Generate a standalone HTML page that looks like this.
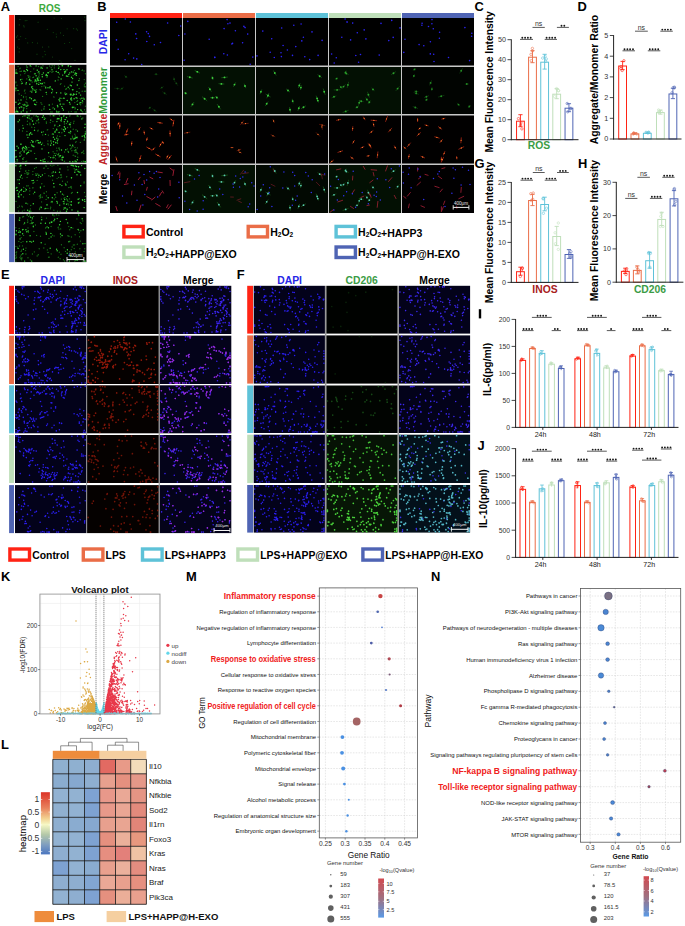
<!DOCTYPE html><html><head><meta charset="utf-8"><style>html,body{margin:0;padding:0;background:#fff;}svg{display:block;font-family:"Liberation Sans",sans-serif;}</style></head><body><svg width="685" height="926" viewBox="0 0 685 926" font-family="Liberation Sans">
<rect x="0.00" y="0.00" width="685.00" height="926.00" fill="#fff"/>
<defs><filter id="s" x="-2%" y="-2%" width="104%" height="104%"><feGaussianBlur stdDeviation="0.3"/></filter></defs>
<text x="0.7" y="10.8" font-size="12.9" fill="#000" font-weight="bold" text-anchor="start">A</text>
<text x="49.7" y="12.3" font-size="10" fill="#3daa3d" font-weight="bold" text-anchor="middle">ROS</text>
<rect x="14.90" y="15.00" width="71.50" height="247.10" fill="#e4e4e4"/>
<rect x="9.10" y="15.00" width="5.30" height="48.00" fill="#ff2314"/>
<rect x="14.90" y="15.00" width="71.50" height="48.00" fill="#010301"/>
<path d="M38.1 22.2h0M61.4 18.5h0M53.2 32.6h0M19.0 39.4h0M17.6 35.8h0M19.9 19.4h0M45.3 54.7h0M23.8 25.7h0M59.8 60.5h0M56.2 34.0h0M84.7 17.2h0M76.3 28.9h0M25.2 20.7h0M37.0 54.2h0M27.8 42.9h0M60.6 32.9h0M54.1 18.0h0M19.2 24.9h0M63.5 35.5h0M37.4 43.1h0M47.3 29.4h0M71.7 48.6h0M32.4 42.6h0M52.5 57.0h0M67.1 28.8h0M85.0 20.7h0M44.8 51.3h0M25.8 38.5h0M17.7 47.1h0M69.6 42.5h0M77.5 30.1h0M64.6 43.5h0M56.4 36.9h0M75.0 60.3h0M48.8 46.9h0M19.2 48.7h0M61.2 62.0h0M73.7 28.7h0M42.5 47.1h0M16.5 37.2h0M26.9 20.6h0M19.1 51.9h0M24.1 26.9h0M42.9 56.8h0M20.7 36.6h0" stroke="#145214" stroke-width="1.20" stroke-linecap="round" opacity="0.8" fill="none" filter="url(#s)"/>
<rect x="9.10" y="64.80" width="5.30" height="48.20" fill="#ea6d47"/>
<rect x="14.90" y="64.80" width="71.50" height="48.20" fill="#010301"/>
<path d="M15.9 70.1h0M30.0 76.9h0M74.4 70.4h0M26.1 96.9h0M62.3 104.1h0M80.6 104.7h0M80.5 99.1h0M25.6 71.6h0M40.9 83.3h0M43.9 109.3h0M16.8 111.3h0M64.6 86.2h0M46.6 94.3h0M26.0 106.6h0M41.7 110.3h0M58.4 65.8h0M69.4 88.8h0M40.0 89.8h0M54.1 97.1h0M36.7 102.2h0M30.6 110.7h0M68.7 76.2h0M23.5 96.5h0M15.9 81.9h0M27.2 103.0h0M25.9 101.9h0M71.3 111.6h0M53.0 71.5h0M24.4 91.0h0M51.2 67.8h0M23.7 71.1h0M57.9 72.4h0M60.3 103.4h0M25.6 71.8h0M33.7 89.7h0M59.4 66.9h0M82.0 111.5h0M59.5 74.0h0M74.9 112.0h0M43.0 65.8h0M34.5 81.7h0M84.4 86.6h0M19.2 94.0h0M84.3 79.6h0M36.8 81.5h0M60.4 84.3h0M31.8 87.8h0M51.9 72.2h0M84.5 109.7h0M16.3 109.9h0M50.8 112.0h0M84.4 91.2h0M38.8 77.1h0M80.1 98.6h0M79.8 102.6h0M25.2 93.1h0M52.4 104.1h0M40.8 90.1h0M71.0 93.6h0M66.4 88.6h0M34.4 73.9h0M59.8 100.2h0M24.9 90.0h0M36.3 81.9h0M63.7 98.2h0M44.0 108.3h0M41.8 86.6h0M32.2 82.1h0M53.3 107.6h0M79.1 69.2h0M84.4 84.9h0M76.0 112.0h0M85.4 112.0h0M24.8 73.6h0M28.0 75.8h0M20.2 68.1h0M61.9 65.8h0M84.4 99.2h0M85.4 91.3h0M83.5 97.9h0M82.3 103.1h0M80.6 109.8h0M53.7 96.9h0M24.4 104.3h0M76.9 101.5h0M49.7 66.0h0M65.7 70.7h0M44.7 82.9h0M77.6 100.5h0M23.5 109.5h0M79.4 78.8h0M26.8 78.9h0M61.8 98.4h0M32.6 86.4h0M32.7 77.6h0M33.6 77.2h0M41.9 104.2h0M82.2 91.3h0M18.4 100.1h0M18.1 66.4h0M23.5 97.6h0M52.2 65.8h0M73.2 75.6h0M21.5 81.6h0M21.4 71.2h0M65.7 89.2h0M16.1 107.9h0M54.3 65.8h0M56.5 111.0h0M52.2 112.0h0M35.5 100.3h0M52.7 91.0h0M66.6 88.7h0M84.1 70.9h0M85.4 83.3h0M44.1 86.0h0M79.5 103.8h0M22.7 104.6h0M75.4 107.9h0M28.8 76.0h0M82.1 70.4h0M50.0 71.4h0M22.0 79.3h0M28.6 77.4h0M15.9 90.7h0M34.8 80.0h0M32.2 90.2h0M44.3 106.5h0M36.6 89.7h0M82.9 101.8h0M31.1 66.4h0M73.4 89.8h0M26.6 99.1h0M39.2 75.0h0M20.5 74.9h0M19.9 68.7h0M58.4 77.0h0M51.5 88.6h0M58.1 80.0h0M37.4 70.3h0M21.4 83.7h0M68.3 66.3h0M85.4 106.3h0M81.2 102.4h0M39.0 82.5h0M39.6 73.2h0M85.4 86.8h0M72.4 107.7h0M59.6 111.7h0M82.8 112.0h0M33.3 100.8h0M39.1 77.9h0M59.0 77.4h0M37.5 78.1h0M17.0 85.3h0M41.0 102.7h0M21.5 95.4h0M74.8 102.6h0M70.2 94.1h0M68.7 112.0h0M26.7 108.6h0M15.9 82.7h0M20.1 71.4h0M33.8 68.9h0M30.7 71.6h0M16.3 69.8h0M26.4 65.8h0M26.0 105.1h0M54.3 67.9h0M38.1 72.7h0M15.9 89.7h0M38.7 76.6h0M85.4 73.8h0M75.0 108.9h0M26.9 102.8h0M35.1 80.5h0M47.0 77.3h0M82.5 69.9h0M40.8 68.5h0M76.3 112.0h0M80.2 104.1h0M44.1 82.7h0M42.6 96.4h0M15.9 87.4h0M38.5 66.5h0M50.9 112.0h0M30.3 91.2h0M79.2 88.4h0M61.0 83.6h0M52.8 108.0h0" stroke="#1c7a1c" stroke-width="1.40" stroke-linecap="round" opacity="0.9" fill="none" filter="url(#s)"/>
<path d="M70.1 104.1h0M18.4 104.3h0M23.8 105.1h0M38.6 80.6h0M68.8 74.4h0M73.2 72.1h0M31.8 92.0h0M77.1 98.1h0M80.6 95.1h0M47.1 67.9h0M57.5 105.4h0M68.3 65.8h0M32.7 88.7h0M18.0 90.4h0M45.7 87.1h0M64.0 98.3h0M45.7 87.9h0M63.4 110.0h0M71.5 77.3h0M68.2 87.2h0M47.3 75.7h0M36.1 75.8h0M81.1 110.2h0M67.3 76.2h0M35.0 90.3h0M78.8 68.9h0M26.0 83.9h0M82.4 100.8h0M70.9 99.5h0M60.0 98.2h0M36.8 83.8h0M15.9 73.2h0M62.5 65.8h0M26.4 82.6h0M17.1 111.2h0M58.2 112.0h0M27.1 67.1h0M66.4 76.0h0M30.2 65.8h0M42.3 76.7h0M77.3 85.0h0M60.2 104.6h0M42.2 68.2h0M61.1 79.0h0M50.1 86.6h0M27.9 105.2h0M40.4 80.2h0M35.9 81.0h0M37.5 80.0h0M34.6 104.2h0M77.4 104.4h0M15.9 88.5h0M76.5 73.4h0M51.7 92.7h0M49.2 105.0h0M63.9 104.1h0M35.8 92.4h0M69.7 72.9h0M17.1 73.2h0M38.8 71.8h0M31.6 87.0h0M71.3 85.7h0M29.7 79.2h0M56.5 92.7h0M15.9 102.3h0M77.6 109.6h0M59.0 99.7h0M66.6 93.9h0M42.0 83.9h0M67.0 69.7h0M22.2 83.3h0M71.7 100.1h0M67.2 100.5h0M71.4 98.0h0M46.1 75.5h0M36.1 65.9h0M76.3 94.3h0M65.0 93.1h0M35.1 73.7h0M60.8 92.9h0M71.5 71.9h0M19.5 107.7h0M17.9 112.0h0M29.3 80.0h0M78.9 80.6h0M70.8 66.5h0M49.8 109.4h0M52.0 69.7h0M42.1 74.6h0M21.8 107.1h0M29.9 97.8h0M65.4 94.6h0M15.9 112.0h0M61.8 106.6h0M49.8 87.7h0M84.0 98.9h0M47.9 72.7h0M19.8 103.3h0M71.1 94.8h0M30.9 80.8h0M79.1 92.9h0M31.4 98.7h0M46.3 74.5h0M72.0 82.1h0M34.7 99.9h0M65.6 71.8h0M74.1 98.8h0M24.9 104.9h0M55.3 80.9h0M40.5 83.6h0M38.0 79.3h0M29.8 84.2h0M33.9 100.5h0M74.9 74.3h0M80.4 102.6h0M58.6 68.3h0M73.0 95.3h0M58.3 72.5h0M24.2 71.0h0M73.8 107.2h0M62.5 108.4h0M64.0 69.6h0M21.0 100.0h0M62.7 75.1h0M81.9 98.3h0M70.9 98.5h0M76.1 97.8h0M35.8 104.7h0M52.3 89.4h0M35.6 79.9h0M23.9 108.0h0M21.2 112.0h0M73.7 94.0h0M27.5 70.5h0M41.1 67.3h0M56.2 71.5h0M72.4 107.2h0M26.9 112.0h0M21.1 106.9h0M76.9 91.6h0M72.5 89.7h0M64.6 73.1h0M70.2 85.1h0M74.1 94.4h0M46.2 92.4h0M38.7 84.4h0M26.7 69.4h0M76.3 75.3h0M42.3 83.4h0M75.3 73.0h0M64.6 71.8h0M35.9 91.7h0M15.9 111.9h0M43.4 72.9h0M20.6 79.8h0M26.8 106.3h0M37.3 78.2h0M48.5 72.8h0M23.2 110.8h0M54.5 109.0h0M59.8 101.1h0M37.2 70.1h0M57.8 106.7h0M16.0 72.1h0M56.7 111.9h0M70.4 94.8h0M72.6 78.5h0M48.0 87.8h0M69.5 102.5h0M60.8 69.6h0" stroke="#36d636" stroke-width="1.44" stroke-linecap="round" opacity="1" fill="none" filter="url(#s)"/>
<rect x="9.10" y="114.70" width="5.30" height="48.00" fill="#5ec2d8"/>
<rect x="14.90" y="114.70" width="71.50" height="48.00" fill="#010301"/>
<path d="M59.5 149.7h0M46.3 121.9h0M74.6 161.7h0M38.8 122.8h0M30.5 142.6h0M26.8 161.1h0M72.4 136.3h0M54.7 115.7h0M83.6 151.0h0M29.3 118.3h0M61.1 159.6h0M38.0 120.7h0M70.7 122.7h0M53.5 155.9h0M70.2 133.5h0M24.3 150.8h0M27.4 121.3h0M56.1 130.4h0M71.8 147.0h0M81.5 161.7h0M50.2 115.7h0M49.0 156.6h0M64.5 119.4h0M75.0 155.9h0M50.3 122.6h0M75.5 156.4h0M70.0 115.7h0M59.1 156.9h0M47.7 129.7h0M21.4 155.0h0M27.2 115.7h0M57.3 136.0h0M59.5 115.7h0M70.0 125.1h0M73.2 155.2h0M47.9 143.7h0M72.6 137.7h0M26.6 154.3h0M42.7 134.9h0M52.5 133.7h0M70.4 131.0h0M61.8 128.9h0M62.6 156.2h0M77.4 147.9h0M57.0 150.8h0M73.6 123.3h0M64.3 161.1h0M28.9 118.2h0M78.2 116.3h0M23.9 115.7h0M53.1 151.7h0M22.5 131.0h0M83.2 161.3h0M22.7 158.7h0M38.1 142.9h0M80.4 142.4h0M21.0 151.4h0M54.5 125.9h0M47.9 141.0h0M66.4 123.5h0M55.2 131.1h0M77.1 152.8h0M38.1 130.3h0M75.6 142.2h0M46.4 123.2h0M73.1 146.6h0M22.7 125.5h0M67.7 122.1h0M31.8 117.9h0M56.1 153.8h0M68.0 151.2h0M27.4 124.5h0M42.6 143.1h0M64.5 127.4h0M76.2 141.6h0M30.1 119.0h0M71.0 148.5h0M85.4 133.0h0M73.3 138.9h0M75.4 138.1h0M75.1 160.5h0M77.7 153.7h0M36.3 140.4h0M19.4 129.9h0M70.4 148.9h0M52.9 121.6h0M67.6 127.5h0M48.4 135.1h0M33.9 115.7h0M47.2 129.9h0M37.8 131.0h0M77.0 138.0h0M23.8 157.6h0M80.6 116.2h0M44.4 117.6h0M51.5 161.7h0M29.1 150.4h0M58.0 126.6h0M74.9 152.0h0M24.5 115.7h0M38.5 140.6h0M22.6 116.5h0M34.6 153.4h0M58.7 153.4h0M74.4 150.4h0M81.6 152.7h0M74.0 121.2h0M55.3 132.0h0M55.6 158.9h0M82.6 152.3h0M76.0 129.8h0M73.2 129.3h0M77.8 157.2h0M53.3 128.6h0M16.5 156.4h0M85.2 133.9h0M35.7 141.7h0M75.3 136.0h0M44.1 145.6h0M71.9 150.7h0M54.4 153.5h0M32.2 120.9h0M60.5 120.4h0M83.8 153.5h0M41.8 160.7h0M64.4 124.0h0M36.6 120.8h0M31.2 119.4h0M23.0 161.7h0M25.9 161.7h0M69.6 116.1h0M25.3 115.7h0M64.6 152.0h0M57.0 130.2h0M34.6 127.6h0M25.2 161.7h0M43.4 131.8h0M48.1 144.8h0M29.9 123.3h0M84.4 161.7h0M48.0 161.7h0M70.6 127.0h0M67.4 148.9h0M27.2 149.0h0M26.1 150.1h0M20.8 144.4h0M75.0 147.5h0M85.1 161.7h0M61.8 158.0h0M56.7 148.1h0M63.6 116.5h0M83.9 161.2h0M64.6 161.7h0M52.3 134.2h0M45.5 118.5h0M59.8 136.4h0M15.9 161.7h0M24.0 151.3h0M30.0 124.7h0M31.8 127.2h0M26.9 131.4h0M26.0 161.7h0M17.6 161.1h0M35.7 123.3h0M28.9 147.4h0M61.9 132.7h0M85.4 131.4h0M74.9 134.2h0M82.8 118.0h0M54.4 157.6h0" stroke="#1c7a1c" stroke-width="1.40" stroke-linecap="round" opacity="0.9" fill="none" filter="url(#s)"/>
<path d="M55.4 155.6h0M62.2 157.6h0M63.9 115.7h0M65.5 119.6h0M29.0 115.8h0M33.2 146.1h0M42.5 117.4h0M31.7 140.6h0M57.5 140.8h0M27.0 134.9h0M69.4 124.3h0M58.0 139.1h0M23.0 159.1h0M22.4 148.3h0M60.6 155.7h0M44.9 161.7h0M61.4 119.3h0M76.1 137.6h0M63.4 129.8h0M51.5 161.7h0M24.3 148.1h0M26.8 153.4h0M69.0 132.5h0M40.6 160.5h0M53.4 137.3h0M54.6 139.3h0M69.9 161.7h0M18.1 121.7h0M75.0 138.3h0M40.4 142.2h0M53.1 157.7h0M70.1 145.2h0M65.8 149.8h0M77.3 159.8h0M27.4 117.6h0M23.2 128.2h0M32.7 142.1h0M70.9 138.9h0M72.8 161.7h0M85.4 161.7h0M27.4 152.8h0M56.9 121.6h0M32.9 142.2h0M43.4 115.7h0M56.7 129.3h0M53.6 144.7h0M84.5 136.3h0M20.8 144.1h0M57.5 143.1h0M24.2 152.0h0M68.5 152.1h0M57.9 118.5h0M77.5 131.1h0M32.6 121.0h0M17.1 159.8h0M53.3 115.7h0M44.3 119.3h0M21.1 144.1h0M85.4 133.9h0M77.3 115.9h0M81.8 118.9h0M38.4 119.2h0M59.0 118.7h0M50.9 140.9h0M64.4 126.8h0M44.7 159.1h0M17.0 146.2h0M54.9 132.0h0M30.7 132.8h0M55.8 142.4h0M38.6 142.8h0M61.5 150.0h0M53.3 134.1h0M76.1 152.1h0M72.7 145.3h0M50.6 145.2h0M41.5 144.5h0M22.6 149.9h0M65.5 128.5h0M54.9 125.1h0M59.7 125.5h0M43.1 159.9h0M15.9 157.0h0M84.8 127.6h0M77.0 137.3h0M33.9 146.7h0M26.5 147.5h0M31.0 151.0h0M75.8 150.0h0M62.3 160.0h0M36.2 115.9h0M27.9 137.6h0M56.7 138.1h0M32.3 146.0h0M25.9 148.9h0M59.0 148.1h0M50.7 157.6h0M61.5 117.7h0M19.5 120.0h0M84.3 139.9h0M29.8 133.7h0M50.7 120.1h0M85.1 124.2h0M75.9 161.4h0M70.7 131.7h0M84.9 137.8h0M53.5 141.7h0M61.3 120.9h0M74.0 139.0h0M64.4 131.2h0M66.5 117.5h0M70.2 124.5h0M64.3 121.8h0M37.8 140.5h0M18.4 148.0h0M58.1 154.8h0M15.9 150.5h0M51.4 143.1h0M31.7 144.9h0M42.0 148.9h0M65.2 129.2h0M20.0 153.0h0M43.2 161.7h0M39.8 143.0h0M67.5 121.3h0M76.2 161.7h0M33.5 124.3h0M48.6 152.7h0M45.5 134.4h0M41.7 132.2h0M25.6 146.5h0M20.0 156.2h0M31.9 134.3h0M36.0 158.8h0M55.8 142.7h0M33.0 141.4h0M45.1 161.7h0M34.5 130.3h0M63.2 157.3h0M29.3 135.0h0M59.1 132.5h0M59.7 155.9h0M84.2 135.4h0M23.3 147.2h0M37.9 116.8h0M82.2 136.2h0M28.6 152.3h0M57.3 118.9h0M65.0 135.6h0M27.5 117.8h0" stroke="#36d636" stroke-width="1.44" stroke-linecap="round" opacity="1" fill="none" filter="url(#s)"/>
<rect x="9.10" y="164.20" width="5.30" height="48.00" fill="#bfdfba"/>
<rect x="14.90" y="164.20" width="71.50" height="48.00" fill="#010301"/>
<path d="M29.7 188.2h0M50.4 208.8h0M84.2 182.0h0M39.7 208.3h0M69.6 207.6h0M32.8 174.6h0M39.5 209.5h0M22.4 206.9h0M50.4 165.2h0M36.2 167.5h0M54.2 198.9h0M20.8 166.8h0M51.0 202.1h0M70.0 202.0h0M40.6 196.0h0M46.1 166.4h0M42.3 197.3h0M39.2 196.1h0M33.4 193.8h0M18.6 211.1h0M67.0 208.5h0M53.1 175.7h0M77.9 169.9h0M55.7 197.3h0M79.3 198.5h0M20.6 165.8h0M62.5 181.2h0M28.8 170.5h0M67.2 199.5h0M37.7 174.0h0M47.9 208.4h0M65.5 184.8h0M25.5 188.7h0M26.8 173.1h0M64.0 198.2h0M44.1 167.9h0M53.9 165.2h0M24.9 173.6h0M68.7 187.6h0M37.2 180.4h0M50.4 176.6h0M32.9 171.6h0M72.3 192.5h0M27.1 177.4h0M48.0 168.4h0M68.6 204.9h0M61.6 177.1h0M17.9 207.6h0M63.7 209.4h0M43.9 168.4h0M63.7 195.0h0M30.7 205.5h0M46.0 165.2h0M27.3 174.6h0M64.2 201.9h0M52.1 165.9h0M46.5 195.9h0M23.5 197.0h0M40.4 186.6h0M79.1 202.1h0M20.7 168.7h0M71.4 193.3h0M84.1 183.0h0M38.3 177.3h0M19.4 206.1h0M67.4 200.4h0M33.0 187.8h0M28.1 185.8h0M41.6 201.9h0M70.2 187.2h0M22.2 178.3h0M57.1 178.6h0M78.6 199.2h0M17.4 179.8h0M32.7 187.9h0M44.1 186.3h0M27.9 172.9h0M16.7 190.5h0M75.1 170.3h0M71.5 188.0h0M28.1 174.2h0M29.6 194.4h0M27.7 203.9h0M15.9 201.4h0M40.6 197.5h0M31.0 211.2h0M74.2 168.8h0M30.1 211.2h0M47.1 204.4h0M25.7 171.3h0M65.4 183.4h0M19.4 166.2h0M73.4 166.0h0M24.2 210.1h0M70.9 165.2h0M67.4 182.0h0M26.8 172.7h0M68.0 169.9h0M64.1 201.3h0M41.8 183.8h0M44.5 208.7h0M61.3 199.1h0M65.0 197.6h0M23.7 187.5h0M30.7 211.2h0M50.7 207.3h0M68.0 203.6h0M85.4 196.4h0M58.7 177.4h0M28.8 173.1h0M52.2 202.6h0M20.5 165.3h0M60.9 177.7h0M25.4 191.0h0M57.1 192.8h0M40.6 194.7h0M69.5 198.9h0M60.2 211.2h0M53.9 210.2h0M34.1 182.2h0M34.5 168.5h0M44.9 173.6h0M57.9 165.2h0M22.3 211.1h0M71.4 178.1h0M52.6 180.2h0M84.5 192.5h0M16.1 201.5h0M68.0 201.3h0M43.8 193.1h0M66.6 198.7h0M57.4 211.2h0M39.9 198.1h0M25.9 170.7h0M35.9 173.7h0M66.7 176.8h0M40.9 206.6h0M77.6 171.4h0M30.3 208.9h0M48.7 175.7h0M52.0 173.0h0M46.1 199.4h0M26.6 185.9h0M39.8 196.0h0M71.1 186.5h0M44.3 193.2h0M29.8 190.9h0M67.7 166.9h0M21.9 206.3h0M46.4 191.7h0" stroke="#1c7a1c" stroke-width="1.40" stroke-linecap="round" opacity="0.9" fill="none" filter="url(#s)"/>
<path d="M32.0 180.6h0M21.5 189.5h0M19.2 179.7h0M26.4 189.7h0M54.0 186.9h0M52.0 201.5h0M78.6 171.8h0M66.0 184.9h0M66.6 204.3h0M74.8 172.3h0M80.7 175.0h0M16.2 188.1h0M66.5 211.2h0M64.0 203.7h0M60.0 184.5h0M80.7 185.8h0M33.1 183.1h0M65.4 207.9h0M33.3 180.4h0M18.4 196.4h0M77.9 211.2h0M57.4 203.0h0M48.2 197.7h0M55.5 172.3h0M19.0 196.1h0M45.8 208.5h0M72.0 209.9h0M40.7 176.6h0M79.9 172.2h0M81.6 165.6h0M17.4 190.4h0M75.4 165.9h0M64.7 199.5h0M78.8 202.7h0M27.6 210.3h0M71.4 205.1h0M54.9 194.7h0M20.4 177.0h0M73.1 165.7h0M76.2 169.5h0M52.4 175.7h0M52.3 197.7h0M36.2 175.2h0M60.0 168.9h0M42.4 175.0h0M62.4 194.1h0M71.5 177.8h0M59.7 205.1h0M82.7 200.3h0M82.5 199.7h0M41.2 207.5h0M23.8 191.4h0M47.0 205.0h0M84.6 199.6h0M40.4 187.7h0M78.4 203.0h0M15.9 165.8h0M76.5 166.5h0M29.3 211.2h0M21.2 194.7h0M67.2 209.6h0M20.8 165.2h0M26.0 203.2h0M71.8 165.2h0M56.9 201.4h0M84.8 201.4h0M59.5 172.2h0M19.3 192.0h0M21.0 190.5h0M71.4 201.8h0M84.1 207.6h0M71.0 204.7h0M64.2 208.0h0M77.0 174.8h0M25.7 165.2h0M63.3 201.6h0M60.6 191.7h0M33.3 203.7h0M19.0 197.0h0M21.3 175.3h0M19.6 171.6h0M84.8 168.5h0M53.7 183.5h0M18.3 194.0h0M61.9 185.6h0M78.6 166.8h0M53.3 171.9h0M38.9 175.3h0M61.0 174.9h0M16.9 187.4h0M67.4 196.4h0M34.7 192.2h0M19.3 183.6h0M77.5 192.5h0M78.1 199.3h0" stroke="#36d636" stroke-width="1.44" stroke-linecap="round" opacity="1" fill="none" filter="url(#s)"/>
<rect x="9.10" y="213.90" width="5.30" height="48.20" fill="#4f64b4"/>
<rect x="14.90" y="213.90" width="71.50" height="48.20" fill="#010301"/>
<path d="M26.0 248.1h0M64.1 247.8h0M77.3 244.3h0M40.5 236.3h0M80.9 230.7h0M79.6 236.7h0M58.1 227.8h0M59.3 252.3h0M85.4 243.6h0M41.6 217.2h0M64.6 261.0h0M65.5 251.4h0M47.9 252.4h0M47.3 249.9h0M58.3 257.3h0M38.3 254.8h0M33.9 231.5h0M30.2 223.6h0M15.9 246.5h0M69.9 241.2h0M73.3 245.0h0M20.2 232.1h0M69.0 236.3h0M16.3 254.1h0M22.6 217.0h0M16.7 257.1h0M54.1 235.9h0M19.6 246.0h0M69.7 229.8h0M27.8 222.0h0M19.3 230.7h0M60.7 228.9h0M69.7 251.8h0M48.5 257.3h0M37.2 256.0h0M15.9 255.7h0M19.8 235.4h0M48.2 252.4h0M36.6 235.4h0M77.1 259.3h0M28.0 227.9h0M35.4 225.0h0M30.1 241.6h0M45.9 232.2h0M81.4 223.6h0M45.6 228.0h0M22.5 245.9h0M74.2 248.5h0M28.0 257.8h0M25.9 254.0h0M29.7 215.0h0M15.9 258.5h0M70.2 256.5h0M84.1 251.5h0M20.4 256.1h0M56.7 214.9h0M49.0 238.6h0M31.5 222.3h0M84.7 248.7h0M17.6 247.1h0M52.4 235.2h0M46.5 218.1h0M21.4 254.8h0M15.9 261.1h0M60.1 258.7h0M75.4 260.5h0M79.5 232.6h0M80.3 222.8h0M80.4 241.1h0M20.0 257.6h0M34.3 251.9h0M32.3 219.0h0M47.3 226.7h0M54.1 215.9h0M49.0 238.4h0M63.4 259.8h0M15.9 227.7h0M82.8 220.9h0M21.1 242.4h0M70.7 227.7h0M71.4 237.0h0M84.6 243.6h0M46.4 227.1h0M19.2 228.4h0M60.6 236.9h0M74.6 244.9h0M16.1 252.5h0M71.3 249.8h0M21.5 250.1h0M49.4 257.1h0M39.2 248.7h0M21.6 259.8h0M21.3 258.5h0M51.2 253.9h0M45.1 244.2h0M27.7 220.0h0M78.7 230.4h0M21.2 237.6h0M28.7 216.5h0M74.7 261.1h0M32.4 254.0h0M27.4 222.6h0M33.3 227.0h0M79.9 248.7h0M15.9 235.1h0M68.7 226.6h0M23.6 216.5h0M19.0 219.9h0M18.8 241.4h0M56.3 214.9h0M28.4 232.2h0M58.3 227.1h0M58.9 229.1h0M67.9 235.7h0M58.8 215.1h0M52.3 221.9h0M15.9 257.9h0M20.8 258.7h0M25.6 250.6h0M76.9 218.9h0M21.1 251.4h0M31.1 220.4h0M33.6 216.4h0M75.3 251.9h0M51.1 226.5h0M82.3 261.1h0M23.8 224.1h0M21.9 258.2h0M72.9 228.1h0M16.7 251.9h0M72.2 247.0h0M43.8 248.0h0M78.8 215.6h0M21.9 257.6h0M75.1 234.7h0M61.0 254.3h0M23.0 241.6h0M30.3 259.9h0M23.6 235.4h0M61.4 244.8h0" stroke="#1c7a1c" stroke-width="1.40" stroke-linecap="round" opacity="0.9" fill="none" filter="url(#s)"/>
<path d="M51.5 222.4h0M22.6 233.7h0M20.1 238.9h0M22.8 253.8h0M32.0 223.6h0M62.1 235.5h0M67.4 249.7h0M71.4 227.6h0M26.8 231.7h0M51.4 222.0h0M41.2 242.8h0M57.2 218.6h0M25.9 229.7h0M56.6 249.2h0M32.4 217.9h0M19.8 218.0h0M33.0 222.6h0M78.1 229.4h0M78.6 214.9h0M51.1 236.9h0M60.5 234.0h0M18.1 248.4h0M23.0 229.4h0M31.7 261.1h0M22.6 229.7h0M59.6 224.7h0M60.4 221.4h0M66.2 219.5h0M30.6 217.3h0M30.0 241.5h0M71.1 255.6h0M85.4 261.1h0M69.4 261.1h0M27.2 214.9h0M16.0 234.2h0M84.3 261.1h0M23.4 249.3h0M67.2 253.3h0M54.0 220.7h0M30.1 235.7h0M26.8 241.8h0M68.9 241.7h0M19.6 220.3h0M77.1 260.2h0M52.8 214.9h0M50.2 248.2h0M67.6 222.9h0M28.2 230.9h0M78.9 254.8h0M46.3 234.2h0M82.9 243.7h0M20.4 232.0h0M45.4 223.2h0M41.7 219.7h0M46.3 233.1h0M24.6 223.0h0M48.4 227.7h0M54.7 219.3h0M16.4 230.8h0M40.9 223.2h0M31.6 242.1h0M33.3 226.3h0M83.3 229.7h0M33.4 241.3h0M57.2 250.7h0M24.6 261.1h0M49.7 223.0h0M50.9 233.4h0M18.8 232.2h0M82.2 218.7h0" stroke="#36d636" stroke-width="1.44" stroke-linecap="round" opacity="1" fill="none" filter="url(#s)"/>
<line x1="67.00" y1="259.60" x2="83.90" y2="259.60" stroke="#f4f4f4" stroke-width="1.0"/>
<line x1="67.00" y1="257.00" x2="67.00" y2="261.60" stroke="#f4f4f4" stroke-width="0.9"/>
<line x1="83.90" y1="257.00" x2="83.90" y2="261.60" stroke="#f4f4f4" stroke-width="0.9"/>
<text x="75.5" y="256.8" font-size="4.6" fill="#e8e8e8" text-anchor="middle">400μm</text>
<text x="97.2" y="10.9" font-size="12.9" fill="#000" font-weight="bold" text-anchor="start">B</text>
<rect x="110.00" y="13.00" width="72.00" height="5.00" fill="#ff2314"/>
<rect x="183.00" y="13.00" width="72.00" height="5.00" fill="#ea6d47"/>
<rect x="256.00" y="13.00" width="72.00" height="5.00" fill="#5ec2d8"/>
<rect x="329.00" y="13.00" width="72.00" height="5.00" fill="#bfdfba"/>
<rect x="402.00" y="13.00" width="72.00" height="5.00" fill="#4f64b4"/>
<rect x="110.00" y="18.00" width="364.00" height="195.00" fill="#c8c8c8"/>
<text x="107.3" y="41.8" font-size="10.35" font-weight="bold" fill="#2626e6" text-anchor="middle" transform="rotate(-90 107.3 41.8)">DAPI</text>
<text x="107.3" y="165" font-size="10.35" font-weight="bold" text-anchor="start" transform="rotate(-90 107.3 165)"><tspan fill="#c0282a">Aggregate</tspan><tspan fill="#2f9a3a">Monomer</tspan></text>
<text x="107.3" y="189" font-size="10.35" font-weight="bold" fill="#000" text-anchor="middle" transform="rotate(-90 107.3 189)">Merge</text>
<rect x="110.00" y="18.00" width="72.00" height="47.50" fill="#000"/>
<path d="M149.5 36.4h0M167.6 23.0h0M128.7 53.8h0M141.7 64.5h0M116.5 39.9h0M125.3 19.0h0M116.7 22.3h0M136.6 38.5h0M146.6 31.7h0M160.5 42.5h0M180.7 26.0h0M146.8 41.5h0M136.8 58.9h0M125.1 59.7h0M135.8 33.9h0M154.3 44.8h0M130.4 22.0h0M178.8 35.5h0M118.2 49.2h0M148.3 33.6h0M133.6 58.1h0" stroke="#2c24f4" stroke-width="1.60" stroke-linecap="round" opacity="1" fill="none" filter="url(#s)"/>
<rect x="110.00" y="67.00" width="72.00" height="47.00" fill="#010201"/>
<path d="M123.8 86.9L120.0 90.2M163.5 86.4L160.0 88.9M114.6 88.2L120.3 89.0M174.9 81.3L177.9 85.6M124.3 75.6L127.4 77.7M152.3 108.6L156.9 112.2M151.1 106.9L148.5 108.6M154.2 74.3L158.0 74.4M162.4 91.8L166.8 94.9M173.8 76.9L174.5 81.5" stroke="#124a12" stroke-width="0.7" stroke-linecap="round" opacity="0.45" fill="none" filter="url(#s)"/>
<path d="M121.9 88.6h0M161.8 87.6h0M117.5 88.6h0M176.4 83.4h0M125.9 76.7h0M154.6 110.4h0M149.8 107.7h0M156.1 74.3h0M164.6 93.3h0M174.1 79.2h0" stroke="#124a12" stroke-width="1.90" stroke-linecap="round" opacity="1" fill="none" filter="url(#s)"/>
<rect x="110.00" y="115.50" width="72.00" height="48.00" fill="#010000"/>
<path d="M173.9 120.2L172.9 126.0M155.0 147.7L151.8 150.4M131.9 141.6L131.5 145.3M170.0 130.9L170.2 136.1M168.1 155.2L166.6 158.2M171.2 155.5L168.0 159.5M147.3 137.8L146.5 140.7M155.7 154.1L160.2 156.7M157.8 122.5L162.3 123.2M127.8 128.9L126.0 133.4M162.3 141.4L163.5 143.6M120.0 123.5L119.6 128.5M128.1 134.3L124.3 135.0M161.5 142.9L159.5 146.5M146.8 147.1L151.4 149.6M170.0 118.6L172.7 120.6M119.0 122.3L117.8 125.0M115.9 157.0L117.2 161.2M144.0 131.0L144.5 134.2M150.0 127.8L152.9 129.3M141.0 155.6L139.2 161.3M140.2 127.7L138.3 130.2" stroke="#e0301c" stroke-width="0.9" stroke-linecap="round" opacity="0.765" fill="none" filter="url(#s)"/>
<path d="M173.4 123.1h0M153.4 149.1h0M131.7 143.5h0M170.1 133.5h0M167.3 156.7h0M169.6 157.5h0M146.9 139.2h0M158.0 155.4h0M160.0 122.8h0M126.9 131.1h0M162.9 142.5h0M119.8 126.0h0M126.2 134.7h0M160.5 144.7h0M149.1 148.3h0M171.4 119.6h0M118.4 123.7h0M116.5 159.1h0M144.2 132.6h0M151.4 128.6h0M140.1 158.4h0M139.3 129.0h0" stroke="#ff7a28" stroke-width="1.30" stroke-linecap="round" opacity="1" fill="none" filter="url(#s)"/>
<rect x="110.00" y="165.00" width="72.00" height="48.00" fill="#010001"/>
<path d="M173.9 169.7L172.9 175.5M155.0 197.2L151.8 199.9M131.9 191.1L131.5 194.8M170.0 180.4L170.2 185.6M168.1 204.7L166.6 207.7M171.2 205.0L168.0 209.0M147.3 187.3L146.5 190.2M155.7 203.6L160.2 206.2M157.8 172.0L162.3 172.7M127.8 178.4L126.0 182.9M162.3 190.9L163.5 193.1M120.0 173.0L119.6 178.0M128.1 183.8L124.3 184.5M161.5 192.4L159.5 196.0M146.8 196.6L151.4 199.1M170.0 168.1L172.7 170.1M119.0 171.8L117.8 174.5M115.9 206.5L117.2 210.7M144.0 180.5L144.5 183.7M150.0 177.3L152.9 178.8M141.0 205.1L139.2 210.8M140.2 177.2L138.3 179.7" stroke="#e02a48" stroke-width="0.9" stroke-linecap="round" opacity="0.765" fill="none" filter="url(#s)"/>
<path d="M134.4 185.0h0M178.9 182.3h0M138.9 172.8h0M157.7 196.9h0M142.1 184.5h0M126.8 202.9h0M142.9 204.9h0M137.0 200.2h0M112.1 175.5h0M179.2 197.8h0M158.7 188.9h0M144.0 174.5h0M122.5 196.0h0M160.0 177.4h0M156.4 171.5h0M154.1 173.2h0M146.7 180.1h0M149.6 171.4h0M144.8 194.6h0M119.7 179.8h0" stroke="#3030f0" stroke-width="1.50" stroke-linecap="round" opacity="1" fill="none" filter="url(#s)"/>
<rect x="183.00" y="18.00" width="72.00" height="47.50" fill="#000"/>
<path d="M231.9 43.9h0M227.4 55.0h0M224.1 28.6h0M214.9 57.4h0M223.8 53.8h0M209.2 39.3h0M252.8 57.1h0M230.0 23.1h0M227.1 19.6h0M250.2 64.2h0M235.4 30.7h0M243.9 26.4h0M242.6 42.7h0M184.1 60.3h0M214.7 57.4h0M232.6 43.3h0M245.1 27.6h0M247.7 34.1h0M184.9 34.0h0M187.8 21.4h0M227.9 23.7h0" stroke="#2c24f4" stroke-width="1.60" stroke-linecap="round" opacity="1" fill="none" filter="url(#s)"/>
<rect x="183.00" y="67.00" width="72.00" height="47.00" fill="#031003"/>
<path d="M227.4 77.1L221.7 77.7M215.5 96.5L218.0 98.6M202.3 96.9L206.9 100.6M187.3 76.6L192.3 78.0M208.7 87.3L211.2 91.3M212.1 76.2L212.9 79.7M193.8 102.4L191.2 106.4M244.3 84.1L245.7 87.8M210.4 97.7L214.6 97.8M218.9 83.7L223.9 84.0M184.5 92.7L186.8 93.9M195.1 70.7L199.5 72.9M235.5 82.8L233.6 86.4M217.3 104.4L220.4 109.0" stroke="#3cd03c" stroke-width="0.7" stroke-linecap="round" opacity="0.45" fill="none" filter="url(#s)"/>
<path d="M224.5 77.4h0M216.8 97.5h0M204.6 98.8h0M189.8 77.3h0M209.9 89.3h0M212.5 78.0h0M192.5 104.4h0M245.0 86.0h0M212.5 97.8h0M221.4 83.9h0M185.6 93.3h0M197.3 71.8h0M234.5 84.6h0M218.9 106.7h0" stroke="#3cd03c" stroke-width="1.90" stroke-linecap="round" opacity="1" fill="none" filter="url(#s)"/>
<rect x="183.00" y="115.50" width="72.00" height="48.00" fill="#010000"/>
<path d="M230.6 147.5L233.4 147.6M189.9 132.2L184.4 133.2M243.6 120.7L240.5 124.8M238.6 151.7L241.4 153.0M240.8 149.3L237.0 150.7M248.3 123.3L242.7 124.0" stroke="#e0301c" stroke-width="0.9" stroke-linecap="round" opacity="0.425" fill="none" filter="url(#s)"/>
<path d="M232.0 147.6h0M187.2 132.7h0M242.0 122.7h0M240.0 152.4h0M238.9 150.0h0M245.5 123.6h0" stroke="#ff7a28" stroke-width="1.30" stroke-linecap="round" opacity="1" fill="none" filter="url(#s)"/>
<rect x="183.00" y="165.00" width="72.00" height="48.00" fill="#031003"/>
<path d="M230.6 197.0L233.4 197.1M189.9 181.7L184.4 182.7M243.6 170.2L240.5 174.3M238.6 201.2L241.4 202.5M240.8 198.8L237.0 200.2M248.3 172.8L242.7 173.5" stroke="#e02a48" stroke-width="0.9" stroke-linecap="round" opacity="0.425" fill="none" filter="url(#s)"/>
<path d="M227.4 175.1L221.7 175.7M215.5 194.5L218.0 196.6M202.3 194.9L206.9 198.6M187.3 174.6L192.3 176.0M208.7 185.3L211.2 189.3M212.1 174.2L212.9 177.7M193.8 200.4L191.2 204.4M244.3 182.1L245.7 185.8M210.4 195.7L214.6 195.8M218.9 181.7L223.9 182.0M184.5 190.7L186.8 191.9M195.1 168.7L199.5 170.9M235.5 180.8L233.6 184.4M217.3 202.4L220.4 207.0" stroke="#3cd03c" stroke-width="0.7" stroke-linecap="round" opacity="0.45" fill="none" filter="url(#s)"/>
<path d="M224.5 175.4h0M216.8 195.5h0M204.6 196.8h0M189.8 175.3h0M209.9 187.3h0M212.5 176.0h0M192.5 202.4h0M245.0 184.0h0M212.5 195.8h0M221.4 181.9h0M185.6 191.3h0M197.3 169.8h0M234.5 182.6h0M218.9 204.7h0" stroke="#58c8b0" stroke-width="1.80" stroke-linecap="round" opacity="1" fill="none" filter="url(#s)"/>
<path d="M194.5 179.0h0M203.1 209.2h0M248.2 206.8h0M254.0 186.1h0M240.3 178.5h0M249.7 203.9h0M235.7 175.9h0M189.6 209.4h0M222.8 194.4h0M245.1 171.9h0M233.4 187.3h0M239.6 186.9h0M197.2 210.9h0M203.2 200.8h0M242.8 176.9h0M233.0 184.0h0M199.1 175.4h0M251.7 182.7h0M219.7 189.1h0M184.9 201.2h0" stroke="#3030f0" stroke-width="1.50" stroke-linecap="round" opacity="1" fill="none" filter="url(#s)"/>
<rect x="256.00" y="18.00" width="72.00" height="47.50" fill="#000"/>
<path d="M309.7 59.6h0M281.7 28.0h0M281.0 52.8h0M303.4 37.3h0M293.8 25.3h0M322.1 40.4h0M292.5 55.4h0M270.2 52.3h0M281.4 56.6h0M262.8 31.1h0M301.8 40.9h0M283.1 45.5h0M271.7 38.8h0M257.0 55.9h0M274.3 57.5h0M295.8 46.6h0M301.1 24.0h0M312.0 31.9h0M318.1 55.4h0M304.8 56.7h0M287.4 50.0h0" stroke="#2c24f4" stroke-width="1.60" stroke-linecap="round" opacity="1" fill="none" filter="url(#s)"/>
<rect x="256.00" y="67.00" width="72.00" height="47.00" fill="#020902"/>
<path d="M265.9 94.2L270.2 96.8M300.1 83.4L298.5 87.6M261.7 89.8L260.1 93.8M317.2 99.1L318.4 102.1M268.0 101.9L265.4 105.8M286.4 89.1L289.7 91.9M268.8 93.5L266.9 97.9M273.5 70.8L276.0 75.1M292.3 99.2L293.1 103.0M317.9 74.8L321.5 77.6M301.3 85.6L300.6 89.6M305.5 106.0L301.5 108.5M289.6 107.4L290.4 112.1M316.2 96.0L317.9 100.8M299.6 106.3L298.0 110.4M323.3 88.9L325.1 94.4" stroke="#38c838" stroke-width="0.7" stroke-linecap="round" opacity="0.45" fill="none" filter="url(#s)"/>
<path d="M268.1 95.5h0M299.3 85.5h0M260.9 91.8h0M317.8 100.6h0M266.7 103.8h0M288.0 90.5h0M267.9 95.7h0M274.8 73.0h0M292.7 101.1h0M319.7 76.2h0M300.9 87.6h0M303.5 107.2h0M290.0 109.7h0M317.1 98.4h0M298.8 108.3h0M324.2 91.7h0" stroke="#38c838" stroke-width="1.90" stroke-linecap="round" opacity="1" fill="none" filter="url(#s)"/>
<rect x="256.00" y="115.50" width="72.00" height="48.00" fill="#010000"/>
<path d="M319.5 124.4L324.9 125.7M316.3 132.7L319.7 136.2M321.5 124.5L322.3 129.3M271.1 134.8L274.9 136.7M273.1 119.6L274.2 122.5" stroke="#e0301c" stroke-width="0.9" stroke-linecap="round" opacity="0.3825" fill="none" filter="url(#s)"/>
<path d="M322.2 125.1h0M318.0 134.4h0M321.9 126.9h0M273.0 135.8h0M273.6 121.0h0" stroke="#ff7a28" stroke-width="1.30" stroke-linecap="round" opacity="1" fill="none" filter="url(#s)"/>
<rect x="256.00" y="165.00" width="72.00" height="48.00" fill="#020902"/>
<path d="M319.5 173.9L324.9 175.2M316.3 182.2L319.7 185.7M321.5 174.0L322.3 178.8M271.1 184.3L274.9 186.2M273.1 169.1L274.2 172.0" stroke="#e02a48" stroke-width="0.9" stroke-linecap="round" opacity="0.3825" fill="none" filter="url(#s)"/>
<path d="M265.9 192.2L270.2 194.8M300.1 181.4L298.5 185.6M261.7 187.8L260.1 191.8M317.2 197.1L318.4 200.1M268.0 199.9L265.4 203.8M286.4 187.1L289.7 189.9M268.8 191.5L266.9 195.9M273.5 168.8L276.0 173.1M292.3 197.2L293.1 201.0M317.9 172.8L321.5 175.6M301.3 183.6L300.6 187.6M305.5 204.0L301.5 206.5M289.6 205.4L290.4 210.1M316.2 194.0L317.9 198.8M299.6 204.3L298.0 208.4M323.3 186.9L325.1 192.4" stroke="#38c838" stroke-width="0.7" stroke-linecap="round" opacity="0.45" fill="none" filter="url(#s)"/>
<path d="M268.1 193.5h0M299.3 183.5h0M260.9 189.8h0M317.8 198.6h0M266.7 201.8h0M288.0 188.5h0M267.9 193.7h0M274.8 171.0h0M292.7 199.1h0M319.7 174.2h0M300.9 185.6h0M303.5 205.2h0M290.0 207.7h0M317.1 196.4h0M298.8 206.3h0M324.2 189.7h0" stroke="#58c8b0" stroke-width="1.80" stroke-linecap="round" opacity="1" fill="none" filter="url(#s)"/>
<path d="M324.6 174.1h0M263.3 184.8h0M292.7 172.2h0M271.9 206.6h0M283.9 172.1h0M269.2 192.7h0M269.7 187.8h0M294.7 186.1h0M292.3 205.2h0M257.2 209.6h0M270.3 166.8h0M311.3 192.4h0M294.7 175.4h0M312.2 179.7h0M308.3 176.0h0M297.2 196.1h0M282.8 188.0h0M260.7 195.9h0M305.8 172.4h0M295.6 200.2h0" stroke="#3030f0" stroke-width="1.50" stroke-linecap="round" opacity="1" fill="none" filter="url(#s)"/>
<rect x="329.00" y="18.00" width="72.00" height="47.50" fill="#000"/>
<path d="M336.3 57.8h0M391.7 20.4h0M346.9 22.0h0M347.2 22.1h0M364.2 29.9h0M350.6 39.9h0M355.8 55.5h0M381.0 23.4h0M345.1 19.0h0M352.7 23.1h0M379.2 55.1h0M400.0 27.9h0M331.6 54.0h0M358.6 62.2h0M357.3 32.8h0M334.2 63.0h0M365.9 38.9h0M360.5 54.5h0M388.8 40.6h0M341.8 37.3h0M393.2 37.4h0" stroke="#2c24f4" stroke-width="1.60" stroke-linecap="round" opacity="1" fill="none" filter="url(#s)"/>
<rect x="329.00" y="67.00" width="72.00" height="47.00" fill="#031003"/>
<path d="M399.2 86.7L396.0 90.6M346.1 71.0L345.1 73.7M358.3 106.7L355.6 107.8M337.7 77.9L335.5 79.2M344.3 72.8L348.3 74.5M345.2 84.7L341.8 88.5M359.8 100.2L358.6 105.4M348.6 82.1L347.2 87.7M371.8 88.2L374.3 90.6M348.3 110.4L343.0 112.4M365.7 97.8L368.2 101.1M339.9 86.0L341.9 88.1M395.6 71.8L391.5 74.5M340.1 89.8L334.1 89.9M370.4 100.8L368.2 103.6M367.5 92.1L369.3 97.2M359.2 100.8L363.2 101.6M336.0 96.0L332.0 97.7" stroke="#2aa02a" stroke-width="0.7" stroke-linecap="round" opacity="0.45" fill="none" filter="url(#s)"/>
<path d="M397.6 88.6h0M345.6 72.4h0M357.0 107.3h0M336.6 78.6h0M346.3 73.6h0M343.5 86.6h0M359.2 102.8h0M347.9 84.9h0M373.0 89.4h0M345.7 111.4h0M366.9 99.5h0M340.9 87.1h0M393.5 73.2h0M337.1 89.9h0M369.3 102.2h0M368.4 94.7h0M361.2 101.2h0M334.0 96.8h0" stroke="#2aa02a" stroke-width="1.90" stroke-linecap="round" opacity="1" fill="none" filter="url(#s)"/>
<rect x="329.00" y="115.50" width="72.00" height="48.00" fill="#010000"/>
<path d="M368.0 143.6L370.9 146.2M369.6 144.0L371.1 147.9M354.5 140.3L352.5 143.4M377.9 151.9L377.2 157.8M350.5 156.9L353.6 159.0M387.5 116.3L385.6 121.5M394.3 145.9L396.0 149.1M371.1 120.2L376.7 120.7M373.2 123.0L374.0 126.4M391.8 128.2L388.5 132.0M352.8 126.6L352.5 130.5M373.0 130.7L369.8 133.1M342.6 150.8L337.9 152.4M369.4 155.6L366.9 156.1M363.3 116.9L365.0 119.8M363.9 146.6L360.8 148.0M333.5 160.1L330.1 162.7M340.8 119.4L336.5 120.3" stroke="#e0301c" stroke-width="0.9" stroke-linecap="round" opacity="0.6375" fill="none" filter="url(#s)"/>
<path d="M369.4 144.9h0M370.3 145.9h0M353.5 141.9h0M377.6 154.9h0M352.0 158.0h0M386.5 118.9h0M395.2 147.5h0M373.9 120.4h0M373.6 124.7h0M390.1 130.1h0M352.7 128.6h0M371.4 131.9h0M340.3 151.6h0M368.2 155.9h0M364.2 118.3h0M362.4 147.3h0M331.8 161.5h0M338.6 119.8h0" stroke="#ff7a28" stroke-width="1.30" stroke-linecap="round" opacity="1" fill="none" filter="url(#s)"/>
<rect x="329.00" y="165.00" width="72.00" height="48.00" fill="#031003"/>
<path d="M368.0 193.1L370.9 195.7M369.6 193.5L371.1 197.4M354.5 189.8L352.5 192.9M377.9 201.4L377.2 207.3M350.5 206.4L353.6 208.5M387.5 165.8L385.6 171.0M394.3 195.4L396.0 198.6M371.1 169.7L376.7 170.2M373.2 172.5L374.0 175.9M391.8 177.7L388.5 181.5M352.8 176.1L352.5 180.0M373.0 180.2L369.8 182.6M342.6 200.3L337.9 201.9M369.4 205.1L366.9 205.6M363.3 166.4L365.0 169.3M363.9 196.1L360.8 197.5M333.5 209.6L330.1 212.2M340.8 168.9L336.5 169.8" stroke="#e02a48" stroke-width="0.9" stroke-linecap="round" opacity="0.6375" fill="none" filter="url(#s)"/>
<path d="M399.2 184.7L396.0 188.6M346.1 169.0L345.1 171.7M358.3 204.7L355.6 205.8M337.7 175.9L335.5 177.2M344.3 170.8L348.3 172.5M345.2 182.7L341.8 186.5M359.8 198.2L358.6 203.4M348.6 180.1L347.2 185.7M371.8 186.2L374.3 188.6M348.3 208.4L343.0 210.4M365.7 195.8L368.2 199.1M339.9 184.0L341.9 186.1M395.6 169.8L391.5 172.5M340.1 187.8L334.1 187.9M370.4 198.8L368.2 201.6M367.5 190.1L369.3 195.2M359.2 198.8L363.2 199.6M336.0 194.0L332.0 195.7" stroke="#2aa02a" stroke-width="0.7" stroke-linecap="round" opacity="0.45" fill="none" filter="url(#s)"/>
<path d="M397.6 186.6h0M345.6 170.4h0M357.0 205.3h0M336.6 176.6h0M346.3 171.6h0M343.5 184.6h0M359.2 200.8h0M347.9 182.9h0M373.0 187.4h0M345.7 209.4h0M366.9 197.5h0M340.9 185.1h0M393.5 171.2h0M337.1 187.9h0M369.3 200.2h0M368.4 192.7h0M361.2 199.2h0M334.0 194.8h0" stroke="#58c8b0" stroke-width="1.80" stroke-linecap="round" opacity="1" fill="none" filter="url(#s)"/>
<path d="M376.6 191.9h0M362.2 192.6h0M346.6 191.8h0M391.3 168.8h0M355.6 207.3h0M399.4 166.0h0M374.1 195.3h0M389.7 187.6h0M338.4 179.4h0M380.3 200.0h0M343.7 195.8h0M376.3 196.6h0M330.6 186.2h0M352.4 193.7h0M353.2 171.2h0M377.3 178.8h0M385.9 179.7h0M368.3 203.8h0M337.3 200.1h0M333.9 209.9h0" stroke="#3030f0" stroke-width="1.50" stroke-linecap="round" opacity="1" fill="none" filter="url(#s)"/>
<rect x="402.00" y="18.00" width="72.00" height="47.50" fill="#000"/>
<path d="M403.8 52.4h0M428.5 26.5h0M430.4 41.8h0M431.9 23.8h0M439.6 32.3h0M471.6 36.2h0M433.3 28.8h0M471.8 33.3h0M448.5 57.5h0M430.3 53.9h0M422.1 23.2h0M405.0 39.3h0M464.9 27.6h0M433.7 54.2h0M421.9 25.3h0M439.4 38.2h0M469.6 60.6h0M419.1 44.6h0M432.0 19.6h0M434.0 61.5h0M423.8 45.8h0" stroke="#2c24f4" stroke-width="1.60" stroke-linecap="round" opacity="1" fill="none" filter="url(#s)"/>
<rect x="402.00" y="67.00" width="72.00" height="47.00" fill="#010401"/>
<path d="M470.4 105.3L468.2 107.7M427.5 99.0L425.4 100.4M413.1 106.6L417.6 108.4M428.5 95.8L424.4 97.7M431.5 80.7L429.7 85.0M432.0 87.4L431.7 90.7M414.0 92.7L418.4 94.2M457.1 103.2L459.9 106.0M468.4 84.0L465.2 84.1M462.5 68.5L459.8 73.1M444.1 95.4L438.4 97.0M414.3 91.2L418.1 91.7M414.4 74.6L413.3 77.2M415.9 68.5L413.1 70.3" stroke="#238a23" stroke-width="0.7" stroke-linecap="round" opacity="0.45" fill="none" filter="url(#s)"/>
<path d="M469.3 106.5h0M426.5 99.7h0M415.3 107.5h0M426.4 96.8h0M430.6 82.9h0M431.9 89.1h0M416.2 93.4h0M458.5 104.6h0M466.8 84.0h0M461.2 70.8h0M441.2 96.2h0M416.2 91.5h0M413.9 75.9h0M414.5 69.4h0" stroke="#238a23" stroke-width="1.90" stroke-linecap="round" opacity="1" fill="none" filter="url(#s)"/>
<rect x="402.00" y="115.50" width="72.00" height="48.00" fill="#010000"/>
<path d="M410.4 143.0L407.4 146.6M442.4 139.6L440.1 142.4M463.8 146.8L458.8 149.2M461.3 137.8L460.9 142.9M444.9 118.3L441.8 119.1M434.8 136.8L439.1 138.1M444.8 151.6L443.5 155.0M443.5 157.2L441.3 162.2M403.6 146.9L406.0 148.8M425.0 124.9L428.1 125.8M420.8 127.7L418.5 129.3M417.6 118.3L417.6 121.6M438.4 126.7L441.8 129.2M409.3 154.5L408.5 158.3M441.4 157.2L441.4 161.1M420.5 132.7L417.0 135.8M421.0 156.3L424.5 157.8M456.6 156.5L456.9 159.0" stroke="#e0301c" stroke-width="0.9" stroke-linecap="round" opacity="0.68" fill="none" filter="url(#s)"/>
<path d="M408.9 144.8h0M441.2 141.0h0M461.3 148.0h0M461.1 140.3h0M443.4 118.7h0M436.9 137.4h0M444.1 153.3h0M442.4 159.7h0M404.8 147.8h0M426.5 125.3h0M419.7 128.5h0M417.6 119.9h0M440.1 128.0h0M408.9 156.4h0M441.4 159.2h0M418.7 134.2h0M422.7 157.0h0M456.8 157.8h0" stroke="#ff7a28" stroke-width="1.30" stroke-linecap="round" opacity="1" fill="none" filter="url(#s)"/>
<rect x="402.00" y="165.00" width="72.00" height="48.00" fill="#010001"/>
<path d="M410.4 192.5L407.4 196.1M442.4 189.1L440.1 191.9M463.8 196.3L458.8 198.7M461.3 187.3L460.9 192.4M444.9 167.8L441.8 168.6M434.8 186.3L439.1 187.6M444.8 201.1L443.5 204.5M443.5 206.7L441.3 211.7M403.6 196.4L406.0 198.3M425.0 174.4L428.1 175.3M420.8 177.2L418.5 178.8M417.6 167.8L417.6 171.1M438.4 176.2L441.8 178.7M409.3 204.0L408.5 207.8M441.4 206.7L441.4 210.6M420.5 182.2L417.0 185.3M421.0 205.8L424.5 207.3M456.6 206.0L456.9 208.5" stroke="#e02a48" stroke-width="0.9" stroke-linecap="round" opacity="0.68" fill="none" filter="url(#s)"/>
<path d="M453.1 168.0h0M468.5 170.2h0M423.7 199.4h0M403.4 183.0h0M411.1 187.7h0M403.1 172.3h0M418.0 168.9h0M408.5 174.3h0M439.3 171.6h0M461.1 185.0h0M420.1 176.6h0M462.5 167.3h0M455.4 169.7h0M470.0 184.6h0M445.0 206.4h0M409.2 168.1h0M451.9 193.2h0M453.9 178.3h0M437.8 174.0h0M433.5 178.5h0" stroke="#3030f0" stroke-width="1.50" stroke-linecap="round" opacity="1" fill="none" filter="url(#s)"/>
<line x1="453.20" y1="207.40" x2="468.90" y2="207.40" stroke="#f4f4f4" stroke-width="1.0"/>
<line x1="453.20" y1="205.20" x2="453.20" y2="209.60" stroke="#f4f4f4" stroke-width="0.9"/>
<line x1="468.90" y1="205.20" x2="468.90" y2="209.60" stroke="#f4f4f4" stroke-width="0.9"/>
<text x="461.0" y="204.6" font-size="4.6" fill="#e8e8e8" text-anchor="middle">400μm</text>
<rect x="123.90" y="226.40" width="19.30" height="10.50" fill="#fff" stroke="#ff2314" stroke-width="3.4"/>
<text x="145.9" y="235.7" font-size="10.5" font-weight="bold">Control</text>
<rect x="248.20" y="226.40" width="19.30" height="10.50" fill="#fff" stroke="#ea6d47" stroke-width="3.4"/>
<text x="270.2" y="235.7" font-size="10.5" font-weight="bold">H<tspan font-size="6.5" dy="1.5">2</tspan><tspan dy="-1.5">O</tspan><tspan font-size="6.5" dy="1.5">2</tspan><tspan dy="-1.5"></tspan></text>
<rect x="336.10" y="226.40" width="19.30" height="10.50" fill="#fff" stroke="#5ec2d8" stroke-width="3.4"/>
<text x="358.1" y="235.7" font-size="10.5" font-weight="bold">H<tspan font-size="6.5" dy="1.5">2</tspan><tspan dy="-1.5">O</tspan><tspan font-size="6.5" dy="1.5">2</tspan><tspan dy="-1.5"></tspan>+HAPP3</text>
<rect x="123.90" y="247.00" width="19.30" height="10.50" fill="#fff" stroke="#bfdfba" stroke-width="3.4"/>
<text x="145.9" y="256.3" font-size="10.5" font-weight="bold">H<tspan font-size="6.5" dy="1.5">2</tspan><tspan dy="-1.5">O</tspan><tspan font-size="6.5" dy="1.5">2</tspan><tspan dy="-1.5"></tspan>+HAPP@EXO</text>
<rect x="336.10" y="247.00" width="19.30" height="10.50" fill="#fff" stroke="#4f64b4" stroke-width="3.4"/>
<text x="358.1" y="256.3" font-size="10.5" font-weight="bold">H<tspan font-size="6.5" dy="1.5">2</tspan><tspan dy="-1.5">O</tspan><tspan font-size="6.5" dy="1.5">2</tspan><tspan dy="-1.5"></tspan>+HAPP@H-EXO</text>
<text x="474.5" y="10.7" font-size="12.9" fill="#000" font-weight="bold" text-anchor="start">C</text>
<text x="493.3" y="81.9" font-size="10.35" font-weight="bold" fill="#000" text-anchor="middle" transform="rotate(-90 493.3 81.9)">Mean Fluorescence Intensity</text>
<line x1="507.50" y1="139.70" x2="511.30" y2="139.70" stroke="#333" stroke-width="0.9"/>
<text x="506.0" y="142.1" font-size="7.2" fill="#333" text-anchor="end">0</text>
<line x1="507.50" y1="119.70" x2="511.30" y2="119.70" stroke="#333" stroke-width="0.9"/>
<text x="506.0" y="122.1" font-size="7.2" fill="#333" text-anchor="end">10</text>
<line x1="507.50" y1="99.70" x2="511.30" y2="99.70" stroke="#333" stroke-width="0.9"/>
<text x="506.0" y="102.1" font-size="7.2" fill="#333" text-anchor="end">20</text>
<line x1="507.50" y1="79.70" x2="511.30" y2="79.70" stroke="#333" stroke-width="0.9"/>
<text x="506.0" y="82.1" font-size="7.2" fill="#333" text-anchor="end">30</text>
<line x1="507.50" y1="59.70" x2="511.30" y2="59.70" stroke="#333" stroke-width="0.9"/>
<text x="506.0" y="62.1" font-size="7.2" fill="#333" text-anchor="end">40</text>
<line x1="507.50" y1="39.70" x2="511.30" y2="39.70" stroke="#333" stroke-width="0.9"/>
<text x="506.0" y="42.1" font-size="7.2" fill="#333" text-anchor="end">50</text>
<rect x="516.55" y="121.20" width="7.80" height="18.50" fill="#fff" stroke="#ff2314" stroke-width="1.0"/>
<line x1="520.45" y1="114.70" x2="520.45" y2="126.70" stroke="#ff2314" stroke-width="0.9"/>
<line x1="518.35" y1="114.70" x2="522.55" y2="114.70" stroke="#ff2314" stroke-width="0.9"/>
<line x1="518.35" y1="126.70" x2="522.55" y2="126.70" stroke="#ff2314" stroke-width="0.9"/>
<circle cx="520.6" cy="125.1" r="1.2" fill="none" stroke="#ff2314" stroke-width="0.55"/>
<circle cx="520.9" cy="122.9" r="1.2" fill="none" stroke="#ff2314" stroke-width="0.55"/>
<circle cx="518.5" cy="118.6" r="1.2" fill="none" stroke="#ff2314" stroke-width="0.55"/>
<circle cx="521.9" cy="128.9" r="1.2" fill="none" stroke="#ff2314" stroke-width="0.55"/>
<rect x="528.60" y="57.20" width="7.80" height="82.50" fill="#fff" stroke="#ea6d47" stroke-width="1.0"/>
<line x1="532.50" y1="50.70" x2="532.50" y2="62.70" stroke="#ea6d47" stroke-width="0.9"/>
<line x1="530.40" y1="50.70" x2="534.60" y2="50.70" stroke="#ea6d47" stroke-width="0.9"/>
<line x1="530.40" y1="62.70" x2="534.60" y2="62.70" stroke="#ea6d47" stroke-width="0.9"/>
<circle cx="531.3" cy="60.7" r="1.2" fill="none" stroke="#ea6d47" stroke-width="0.55"/>
<circle cx="532.4" cy="48.4" r="1.2" fill="none" stroke="#ea6d47" stroke-width="0.55"/>
<circle cx="532.4" cy="51.0" r="1.2" fill="none" stroke="#ea6d47" stroke-width="0.55"/>
<circle cx="531.0" cy="54.4" r="1.2" fill="none" stroke="#ea6d47" stroke-width="0.55"/>
<rect x="540.75" y="62.20" width="7.80" height="77.50" fill="#fff" stroke="#5ec2d8" stroke-width="1.0"/>
<line x1="544.65" y1="54.30" x2="544.65" y2="69.10" stroke="#5ec2d8" stroke-width="0.9"/>
<line x1="542.55" y1="54.30" x2="546.75" y2="54.30" stroke="#5ec2d8" stroke-width="0.9"/>
<line x1="542.55" y1="69.10" x2="546.75" y2="69.10" stroke="#5ec2d8" stroke-width="0.9"/>
<circle cx="546.3" cy="58.9" r="1.2" fill="none" stroke="#5ec2d8" stroke-width="0.55"/>
<circle cx="545.7" cy="61.2" r="1.2" fill="none" stroke="#5ec2d8" stroke-width="0.55"/>
<circle cx="542.7" cy="58.1" r="1.2" fill="none" stroke="#5ec2d8" stroke-width="0.55"/>
<circle cx="545.1" cy="56.3" r="1.2" fill="none" stroke="#5ec2d8" stroke-width="0.55"/>
<rect x="552.80" y="94.20" width="7.80" height="45.50" fill="#fff" stroke="#bfdfba" stroke-width="1.0"/>
<line x1="556.70" y1="88.70" x2="556.70" y2="98.70" stroke="#bfdfba" stroke-width="0.9"/>
<line x1="554.60" y1="88.70" x2="558.80" y2="88.70" stroke="#bfdfba" stroke-width="0.9"/>
<line x1="554.60" y1="98.70" x2="558.80" y2="98.70" stroke="#bfdfba" stroke-width="0.9"/>
<circle cx="554.6" cy="96.5" r="1.2" fill="none" stroke="#bfdfba" stroke-width="0.55"/>
<circle cx="556.6" cy="88.6" r="1.2" fill="none" stroke="#bfdfba" stroke-width="0.55"/>
<circle cx="558.4" cy="90.6" r="1.2" fill="none" stroke="#bfdfba" stroke-width="0.55"/>
<circle cx="558.6" cy="90.7" r="1.2" fill="none" stroke="#bfdfba" stroke-width="0.55"/>
<rect x="565.05" y="108.20" width="7.80" height="31.50" fill="#fff" stroke="#4f64b4" stroke-width="1.0"/>
<line x1="568.95" y1="103.70" x2="568.95" y2="111.70" stroke="#4f64b4" stroke-width="0.9"/>
<line x1="566.85" y1="103.70" x2="571.05" y2="103.70" stroke="#4f64b4" stroke-width="0.9"/>
<line x1="566.85" y1="111.70" x2="571.05" y2="111.70" stroke="#4f64b4" stroke-width="0.9"/>
<circle cx="570.3" cy="108.9" r="1.2" fill="none" stroke="#4f64b4" stroke-width="0.55"/>
<circle cx="570.9" cy="108.3" r="1.2" fill="none" stroke="#4f64b4" stroke-width="0.55"/>
<circle cx="567.2" cy="103.5" r="1.2" fill="none" stroke="#4f64b4" stroke-width="0.55"/>
<circle cx="567.7" cy="111.8" r="1.2" fill="none" stroke="#4f64b4" stroke-width="0.55"/>
<line x1="511.30" y1="39.30" x2="511.30" y2="140.20" stroke="#222" stroke-width="1.0"/>
<line x1="510.80" y1="139.70" x2="578.50" y2="139.70" stroke="#222" stroke-width="1.0"/>
<line x1="520.00" y1="39.40" x2="533.00" y2="39.40" stroke="#222" stroke-width="0.75"/>
<path d="M522.3 37.8h0M525.1 37.8h0M527.9 37.8h0M530.7 37.8h0" stroke="#1a1a1a" stroke-width="1.90" stroke-linecap="round" opacity="1" fill="none"/>
<line x1="544.70" y1="39.40" x2="557.00" y2="39.40" stroke="#222" stroke-width="0.75"/>
<path d="M546.6 37.8h0M549.5 37.8h0M552.2 37.8h0M555.1 37.8h0" stroke="#1a1a1a" stroke-width="1.90" stroke-linecap="round" opacity="1" fill="none"/>
<line x1="532.50" y1="27.40" x2="544.80" y2="27.40" stroke="#222" stroke-width="0.75"/>
<text x="538.6" y="26.3" font-size="6.9" fill="#333" text-anchor="middle">ns</text>
<line x1="556.90" y1="27.40" x2="568.90" y2="27.40" stroke="#222" stroke-width="0.75"/>
<path d="M561.5 25.8h0M564.3 25.8h0" stroke="#1a1a1a" stroke-width="1.90" stroke-linecap="round" opacity="1" fill="none"/>
<text x="539.0" y="149.0" font-size="10.35" fill="#3b9c45" font-weight="bold" text-anchor="middle">ROS</text>
<text x="577.4" y="10.9" font-size="12.9" fill="#000" font-weight="bold" text-anchor="start">D</text>
<text x="598" y="79.6" font-size="10.35" font-weight="bold" fill="#000" text-anchor="middle" transform="rotate(-90 598 79.6)">Aggregate/Monomer Ratio</text>
<line x1="609.80" y1="139.00" x2="613.60" y2="139.00" stroke="#333" stroke-width="0.9"/>
<text x="608.3" y="141.4" font-size="7.2" fill="#333" text-anchor="end">0</text>
<line x1="609.80" y1="118.30" x2="613.60" y2="118.30" stroke="#333" stroke-width="0.9"/>
<text x="608.3" y="120.8" font-size="7.2" fill="#333" text-anchor="end">1</text>
<line x1="609.80" y1="97.60" x2="613.60" y2="97.60" stroke="#333" stroke-width="0.9"/>
<text x="608.3" y="100.0" font-size="7.2" fill="#333" text-anchor="end">2</text>
<line x1="609.80" y1="76.90" x2="613.60" y2="76.90" stroke="#333" stroke-width="0.9"/>
<text x="608.3" y="79.4" font-size="7.2" fill="#333" text-anchor="end">3</text>
<line x1="609.80" y1="56.20" x2="613.60" y2="56.20" stroke="#333" stroke-width="0.9"/>
<text x="608.3" y="58.7" font-size="7.2" fill="#333" text-anchor="end">4</text>
<line x1="609.80" y1="35.50" x2="613.60" y2="35.50" stroke="#333" stroke-width="0.9"/>
<text x="608.3" y="38.0" font-size="7.2" fill="#333" text-anchor="end">5</text>
<rect x="618.70" y="66.02" width="7.80" height="72.98" fill="#fff" stroke="#ff2314" stroke-width="1.0"/>
<line x1="622.60" y1="61.38" x2="622.60" y2="69.66" stroke="#ff2314" stroke-width="0.9"/>
<line x1="620.50" y1="61.38" x2="624.70" y2="61.38" stroke="#ff2314" stroke-width="0.9"/>
<line x1="620.50" y1="69.66" x2="624.70" y2="69.66" stroke="#ff2314" stroke-width="0.9"/>
<circle cx="620.9" cy="68.6" r="1.2" fill="none" stroke="#ff2314" stroke-width="0.55"/>
<circle cx="621.1" cy="66.7" r="1.2" fill="none" stroke="#ff2314" stroke-width="0.55"/>
<circle cx="622.2" cy="70.5" r="1.2" fill="none" stroke="#ff2314" stroke-width="0.55"/>
<circle cx="623.9" cy="60.7" r="1.2" fill="none" stroke="#ff2314" stroke-width="0.55"/>
<rect x="631.00" y="133.91" width="7.80" height="5.09" fill="#fff" stroke="#ea6d47" stroke-width="1.0"/>
<line x1="634.90" y1="132.79" x2="634.90" y2="134.03" stroke="#ea6d47" stroke-width="0.9"/>
<line x1="632.80" y1="132.79" x2="637.00" y2="132.79" stroke="#ea6d47" stroke-width="0.9"/>
<line x1="632.80" y1="134.03" x2="637.00" y2="134.03" stroke="#ea6d47" stroke-width="0.9"/>
<circle cx="633.7" cy="132.9" r="1.2" fill="none" stroke="#ea6d47" stroke-width="0.55"/>
<circle cx="633.9" cy="133.3" r="1.2" fill="none" stroke="#ea6d47" stroke-width="0.55"/>
<circle cx="633.2" cy="134.0" r="1.2" fill="none" stroke="#ea6d47" stroke-width="0.55"/>
<circle cx="636.8" cy="133.9" r="1.2" fill="none" stroke="#ea6d47" stroke-width="0.55"/>
<rect x="643.40" y="133.29" width="7.80" height="5.71" fill="#fff" stroke="#5ec2d8" stroke-width="1.0"/>
<line x1="647.30" y1="132.17" x2="647.30" y2="133.41" stroke="#5ec2d8" stroke-width="0.9"/>
<line x1="645.20" y1="132.17" x2="649.40" y2="132.17" stroke="#5ec2d8" stroke-width="0.9"/>
<line x1="645.20" y1="133.41" x2="649.40" y2="133.41" stroke="#5ec2d8" stroke-width="0.9"/>
<circle cx="648.6" cy="132.2" r="1.2" fill="none" stroke="#5ec2d8" stroke-width="0.55"/>
<circle cx="646.0" cy="132.3" r="1.2" fill="none" stroke="#5ec2d8" stroke-width="0.55"/>
<circle cx="647.9" cy="133.1" r="1.2" fill="none" stroke="#5ec2d8" stroke-width="0.55"/>
<circle cx="648.9" cy="132.4" r="1.2" fill="none" stroke="#5ec2d8" stroke-width="0.55"/>
<rect x="656.50" y="112.59" width="7.80" height="26.41" fill="#fff" stroke="#bfdfba" stroke-width="1.0"/>
<line x1="660.40" y1="110.02" x2="660.40" y2="114.16" stroke="#bfdfba" stroke-width="0.9"/>
<line x1="658.30" y1="110.02" x2="662.50" y2="110.02" stroke="#bfdfba" stroke-width="0.9"/>
<line x1="658.30" y1="114.16" x2="662.50" y2="114.16" stroke="#bfdfba" stroke-width="0.9"/>
<circle cx="658.6" cy="109.9" r="1.2" fill="none" stroke="#bfdfba" stroke-width="0.55"/>
<circle cx="661.2" cy="111.5" r="1.2" fill="none" stroke="#bfdfba" stroke-width="0.55"/>
<circle cx="659.0" cy="112.1" r="1.2" fill="none" stroke="#bfdfba" stroke-width="0.55"/>
<circle cx="658.6" cy="112.2" r="1.2" fill="none" stroke="#bfdfba" stroke-width="0.55"/>
<rect x="669.00" y="93.96" width="7.80" height="45.04" fill="#fff" stroke="#4f64b4" stroke-width="1.0"/>
<line x1="672.90" y1="88.29" x2="672.90" y2="98.64" stroke="#4f64b4" stroke-width="0.9"/>
<line x1="670.80" y1="88.29" x2="675.00" y2="88.29" stroke="#4f64b4" stroke-width="0.9"/>
<line x1="670.80" y1="98.64" x2="675.00" y2="98.64" stroke="#4f64b4" stroke-width="0.9"/>
<circle cx="674.5" cy="87.2" r="1.2" fill="none" stroke="#4f64b4" stroke-width="0.55"/>
<circle cx="672.0" cy="92.8" r="1.2" fill="none" stroke="#4f64b4" stroke-width="0.55"/>
<circle cx="673.2" cy="87.5" r="1.2" fill="none" stroke="#4f64b4" stroke-width="0.55"/>
<circle cx="674.4" cy="87.9" r="1.2" fill="none" stroke="#4f64b4" stroke-width="0.55"/>
<line x1="613.60" y1="35.10" x2="613.60" y2="139.50" stroke="#222" stroke-width="1.0"/>
<line x1="613.10" y1="139.00" x2="681.50" y2="139.00" stroke="#222" stroke-width="1.0"/>
<line x1="622.50" y1="50.80" x2="635.00" y2="50.80" stroke="#222" stroke-width="0.75"/>
<path d="M624.5 49.2h0M627.4 49.2h0M630.1 49.2h0M633.0 49.2h0" stroke="#1a1a1a" stroke-width="1.90" stroke-linecap="round" opacity="1" fill="none"/>
<line x1="647.80" y1="50.80" x2="660.30" y2="50.80" stroke="#222" stroke-width="0.75"/>
<path d="M649.8 49.2h0M652.6 49.2h0M655.4 49.2h0M658.2 49.2h0" stroke="#1a1a1a" stroke-width="1.90" stroke-linecap="round" opacity="1" fill="none"/>
<line x1="635.00" y1="31.20" x2="647.80" y2="31.20" stroke="#222" stroke-width="0.75"/>
<text x="641.4" y="30.1" font-size="6.9" fill="#333" text-anchor="middle">ns</text>
<line x1="660.30" y1="31.20" x2="672.80" y2="31.20" stroke="#222" stroke-width="0.75"/>
<path d="M662.3 29.6h0M665.1 29.6h0M667.9 29.6h0M670.8 29.6h0" stroke="#1a1a1a" stroke-width="1.90" stroke-linecap="round" opacity="1" fill="none"/>
<text x="474.5" y="168.2" font-size="12.9" fill="#000" font-weight="bold" text-anchor="start">G</text>
<text x="493.3" y="232.5" font-size="10.35" font-weight="bold" fill="#000" text-anchor="middle" transform="rotate(-90 493.3 232.5)">Mean Fluorescence Intensity</text>
<line x1="507.50" y1="282.40" x2="511.30" y2="282.40" stroke="#333" stroke-width="0.9"/>
<text x="506.0" y="284.8" font-size="7.2" fill="#333" text-anchor="end">0</text>
<line x1="507.50" y1="262.40" x2="511.30" y2="262.40" stroke="#333" stroke-width="0.9"/>
<text x="506.0" y="264.8" font-size="7.2" fill="#333" text-anchor="end">5</text>
<line x1="507.50" y1="242.40" x2="511.30" y2="242.40" stroke="#333" stroke-width="0.9"/>
<text x="506.0" y="244.8" font-size="7.2" fill="#333" text-anchor="end">10</text>
<line x1="507.50" y1="222.40" x2="511.30" y2="222.40" stroke="#333" stroke-width="0.9"/>
<text x="506.0" y="224.8" font-size="7.2" fill="#333" text-anchor="end">15</text>
<line x1="507.50" y1="202.40" x2="511.30" y2="202.40" stroke="#333" stroke-width="0.9"/>
<text x="506.0" y="204.8" font-size="7.2" fill="#333" text-anchor="end">20</text>
<line x1="507.50" y1="182.40" x2="511.30" y2="182.40" stroke="#333" stroke-width="0.9"/>
<text x="506.0" y="184.8" font-size="7.2" fill="#333" text-anchor="end">25</text>
<rect x="516.55" y="271.70" width="7.80" height="10.70" fill="#fff" stroke="#ff2314" stroke-width="1.0"/>
<line x1="520.45" y1="267.20" x2="520.45" y2="275.20" stroke="#ff2314" stroke-width="0.9"/>
<line x1="518.35" y1="267.20" x2="522.55" y2="267.20" stroke="#ff2314" stroke-width="0.9"/>
<line x1="518.35" y1="275.20" x2="522.55" y2="275.20" stroke="#ff2314" stroke-width="0.9"/>
<circle cx="521.5" cy="269.8" r="1.2" fill="none" stroke="#ff2314" stroke-width="0.55"/>
<circle cx="522.4" cy="267.9" r="1.2" fill="none" stroke="#ff2314" stroke-width="0.55"/>
<circle cx="522.3" cy="268.5" r="1.2" fill="none" stroke="#ff2314" stroke-width="0.55"/>
<circle cx="520.3" cy="276.5" r="1.2" fill="none" stroke="#ff2314" stroke-width="0.55"/>
<rect x="528.60" y="200.50" width="7.80" height="81.90" fill="#fff" stroke="#ea6d47" stroke-width="1.0"/>
<line x1="532.50" y1="194.40" x2="532.50" y2="205.60" stroke="#ea6d47" stroke-width="0.9"/>
<line x1="530.40" y1="194.40" x2="534.60" y2="194.40" stroke="#ea6d47" stroke-width="0.9"/>
<line x1="530.40" y1="205.60" x2="534.60" y2="205.60" stroke="#ea6d47" stroke-width="0.9"/>
<circle cx="533.2" cy="193.0" r="1.2" fill="none" stroke="#ea6d47" stroke-width="0.55"/>
<circle cx="530.8" cy="193.7" r="1.2" fill="none" stroke="#ea6d47" stroke-width="0.55"/>
<circle cx="531.4" cy="200.5" r="1.2" fill="none" stroke="#ea6d47" stroke-width="0.55"/>
<circle cx="532.8" cy="199.3" r="1.2" fill="none" stroke="#ea6d47" stroke-width="0.55"/>
<rect x="540.75" y="204.50" width="7.80" height="77.90" fill="#fff" stroke="#5ec2d8" stroke-width="1.0"/>
<line x1="544.65" y1="197.20" x2="544.65" y2="210.80" stroke="#5ec2d8" stroke-width="0.9"/>
<line x1="542.55" y1="197.20" x2="546.75" y2="197.20" stroke="#5ec2d8" stroke-width="0.9"/>
<line x1="542.55" y1="210.80" x2="546.75" y2="210.80" stroke="#5ec2d8" stroke-width="0.9"/>
<circle cx="543.4" cy="213.3" r="1.2" fill="none" stroke="#5ec2d8" stroke-width="0.55"/>
<circle cx="546.5" cy="208.2" r="1.2" fill="none" stroke="#5ec2d8" stroke-width="0.55"/>
<circle cx="543.2" cy="198.9" r="1.2" fill="none" stroke="#5ec2d8" stroke-width="0.55"/>
<circle cx="543.1" cy="198.3" r="1.2" fill="none" stroke="#5ec2d8" stroke-width="0.55"/>
<rect x="552.80" y="236.50" width="7.80" height="45.90" fill="#fff" stroke="#bfdfba" stroke-width="1.0"/>
<line x1="556.70" y1="226.40" x2="556.70" y2="245.60" stroke="#bfdfba" stroke-width="0.9"/>
<line x1="554.60" y1="226.40" x2="558.80" y2="226.40" stroke="#bfdfba" stroke-width="0.9"/>
<line x1="554.60" y1="245.60" x2="558.80" y2="245.60" stroke="#bfdfba" stroke-width="0.9"/>
<circle cx="555.1" cy="232.8" r="1.2" fill="none" stroke="#bfdfba" stroke-width="0.55"/>
<circle cx="558.3" cy="249.4" r="1.2" fill="none" stroke="#bfdfba" stroke-width="0.55"/>
<circle cx="555.4" cy="243.8" r="1.2" fill="none" stroke="#bfdfba" stroke-width="0.55"/>
<circle cx="558.3" cy="223.0" r="1.2" fill="none" stroke="#bfdfba" stroke-width="0.55"/>
<rect x="565.05" y="254.50" width="7.80" height="27.90" fill="#fff" stroke="#4f64b4" stroke-width="1.0"/>
<line x1="568.95" y1="249.60" x2="568.95" y2="258.40" stroke="#4f64b4" stroke-width="0.9"/>
<line x1="566.85" y1="249.60" x2="571.05" y2="249.60" stroke="#4f64b4" stroke-width="0.9"/>
<line x1="566.85" y1="258.40" x2="571.05" y2="258.40" stroke="#4f64b4" stroke-width="0.9"/>
<circle cx="571.0" cy="256.6" r="1.2" fill="none" stroke="#4f64b4" stroke-width="0.55"/>
<circle cx="569.7" cy="253.5" r="1.2" fill="none" stroke="#4f64b4" stroke-width="0.55"/>
<circle cx="570.9" cy="257.6" r="1.2" fill="none" stroke="#4f64b4" stroke-width="0.55"/>
<circle cx="571.0" cy="251.7" r="1.2" fill="none" stroke="#4f64b4" stroke-width="0.55"/>
<line x1="511.30" y1="182.00" x2="511.30" y2="282.90" stroke="#222" stroke-width="1.0"/>
<line x1="510.80" y1="282.40" x2="578.50" y2="282.40" stroke="#222" stroke-width="1.0"/>
<line x1="520.50" y1="180.20" x2="533.00" y2="180.20" stroke="#222" stroke-width="0.75"/>
<path d="M522.5 178.6h0M525.4 178.6h0M528.1 178.6h0M531.0 178.6h0" stroke="#1a1a1a" stroke-width="1.90" stroke-linecap="round" opacity="1" fill="none"/>
<line x1="544.70" y1="180.20" x2="557.00" y2="180.20" stroke="#222" stroke-width="0.75"/>
<path d="M546.6 178.6h0M549.5 178.6h0M552.2 178.6h0M555.1 178.6h0" stroke="#1a1a1a" stroke-width="1.90" stroke-linecap="round" opacity="1" fill="none"/>
<line x1="532.80" y1="172.50" x2="544.70" y2="172.50" stroke="#222" stroke-width="0.75"/>
<text x="538.8" y="171.4" font-size="6.9" fill="#333" text-anchor="middle">ns</text>
<line x1="557.00" y1="172.50" x2="568.80" y2="172.50" stroke="#222" stroke-width="0.75"/>
<path d="M560.1 170.9h0M562.9 170.9h0M565.7 170.9h0" stroke="#1a1a1a" stroke-width="1.90" stroke-linecap="round" opacity="1" fill="none"/>
<text x="545.0" y="292.8" font-size="10.35" fill="#a82020" font-weight="bold" text-anchor="middle">INOS</text>
<text x="577.9" y="168.2" font-size="12.9" fill="#000" font-weight="bold" text-anchor="start">H</text>
<text x="598.1" y="230.6" font-size="10.35" font-weight="bold" fill="#000" text-anchor="middle" transform="rotate(-90 598.1 230.6)">Mean Fluorescence Intensity</text>
<line x1="612.50" y1="282.20" x2="616.30" y2="282.20" stroke="#333" stroke-width="0.9"/>
<text x="611.0" y="284.6" font-size="7.2" fill="#333" text-anchor="end">0</text>
<line x1="612.50" y1="248.90" x2="616.30" y2="248.90" stroke="#333" stroke-width="0.9"/>
<text x="611.0" y="251.3" font-size="7.2" fill="#333" text-anchor="end">10</text>
<line x1="612.50" y1="215.60" x2="616.30" y2="215.60" stroke="#333" stroke-width="0.9"/>
<text x="611.0" y="218.0" font-size="7.2" fill="#333" text-anchor="end">20</text>
<line x1="612.50" y1="182.30" x2="616.30" y2="182.30" stroke="#333" stroke-width="0.9"/>
<text x="611.0" y="184.7" font-size="7.2" fill="#333" text-anchor="end">30</text>
<rect x="621.40" y="271.38" width="7.80" height="10.82" fill="#fff" stroke="#ff2314" stroke-width="1.0"/>
<line x1="625.30" y1="268.21" x2="625.30" y2="273.54" stroke="#ff2314" stroke-width="0.9"/>
<line x1="623.20" y1="268.21" x2="627.40" y2="268.21" stroke="#ff2314" stroke-width="0.9"/>
<line x1="623.20" y1="273.54" x2="627.40" y2="273.54" stroke="#ff2314" stroke-width="0.9"/>
<circle cx="626.7" cy="268.7" r="1.2" fill="none" stroke="#ff2314" stroke-width="0.55"/>
<circle cx="624.3" cy="271.0" r="1.2" fill="none" stroke="#ff2314" stroke-width="0.55"/>
<circle cx="626.0" cy="274.6" r="1.2" fill="none" stroke="#ff2314" stroke-width="0.55"/>
<circle cx="626.4" cy="271.1" r="1.2" fill="none" stroke="#ff2314" stroke-width="0.55"/>
<rect x="633.40" y="270.38" width="7.80" height="11.82" fill="#fff" stroke="#ea6d47" stroke-width="1.0"/>
<line x1="637.30" y1="265.88" x2="637.30" y2="273.87" stroke="#ea6d47" stroke-width="0.9"/>
<line x1="635.20" y1="265.88" x2="639.40" y2="265.88" stroke="#ea6d47" stroke-width="0.9"/>
<line x1="635.20" y1="273.87" x2="639.40" y2="273.87" stroke="#ea6d47" stroke-width="0.9"/>
<circle cx="638.5" cy="271.3" r="1.2" fill="none" stroke="#ea6d47" stroke-width="0.55"/>
<circle cx="638.6" cy="272.4" r="1.2" fill="none" stroke="#ea6d47" stroke-width="0.55"/>
<circle cx="636.9" cy="267.3" r="1.2" fill="none" stroke="#ea6d47" stroke-width="0.55"/>
<circle cx="638.1" cy="269.5" r="1.2" fill="none" stroke="#ea6d47" stroke-width="0.55"/>
<rect x="645.70" y="260.72" width="7.80" height="21.48" fill="#fff" stroke="#5ec2d8" stroke-width="1.0"/>
<line x1="649.60" y1="252.23" x2="649.60" y2="268.21" stroke="#5ec2d8" stroke-width="0.9"/>
<line x1="647.50" y1="252.23" x2="651.70" y2="252.23" stroke="#5ec2d8" stroke-width="0.9"/>
<line x1="647.50" y1="268.21" x2="651.70" y2="268.21" stroke="#5ec2d8" stroke-width="0.9"/>
<circle cx="649.8" cy="267.1" r="1.2" fill="none" stroke="#5ec2d8" stroke-width="0.55"/>
<circle cx="648.6" cy="253.4" r="1.2" fill="none" stroke="#5ec2d8" stroke-width="0.55"/>
<circle cx="650.4" cy="253.4" r="1.2" fill="none" stroke="#5ec2d8" stroke-width="0.55"/>
<circle cx="648.9" cy="252.5" r="1.2" fill="none" stroke="#5ec2d8" stroke-width="0.55"/>
<rect x="657.80" y="219.43" width="7.80" height="62.77" fill="#fff" stroke="#bfdfba" stroke-width="1.0"/>
<line x1="661.70" y1="212.27" x2="661.70" y2="225.59" stroke="#bfdfba" stroke-width="0.9"/>
<line x1="659.60" y1="212.27" x2="663.80" y2="212.27" stroke="#bfdfba" stroke-width="0.9"/>
<line x1="659.60" y1="225.59" x2="663.80" y2="225.59" stroke="#bfdfba" stroke-width="0.9"/>
<circle cx="663.0" cy="226.5" r="1.2" fill="none" stroke="#bfdfba" stroke-width="0.55"/>
<circle cx="661.5" cy="213.2" r="1.2" fill="none" stroke="#bfdfba" stroke-width="0.55"/>
<circle cx="660.4" cy="226.5" r="1.2" fill="none" stroke="#bfdfba" stroke-width="0.55"/>
<circle cx="660.8" cy="216.4" r="1.2" fill="none" stroke="#bfdfba" stroke-width="0.55"/>
<rect x="670.10" y="198.78" width="7.80" height="83.42" fill="#fff" stroke="#4f64b4" stroke-width="1.0"/>
<line x1="674.00" y1="190.62" x2="674.00" y2="205.94" stroke="#4f64b4" stroke-width="0.9"/>
<line x1="671.90" y1="190.62" x2="676.10" y2="190.62" stroke="#4f64b4" stroke-width="0.9"/>
<line x1="671.90" y1="205.94" x2="676.10" y2="205.94" stroke="#4f64b4" stroke-width="0.9"/>
<circle cx="674.4" cy="188.6" r="1.2" fill="none" stroke="#4f64b4" stroke-width="0.55"/>
<circle cx="674.7" cy="204.7" r="1.2" fill="none" stroke="#4f64b4" stroke-width="0.55"/>
<circle cx="675.9" cy="201.3" r="1.2" fill="none" stroke="#4f64b4" stroke-width="0.55"/>
<circle cx="674.1" cy="189.5" r="1.2" fill="none" stroke="#4f64b4" stroke-width="0.55"/>
<line x1="616.30" y1="181.90" x2="616.30" y2="282.70" stroke="#222" stroke-width="1.0"/>
<line x1="615.80" y1="282.20" x2="683.40" y2="282.20" stroke="#222" stroke-width="1.0"/>
<line x1="625.20" y1="198.40" x2="637.40" y2="198.40" stroke="#222" stroke-width="0.75"/>
<text x="631.3" y="197.3" font-size="6.9" fill="#333" text-anchor="middle">ns</text>
<line x1="649.90" y1="198.40" x2="662.30" y2="198.40" stroke="#222" stroke-width="0.75"/>
<path d="M651.9 196.8h0M654.7 196.8h0M657.5 196.8h0M660.3 196.8h0" stroke="#1a1a1a" stroke-width="1.90" stroke-linecap="round" opacity="1" fill="none"/>
<line x1="637.40" y1="177.30" x2="649.90" y2="177.30" stroke="#222" stroke-width="0.75"/>
<text x="643.6" y="176.2" font-size="6.9" fill="#333" text-anchor="middle">ns</text>
<line x1="662.30" y1="177.30" x2="674.60" y2="177.30" stroke="#222" stroke-width="0.75"/>
<path d="M664.2 175.7h0M667.1 175.7h0M669.9 175.7h0M672.7 175.7h0" stroke="#1a1a1a" stroke-width="1.90" stroke-linecap="round" opacity="1" fill="none"/>
<text x="650.0" y="293.4" font-size="10.35" fill="#3b9c45" font-weight="bold" text-anchor="middle">CD206</text>
<rect x="478.8" y="309.2" width="2.4" height="9.2" fill="#000"/>
<line x1="511.60" y1="427.40" x2="515.60" y2="427.40" stroke="#333" stroke-width="0.9"/>
<text x="510.0" y="429.8" font-size="6.8" fill="#333" text-anchor="end">0</text>
<line x1="511.60" y1="400.40" x2="515.60" y2="400.40" stroke="#333" stroke-width="0.9"/>
<text x="510.0" y="402.8" font-size="6.8" fill="#333" text-anchor="end">50</text>
<line x1="511.60" y1="373.40" x2="515.60" y2="373.40" stroke="#333" stroke-width="0.9"/>
<text x="510.0" y="375.8" font-size="6.8" fill="#333" text-anchor="end">100</text>
<line x1="511.60" y1="346.40" x2="515.60" y2="346.40" stroke="#333" stroke-width="0.9"/>
<text x="510.0" y="348.8" font-size="6.8" fill="#333" text-anchor="end">150</text>
<line x1="511.60" y1="319.40" x2="515.60" y2="319.40" stroke="#333" stroke-width="0.9"/>
<text x="510.0" y="321.8" font-size="6.8" fill="#333" text-anchor="end">200</text>
<rect x="520.00" y="360.40" width="5.60" height="67.00" fill="#fff" stroke="#ff2314" stroke-width="1.0"/>
<line x1="522.80" y1="358.82" x2="522.80" y2="360.98" stroke="#ff2314" stroke-width="0.8"/>
<line x1="521.00" y1="358.82" x2="524.60" y2="358.82" stroke="#ff2314" stroke-width="0.8"/>
<circle cx="521.8" cy="358.9" r="1.1" fill="none" stroke="#ff2314" stroke-width="0.5"/>
<circle cx="521.5" cy="359.5" r="1.1" fill="none" stroke="#ff2314" stroke-width="0.5"/>
<circle cx="521.3" cy="360.4" r="1.1" fill="none" stroke="#ff2314" stroke-width="0.5"/>
<rect x="529.60" y="348.52" width="5.60" height="78.88" fill="#fff" stroke="#ea6d47" stroke-width="1.0"/>
<line x1="532.40" y1="346.94" x2="532.40" y2="349.10" stroke="#ea6d47" stroke-width="0.8"/>
<line x1="530.60" y1="346.94" x2="534.20" y2="346.94" stroke="#ea6d47" stroke-width="0.8"/>
<circle cx="534.2" cy="348.6" r="1.1" fill="none" stroke="#ea6d47" stroke-width="0.5"/>
<circle cx="532.9" cy="348.1" r="1.1" fill="none" stroke="#ea6d47" stroke-width="0.5"/>
<circle cx="532.2" cy="348.0" r="1.1" fill="none" stroke="#ea6d47" stroke-width="0.5"/>
<rect x="539.20" y="353.38" width="5.60" height="74.02" fill="#fff" stroke="#5ec2d8" stroke-width="1.0"/>
<line x1="542.00" y1="350.72" x2="542.00" y2="355.04" stroke="#5ec2d8" stroke-width="0.8"/>
<line x1="540.20" y1="350.72" x2="543.80" y2="350.72" stroke="#5ec2d8" stroke-width="0.8"/>
<circle cx="540.9" cy="351.5" r="1.1" fill="none" stroke="#5ec2d8" stroke-width="0.5"/>
<circle cx="540.5" cy="354.0" r="1.1" fill="none" stroke="#5ec2d8" stroke-width="0.5"/>
<circle cx="540.3" cy="353.9" r="1.1" fill="none" stroke="#5ec2d8" stroke-width="0.5"/>
<rect x="548.80" y="364.18" width="5.60" height="63.22" fill="#fff" stroke="#bfdfba" stroke-width="1.0"/>
<line x1="551.60" y1="362.87" x2="551.60" y2="364.49" stroke="#bfdfba" stroke-width="0.8"/>
<line x1="549.80" y1="362.87" x2="553.40" y2="362.87" stroke="#bfdfba" stroke-width="0.8"/>
<circle cx="551.3" cy="363.0" r="1.1" fill="none" stroke="#bfdfba" stroke-width="0.5"/>
<circle cx="551.2" cy="364.3" r="1.1" fill="none" stroke="#bfdfba" stroke-width="0.5"/>
<circle cx="550.7" cy="362.9" r="1.1" fill="none" stroke="#bfdfba" stroke-width="0.5"/>
<rect x="558.40" y="368.50" width="5.60" height="58.90" fill="#fff" stroke="#4f64b4" stroke-width="1.0"/>
<line x1="561.20" y1="365.84" x2="561.20" y2="370.16" stroke="#4f64b4" stroke-width="0.8"/>
<line x1="559.40" y1="365.84" x2="563.00" y2="365.84" stroke="#4f64b4" stroke-width="0.8"/>
<circle cx="559.6" cy="367.5" r="1.1" fill="none" stroke="#4f64b4" stroke-width="0.5"/>
<circle cx="560.8" cy="367.3" r="1.1" fill="none" stroke="#4f64b4" stroke-width="0.5"/>
<circle cx="560.6" cy="367.2" r="1.1" fill="none" stroke="#4f64b4" stroke-width="0.5"/>
<line x1="542.80" y1="427.40" x2="542.80" y2="429.90" stroke="#222" stroke-width="0.9"/>
<text x="540.6" y="437.0" font-size="7.1" fill="#222" text-anchor="middle">24h</text>
<rect x="574.90" y="358.78" width="5.60" height="68.62" fill="#fff" stroke="#ff2314" stroke-width="1.0"/>
<line x1="577.70" y1="357.20" x2="577.70" y2="359.36" stroke="#ff2314" stroke-width="0.8"/>
<line x1="575.90" y1="357.20" x2="579.50" y2="357.20" stroke="#ff2314" stroke-width="0.8"/>
<circle cx="577.7" cy="358.0" r="1.1" fill="none" stroke="#ff2314" stroke-width="0.5"/>
<circle cx="579.1" cy="358.1" r="1.1" fill="none" stroke="#ff2314" stroke-width="0.5"/>
<circle cx="576.4" cy="359.2" r="1.1" fill="none" stroke="#ff2314" stroke-width="0.5"/>
<rect x="584.50" y="345.82" width="5.60" height="81.58" fill="#fff" stroke="#ea6d47" stroke-width="1.0"/>
<line x1="587.30" y1="344.24" x2="587.30" y2="346.40" stroke="#ea6d47" stroke-width="0.8"/>
<line x1="585.50" y1="344.24" x2="589.10" y2="344.24" stroke="#ea6d47" stroke-width="0.8"/>
<circle cx="588.9" cy="345.3" r="1.1" fill="none" stroke="#ea6d47" stroke-width="0.5"/>
<circle cx="586.2" cy="344.4" r="1.1" fill="none" stroke="#ea6d47" stroke-width="0.5"/>
<circle cx="587.6" cy="344.8" r="1.1" fill="none" stroke="#ea6d47" stroke-width="0.5"/>
<rect x="594.10" y="353.38" width="5.60" height="74.02" fill="#fff" stroke="#5ec2d8" stroke-width="1.0"/>
<line x1="596.90" y1="349.10" x2="596.90" y2="356.66" stroke="#5ec2d8" stroke-width="0.8"/>
<line x1="595.10" y1="349.10" x2="598.70" y2="349.10" stroke="#5ec2d8" stroke-width="0.8"/>
<circle cx="598.3" cy="354.5" r="1.1" fill="none" stroke="#5ec2d8" stroke-width="0.5"/>
<circle cx="596.4" cy="350.0" r="1.1" fill="none" stroke="#5ec2d8" stroke-width="0.5"/>
<circle cx="595.6" cy="350.9" r="1.1" fill="none" stroke="#5ec2d8" stroke-width="0.5"/>
<rect x="603.70" y="367.96" width="5.60" height="59.44" fill="#fff" stroke="#bfdfba" stroke-width="1.0"/>
<line x1="606.50" y1="365.84" x2="606.50" y2="369.08" stroke="#bfdfba" stroke-width="0.8"/>
<line x1="604.70" y1="365.84" x2="608.30" y2="365.84" stroke="#bfdfba" stroke-width="0.8"/>
<circle cx="605.1" cy="366.8" r="1.1" fill="none" stroke="#bfdfba" stroke-width="0.5"/>
<circle cx="607.2" cy="366.0" r="1.1" fill="none" stroke="#bfdfba" stroke-width="0.5"/>
<circle cx="607.7" cy="367.4" r="1.1" fill="none" stroke="#bfdfba" stroke-width="0.5"/>
<rect x="613.30" y="371.74" width="5.60" height="55.66" fill="#fff" stroke="#4f64b4" stroke-width="1.0"/>
<line x1="616.10" y1="370.16" x2="616.10" y2="372.32" stroke="#4f64b4" stroke-width="0.8"/>
<line x1="614.30" y1="370.16" x2="617.90" y2="370.16" stroke="#4f64b4" stroke-width="0.8"/>
<circle cx="615.0" cy="372.0" r="1.1" fill="none" stroke="#4f64b4" stroke-width="0.5"/>
<circle cx="616.2" cy="371.2" r="1.1" fill="none" stroke="#4f64b4" stroke-width="0.5"/>
<circle cx="614.6" cy="370.4" r="1.1" fill="none" stroke="#4f64b4" stroke-width="0.5"/>
<line x1="597.10" y1="427.40" x2="597.10" y2="429.90" stroke="#222" stroke-width="0.9"/>
<text x="594.9" y="437.0" font-size="7.1" fill="#222" text-anchor="middle">48h</text>
<rect x="629.90" y="356.08" width="5.60" height="71.32" fill="#fff" stroke="#ff2314" stroke-width="1.0"/>
<line x1="632.70" y1="354.50" x2="632.70" y2="356.66" stroke="#ff2314" stroke-width="0.8"/>
<line x1="630.90" y1="354.50" x2="634.50" y2="354.50" stroke="#ff2314" stroke-width="0.8"/>
<circle cx="632.7" cy="355.1" r="1.1" fill="none" stroke="#ff2314" stroke-width="0.5"/>
<circle cx="631.7" cy="356.1" r="1.1" fill="none" stroke="#ff2314" stroke-width="0.5"/>
<circle cx="630.9" cy="355.9" r="1.1" fill="none" stroke="#ff2314" stroke-width="0.5"/>
<rect x="639.50" y="345.82" width="5.60" height="81.58" fill="#fff" stroke="#ea6d47" stroke-width="1.0"/>
<line x1="642.30" y1="344.24" x2="642.30" y2="346.40" stroke="#ea6d47" stroke-width="0.8"/>
<line x1="640.50" y1="344.24" x2="644.10" y2="344.24" stroke="#ea6d47" stroke-width="0.8"/>
<circle cx="641.5" cy="345.5" r="1.1" fill="none" stroke="#ea6d47" stroke-width="0.5"/>
<circle cx="641.9" cy="344.6" r="1.1" fill="none" stroke="#ea6d47" stroke-width="0.5"/>
<circle cx="643.7" cy="346.0" r="1.1" fill="none" stroke="#ea6d47" stroke-width="0.5"/>
<rect x="649.10" y="349.60" width="5.60" height="77.80" fill="#fff" stroke="#5ec2d8" stroke-width="1.0"/>
<line x1="651.90" y1="346.94" x2="651.90" y2="351.26" stroke="#5ec2d8" stroke-width="0.8"/>
<line x1="650.10" y1="346.94" x2="653.70" y2="346.94" stroke="#5ec2d8" stroke-width="0.8"/>
<circle cx="651.5" cy="350.5" r="1.1" fill="none" stroke="#5ec2d8" stroke-width="0.5"/>
<circle cx="652.5" cy="347.0" r="1.1" fill="none" stroke="#5ec2d8" stroke-width="0.5"/>
<circle cx="650.8" cy="347.9" r="1.1" fill="none" stroke="#5ec2d8" stroke-width="0.5"/>
<rect x="658.70" y="370.66" width="5.60" height="56.74" fill="#fff" stroke="#bfdfba" stroke-width="1.0"/>
<line x1="661.50" y1="369.08" x2="661.50" y2="371.24" stroke="#bfdfba" stroke-width="0.8"/>
<line x1="659.70" y1="369.08" x2="663.30" y2="369.08" stroke="#bfdfba" stroke-width="0.8"/>
<circle cx="660.8" cy="371.2" r="1.1" fill="none" stroke="#bfdfba" stroke-width="0.5"/>
<circle cx="662.5" cy="370.5" r="1.1" fill="none" stroke="#bfdfba" stroke-width="0.5"/>
<circle cx="660.3" cy="370.3" r="1.1" fill="none" stroke="#bfdfba" stroke-width="0.5"/>
<rect x="668.30" y="374.44" width="5.60" height="52.96" fill="#fff" stroke="#4f64b4" stroke-width="1.0"/>
<line x1="671.10" y1="371.24" x2="671.10" y2="376.64" stroke="#4f64b4" stroke-width="0.8"/>
<line x1="669.30" y1="371.24" x2="672.90" y2="371.24" stroke="#4f64b4" stroke-width="0.8"/>
<circle cx="670.1" cy="374.4" r="1.1" fill="none" stroke="#4f64b4" stroke-width="0.5"/>
<circle cx="670.9" cy="374.4" r="1.1" fill="none" stroke="#4f64b4" stroke-width="0.5"/>
<circle cx="671.4" cy="375.1" r="1.1" fill="none" stroke="#4f64b4" stroke-width="0.5"/>
<line x1="651.40" y1="427.40" x2="651.40" y2="429.90" stroke="#222" stroke-width="0.9"/>
<text x="649.2" y="437.0" font-size="7.1" fill="#222" text-anchor="middle">72h</text>
<line x1="515.60" y1="319.00" x2="515.60" y2="427.90" stroke="#222" stroke-width="1.0"/>
<line x1="515.10" y1="427.40" x2="678.50" y2="427.40" stroke="#222" stroke-width="1.0"/>
<text x="490.8" y="369.4" font-size="10.4" font-weight="bold" fill="#000" text-anchor="middle" transform="rotate(-90 490.8 369.4)">IL-6(pg/ml)</text>
<line x1="531.90" y1="317.40" x2="551.70" y2="317.40" stroke="#222" stroke-width="0.75"/>
<path d="M537.6 315.8h0M540.4 315.8h0M543.2 315.8h0M546.0 315.8h0" stroke="#1a1a1a" stroke-width="1.90" stroke-linecap="round" opacity="1" fill="none"/>
<line x1="522.00" y1="330.60" x2="533.60" y2="330.60" stroke="#222" stroke-width="0.75"/>
<path d="M523.6 329.0h0M526.4 329.0h0M529.2 329.0h0M532.0 329.0h0" stroke="#1a1a1a" stroke-width="1.90" stroke-linecap="round" opacity="1" fill="none"/>
<line x1="551.70" y1="330.60" x2="560.90" y2="330.60" stroke="#222" stroke-width="0.75"/>
<path d="M554.9 329.0h0M557.7 329.0h0" stroke="#1a1a1a" stroke-width="1.90" stroke-linecap="round" opacity="1" fill="none"/>
<line x1="587.00" y1="317.40" x2="606.80" y2="317.40" stroke="#222" stroke-width="0.75"/>
<path d="M592.7 315.8h0M595.5 315.8h0M598.3 315.8h0M601.1 315.8h0" stroke="#1a1a1a" stroke-width="1.90" stroke-linecap="round" opacity="1" fill="none"/>
<line x1="577.00" y1="330.60" x2="588.20" y2="330.60" stroke="#222" stroke-width="0.75"/>
<path d="M578.4 329.0h0M581.2 329.0h0M584.0 329.0h0M586.8 329.0h0" stroke="#1a1a1a" stroke-width="1.90" stroke-linecap="round" opacity="1" fill="none"/>
<line x1="606.80" y1="330.60" x2="615.50" y2="330.60" stroke="#222" stroke-width="0.75"/>
<path d="M611.1 329.0h0" stroke="#1a1a1a" stroke-width="1.90" stroke-linecap="round" opacity="1" fill="none"/>
<line x1="642.00" y1="317.40" x2="661.40" y2="317.40" stroke="#222" stroke-width="0.75"/>
<path d="M647.5 315.8h0M650.3 315.8h0M653.1 315.8h0M655.9 315.8h0" stroke="#1a1a1a" stroke-width="1.90" stroke-linecap="round" opacity="1" fill="none"/>
<line x1="632.10" y1="330.60" x2="643.50" y2="330.60" stroke="#222" stroke-width="0.75"/>
<path d="M633.6 329.0h0M636.4 329.0h0M639.2 329.0h0M642.0 329.0h0" stroke="#1a1a1a" stroke-width="1.90" stroke-linecap="round" opacity="1" fill="none"/>
<line x1="661.40" y1="330.60" x2="671.30" y2="330.60" stroke="#222" stroke-width="0.75"/>
<path d="M664.9 329.0h0M667.7 329.0h0" stroke="#1a1a1a" stroke-width="1.90" stroke-linecap="round" opacity="1" fill="none"/>
<text x="477.4" y="449.7" font-size="12.9" fill="#000" font-weight="bold" text-anchor="start">J</text>
<line x1="511.60" y1="557.40" x2="515.60" y2="557.40" stroke="#333" stroke-width="0.9"/>
<text x="510.0" y="559.8" font-size="6.8" fill="#333" text-anchor="end">0</text>
<line x1="511.60" y1="530.20" x2="515.60" y2="530.20" stroke="#333" stroke-width="0.9"/>
<text x="510.0" y="532.6" font-size="6.8" fill="#333" text-anchor="end">500</text>
<line x1="511.60" y1="503.00" x2="515.60" y2="503.00" stroke="#333" stroke-width="0.9"/>
<text x="510.0" y="505.4" font-size="6.8" fill="#333" text-anchor="end">1000</text>
<line x1="511.60" y1="475.80" x2="515.60" y2="475.80" stroke="#333" stroke-width="0.9"/>
<text x="510.0" y="478.2" font-size="6.8" fill="#333" text-anchor="end">1500</text>
<line x1="511.60" y1="448.60" x2="515.60" y2="448.60" stroke="#333" stroke-width="0.9"/>
<text x="510.0" y="451.0" font-size="6.8" fill="#333" text-anchor="end">2000</text>
<rect x="520.00" y="489.36" width="5.60" height="68.04" fill="#fff" stroke="#ff2314" stroke-width="1.0"/>
<line x1="522.80" y1="486.68" x2="522.80" y2="491.03" stroke="#ff2314" stroke-width="0.8"/>
<line x1="521.00" y1="486.68" x2="524.60" y2="486.68" stroke="#ff2314" stroke-width="0.8"/>
<circle cx="522.7" cy="489.4" r="1.1" fill="none" stroke="#ff2314" stroke-width="0.5"/>
<circle cx="521.5" cy="487.3" r="1.1" fill="none" stroke="#ff2314" stroke-width="0.5"/>
<circle cx="521.0" cy="488.8" r="1.1" fill="none" stroke="#ff2314" stroke-width="0.5"/>
<rect x="529.60" y="502.41" width="5.60" height="54.99" fill="#fff" stroke="#ea6d47" stroke-width="1.0"/>
<line x1="532.40" y1="500.82" x2="532.40" y2="503.00" stroke="#ea6d47" stroke-width="0.8"/>
<line x1="530.60" y1="500.82" x2="534.20" y2="500.82" stroke="#ea6d47" stroke-width="0.8"/>
<circle cx="533.8" cy="502.8" r="1.1" fill="none" stroke="#ea6d47" stroke-width="0.5"/>
<circle cx="532.6" cy="501.7" r="1.1" fill="none" stroke="#ea6d47" stroke-width="0.5"/>
<circle cx="530.7" cy="502.2" r="1.1" fill="none" stroke="#ea6d47" stroke-width="0.5"/>
<rect x="539.20" y="488.81" width="5.60" height="68.59" fill="#fff" stroke="#5ec2d8" stroke-width="1.0"/>
<line x1="542.00" y1="485.05" x2="542.00" y2="491.58" stroke="#5ec2d8" stroke-width="0.8"/>
<line x1="540.20" y1="485.05" x2="543.80" y2="485.05" stroke="#5ec2d8" stroke-width="0.8"/>
<circle cx="542.7" cy="488.6" r="1.1" fill="none" stroke="#5ec2d8" stroke-width="0.5"/>
<circle cx="542.8" cy="490.6" r="1.1" fill="none" stroke="#5ec2d8" stroke-width="0.5"/>
<circle cx="541.1" cy="490.9" r="1.1" fill="none" stroke="#5ec2d8" stroke-width="0.5"/>
<rect x="548.80" y="485.00" width="5.60" height="72.40" fill="#fff" stroke="#bfdfba" stroke-width="1.0"/>
<line x1="551.60" y1="482.33" x2="551.60" y2="486.68" stroke="#bfdfba" stroke-width="0.8"/>
<line x1="549.80" y1="482.33" x2="553.40" y2="482.33" stroke="#bfdfba" stroke-width="0.8"/>
<circle cx="551.6" cy="482.7" r="1.1" fill="none" stroke="#bfdfba" stroke-width="0.5"/>
<circle cx="551.9" cy="483.3" r="1.1" fill="none" stroke="#bfdfba" stroke-width="0.5"/>
<circle cx="551.2" cy="483.4" r="1.1" fill="none" stroke="#bfdfba" stroke-width="0.5"/>
<rect x="558.40" y="480.65" width="5.60" height="76.75" fill="#fff" stroke="#4f64b4" stroke-width="1.0"/>
<line x1="561.20" y1="479.06" x2="561.20" y2="481.24" stroke="#4f64b4" stroke-width="0.8"/>
<line x1="559.40" y1="479.06" x2="563.00" y2="479.06" stroke="#4f64b4" stroke-width="0.8"/>
<circle cx="559.8" cy="480.6" r="1.1" fill="none" stroke="#4f64b4" stroke-width="0.5"/>
<circle cx="561.8" cy="479.7" r="1.1" fill="none" stroke="#4f64b4" stroke-width="0.5"/>
<circle cx="560.9" cy="481.0" r="1.1" fill="none" stroke="#4f64b4" stroke-width="0.5"/>
<line x1="542.80" y1="557.40" x2="542.80" y2="559.90" stroke="#222" stroke-width="0.9"/>
<text x="540.6" y="567.0" font-size="7.1" fill="#222" text-anchor="middle">24h</text>
<rect x="574.90" y="485.55" width="5.60" height="71.85" fill="#fff" stroke="#ff2314" stroke-width="1.0"/>
<line x1="577.70" y1="481.78" x2="577.70" y2="488.31" stroke="#ff2314" stroke-width="0.8"/>
<line x1="575.90" y1="481.78" x2="579.50" y2="481.78" stroke="#ff2314" stroke-width="0.8"/>
<circle cx="576.9" cy="486.9" r="1.1" fill="none" stroke="#ff2314" stroke-width="0.5"/>
<circle cx="576.9" cy="483.0" r="1.1" fill="none" stroke="#ff2314" stroke-width="0.5"/>
<circle cx="576.6" cy="482.5" r="1.1" fill="none" stroke="#ff2314" stroke-width="0.5"/>
<rect x="584.50" y="502.41" width="5.60" height="54.99" fill="#fff" stroke="#ea6d47" stroke-width="1.0"/>
<line x1="587.30" y1="500.82" x2="587.30" y2="503.00" stroke="#ea6d47" stroke-width="0.8"/>
<line x1="585.50" y1="500.82" x2="589.10" y2="500.82" stroke="#ea6d47" stroke-width="0.8"/>
<circle cx="588.7" cy="502.9" r="1.1" fill="none" stroke="#ea6d47" stroke-width="0.5"/>
<circle cx="586.9" cy="501.9" r="1.1" fill="none" stroke="#ea6d47" stroke-width="0.5"/>
<circle cx="585.6" cy="502.1" r="1.1" fill="none" stroke="#ea6d47" stroke-width="0.5"/>
<rect x="594.10" y="485.55" width="5.60" height="71.85" fill="#fff" stroke="#5ec2d8" stroke-width="1.0"/>
<line x1="596.90" y1="482.87" x2="596.90" y2="487.22" stroke="#5ec2d8" stroke-width="0.8"/>
<line x1="595.10" y1="482.87" x2="598.70" y2="482.87" stroke="#5ec2d8" stroke-width="0.8"/>
<circle cx="598.4" cy="486.7" r="1.1" fill="none" stroke="#5ec2d8" stroke-width="0.5"/>
<circle cx="597.2" cy="486.7" r="1.1" fill="none" stroke="#5ec2d8" stroke-width="0.5"/>
<circle cx="597.2" cy="483.3" r="1.1" fill="none" stroke="#5ec2d8" stroke-width="0.5"/>
<rect x="603.70" y="482.83" width="5.60" height="74.57" fill="#fff" stroke="#bfdfba" stroke-width="1.0"/>
<line x1="606.50" y1="480.70" x2="606.50" y2="483.96" stroke="#bfdfba" stroke-width="0.8"/>
<line x1="604.70" y1="480.70" x2="608.30" y2="480.70" stroke="#bfdfba" stroke-width="0.8"/>
<circle cx="605.4" cy="483.9" r="1.1" fill="none" stroke="#bfdfba" stroke-width="0.5"/>
<circle cx="605.0" cy="482.2" r="1.1" fill="none" stroke="#bfdfba" stroke-width="0.5"/>
<circle cx="604.8" cy="483.7" r="1.1" fill="none" stroke="#bfdfba" stroke-width="0.5"/>
<rect x="613.30" y="477.39" width="5.60" height="80.01" fill="#fff" stroke="#4f64b4" stroke-width="1.0"/>
<line x1="616.10" y1="474.17" x2="616.10" y2="479.61" stroke="#4f64b4" stroke-width="0.8"/>
<line x1="614.30" y1="474.17" x2="617.90" y2="474.17" stroke="#4f64b4" stroke-width="0.8"/>
<circle cx="616.1" cy="474.6" r="1.1" fill="none" stroke="#4f64b4" stroke-width="0.5"/>
<circle cx="615.8" cy="477.4" r="1.1" fill="none" stroke="#4f64b4" stroke-width="0.5"/>
<circle cx="616.6" cy="479.1" r="1.1" fill="none" stroke="#4f64b4" stroke-width="0.5"/>
<line x1="597.10" y1="557.40" x2="597.10" y2="559.90" stroke="#222" stroke-width="0.9"/>
<text x="594.9" y="567.0" font-size="7.1" fill="#222" text-anchor="middle">48h</text>
<rect x="629.90" y="487.18" width="5.60" height="70.22" fill="#fff" stroke="#ff2314" stroke-width="1.0"/>
<line x1="632.70" y1="485.59" x2="632.70" y2="487.77" stroke="#ff2314" stroke-width="0.8"/>
<line x1="630.90" y1="485.59" x2="634.50" y2="485.59" stroke="#ff2314" stroke-width="0.8"/>
<circle cx="633.0" cy="487.4" r="1.1" fill="none" stroke="#ff2314" stroke-width="0.5"/>
<circle cx="633.1" cy="485.7" r="1.1" fill="none" stroke="#ff2314" stroke-width="0.5"/>
<circle cx="631.1" cy="486.6" r="1.1" fill="none" stroke="#ff2314" stroke-width="0.5"/>
<rect x="639.50" y="500.78" width="5.60" height="56.62" fill="#fff" stroke="#ea6d47" stroke-width="1.0"/>
<line x1="642.30" y1="498.65" x2="642.30" y2="501.91" stroke="#ea6d47" stroke-width="0.8"/>
<line x1="640.50" y1="498.65" x2="644.10" y2="498.65" stroke="#ea6d47" stroke-width="0.8"/>
<circle cx="642.7" cy="501.4" r="1.1" fill="none" stroke="#ea6d47" stroke-width="0.5"/>
<circle cx="641.5" cy="498.7" r="1.1" fill="none" stroke="#ea6d47" stroke-width="0.5"/>
<circle cx="644.1" cy="501.5" r="1.1" fill="none" stroke="#ea6d47" stroke-width="0.5"/>
<rect x="649.10" y="485.55" width="5.60" height="71.85" fill="#fff" stroke="#5ec2d8" stroke-width="1.0"/>
<line x1="651.90" y1="483.42" x2="651.90" y2="486.68" stroke="#5ec2d8" stroke-width="0.8"/>
<line x1="650.10" y1="483.42" x2="653.70" y2="483.42" stroke="#5ec2d8" stroke-width="0.8"/>
<circle cx="652.6" cy="483.6" r="1.1" fill="none" stroke="#5ec2d8" stroke-width="0.5"/>
<circle cx="651.0" cy="484.7" r="1.1" fill="none" stroke="#5ec2d8" stroke-width="0.5"/>
<circle cx="650.3" cy="485.5" r="1.1" fill="none" stroke="#5ec2d8" stroke-width="0.5"/>
<rect x="658.70" y="481.74" width="5.60" height="75.66" fill="#fff" stroke="#bfdfba" stroke-width="1.0"/>
<line x1="661.50" y1="479.61" x2="661.50" y2="482.87" stroke="#bfdfba" stroke-width="0.8"/>
<line x1="659.70" y1="479.61" x2="663.30" y2="479.61" stroke="#bfdfba" stroke-width="0.8"/>
<circle cx="662.1" cy="480.9" r="1.1" fill="none" stroke="#bfdfba" stroke-width="0.5"/>
<circle cx="662.5" cy="482.6" r="1.1" fill="none" stroke="#bfdfba" stroke-width="0.5"/>
<circle cx="660.9" cy="480.1" r="1.1" fill="none" stroke="#bfdfba" stroke-width="0.5"/>
<rect x="668.30" y="475.21" width="5.60" height="82.19" fill="#fff" stroke="#4f64b4" stroke-width="1.0"/>
<line x1="671.10" y1="472.54" x2="671.10" y2="476.89" stroke="#4f64b4" stroke-width="0.8"/>
<line x1="669.30" y1="472.54" x2="672.90" y2="472.54" stroke="#4f64b4" stroke-width="0.8"/>
<circle cx="671.4" cy="474.9" r="1.1" fill="none" stroke="#4f64b4" stroke-width="0.5"/>
<circle cx="670.7" cy="472.6" r="1.1" fill="none" stroke="#4f64b4" stroke-width="0.5"/>
<circle cx="671.4" cy="476.8" r="1.1" fill="none" stroke="#4f64b4" stroke-width="0.5"/>
<line x1="651.40" y1="557.40" x2="651.40" y2="559.90" stroke="#222" stroke-width="0.9"/>
<text x="649.2" y="567.0" font-size="7.1" fill="#222" text-anchor="middle">72h</text>
<line x1="515.60" y1="448.20" x2="515.60" y2="557.90" stroke="#222" stroke-width="1.0"/>
<line x1="515.10" y1="557.40" x2="678.50" y2="557.40" stroke="#222" stroke-width="1.0"/>
<text x="486.6" y="498.6" font-size="10.4" font-weight="bold" fill="#000" text-anchor="middle" transform="rotate(-90 486.6 498.6)">IL-10(pg/ml)</text>
<line x1="531.90" y1="451.20" x2="551.70" y2="451.20" stroke="#222" stroke-width="0.75"/>
<path d="M537.6 449.6h0M540.4 449.6h0M543.2 449.6h0M546.0 449.6h0" stroke="#1a1a1a" stroke-width="1.90" stroke-linecap="round" opacity="1" fill="none"/>
<line x1="522.00" y1="461.10" x2="533.60" y2="461.10" stroke="#222" stroke-width="0.75"/>
<path d="M523.6 459.5h0M526.4 459.5h0M529.2 459.5h0M532.0 459.5h0" stroke="#1a1a1a" stroke-width="1.90" stroke-linecap="round" opacity="1" fill="none"/>
<line x1="551.00" y1="461.10" x2="562.10" y2="461.10" stroke="#222" stroke-width="0.75"/>
<path d="M552.3 459.5h0M555.1 459.5h0M557.9 459.5h0M560.8 459.5h0" stroke="#1a1a1a" stroke-width="1.90" stroke-linecap="round" opacity="1" fill="none"/>
<line x1="587.00" y1="451.20" x2="606.80" y2="451.20" stroke="#222" stroke-width="0.75"/>
<path d="M592.7 449.6h0M595.5 449.6h0M598.3 449.6h0M601.1 449.6h0" stroke="#1a1a1a" stroke-width="1.90" stroke-linecap="round" opacity="1" fill="none"/>
<line x1="577.00" y1="461.10" x2="588.20" y2="461.10" stroke="#222" stroke-width="0.75"/>
<path d="M578.4 459.5h0M581.2 459.5h0M584.0 459.5h0M586.8 459.5h0" stroke="#1a1a1a" stroke-width="1.90" stroke-linecap="round" opacity="1" fill="none"/>
<line x1="606.00" y1="461.10" x2="617.20" y2="461.10" stroke="#222" stroke-width="0.75"/>
<path d="M607.4 459.5h0M610.2 459.5h0M613.0 459.5h0M615.8 459.5h0" stroke="#1a1a1a" stroke-width="1.90" stroke-linecap="round" opacity="1" fill="none"/>
<line x1="632.10" y1="450.20" x2="643.50" y2="450.20" stroke="#222" stroke-width="0.75"/>
<path d="M633.6 448.6h0M636.4 448.6h0M639.2 448.6h0M642.0 448.6h0" stroke="#1a1a1a" stroke-width="1.90" stroke-linecap="round" opacity="1" fill="none"/>
<line x1="660.90" y1="449.00" x2="671.80" y2="449.00" stroke="#222" stroke-width="0.75"/>
<path d="M662.1 447.4h0M664.9 447.4h0M667.7 447.4h0M670.5 447.4h0" stroke="#1a1a1a" stroke-width="1.90" stroke-linecap="round" opacity="1" fill="none"/>
<line x1="642.00" y1="460.10" x2="661.40" y2="460.10" stroke="#222" stroke-width="0.75"/>
<path d="M647.5 458.5h0M650.3 458.5h0M653.1 458.5h0M655.9 458.5h0" stroke="#1a1a1a" stroke-width="1.90" stroke-linecap="round" opacity="1" fill="none"/>
<text x="1.0" y="279.0" font-size="12.9" fill="#000" font-weight="bold" text-anchor="start">E</text>
<text x="52.9" y="283.7" font-size="10.35" fill="#2626e6" font-weight="bold" text-anchor="middle">DAPI</text>
<text x="125.3" y="283.7" font-size="10.35" fill="#a82020" font-weight="bold" text-anchor="middle">INOS</text>
<text x="198.3" y="283.7" font-size="10.35" fill="#000" font-weight="bold" text-anchor="middle">Merge</text>
<rect x="86.20" y="285.80" width="0.90" height="247.30" fill="#9a9a9a"/>
<rect x="158.70" y="285.80" width="1.10" height="247.30" fill="#9a9a9a"/>
<rect x="9.10" y="285.80" width="4.90" height="48.20" fill="#ff2314"/>
<rect x="15.00" y="285.80" width="71.20" height="48.20" fill="#03021a"/>
<path d="M78.9 319.0h0M72.5 331.7h0M35.0 291.5h0M62.8 318.3h0M71.3 332.0h0M28.9 329.6h0M84.3 322.5h0M21.7 294.5h0M83.9 325.3h0M52.2 297.8h0M17.6 333.0h0M54.6 290.6h0M76.6 320.2h0M16.0 299.1h0M41.4 289.1h0M24.5 329.8h0M80.1 296.3h0M75.2 323.4h0M78.1 307.7h0M75.8 301.8h0M64.0 298.6h0M66.2 300.4h0M64.3 308.4h0M53.5 296.2h0M79.3 305.3h0M54.0 332.4h0M48.3 290.1h0M85.2 325.2h0M77.0 326.2h0M75.1 287.0h0M70.1 299.4h0M19.8 333.0h0M46.6 297.6h0M22.1 287.1h0M85.2 291.5h0M24.7 332.1h0M70.5 313.3h0M75.6 303.5h0M51.4 322.7h0M75.2 298.4h0M19.1 292.2h0M53.9 330.2h0M81.9 316.5h0M25.6 298.7h0M73.8 312.5h0M16.0 296.7h0M79.1 295.9h0M78.4 308.9h0M40.8 296.5h0M49.1 299.0h0M43.5 290.9h0M67.9 313.5h0M60.6 305.7h0M79.2 318.7h0M52.5 294.5h0M16.0 330.7h0M71.8 326.6h0M60.9 318.2h0M46.3 299.2h0M51.1 333.0h0M80.1 286.8h0M77.5 298.1h0M25.0 327.4h0M56.3 300.5h0M77.0 301.4h0M16.8 301.2h0M23.8 286.8h0M22.4 288.8h0M77.2 312.6h0M57.8 298.6h0M60.9 301.2h0M76.9 302.8h0M51.0 302.1h0M18.2 303.1h0M22.3 286.8h0M85.2 316.0h0M29.4 326.5h0M60.7 291.2h0M24.1 295.2h0M45.7 298.5h0M66.1 326.2h0M58.3 325.1h0M53.6 331.1h0M66.6 298.9h0M78.5 300.4h0M49.0 327.8h0M55.4 319.1h0M23.7 320.8h0M83.4 299.6h0M76.4 289.9h0M39.7 297.6h0M78.9 300.5h0M71.2 306.5h0M64.9 310.8h0M29.8 328.2h0M75.7 305.4h0M72.6 325.2h0M73.6 323.4h0M84.3 314.5h0M49.8 332.6h0M70.7 311.6h0M54.5 324.7h0M52.9 322.1h0M39.2 333.0h0M64.7 302.9h0M43.4 301.6h0M72.4 301.1h0M80.9 305.0h0M64.4 303.9h0M71.5 299.5h0M19.6 328.8h0M78.5 317.7h0M76.1 330.5h0M78.7 307.5h0M56.3 294.2h0M71.0 302.5h0M40.8 300.3h0M47.7 292.2h0M50.3 294.0h0M81.0 329.8h0M40.6 287.4h0M17.9 291.1h0M81.9 311.8h0M82.3 308.7h0M71.6 330.6h0M44.7 300.0h0M16.0 299.6h0M38.1 297.8h0M62.5 311.8h0M34.2 318.9h0M53.3 323.8h0M78.3 322.7h0M59.9 297.8h0M67.4 295.7h0M28.3 333.0h0M34.8 297.8h0M67.2 332.1h0M33.4 309.9h0M79.3 306.5h0M64.6 314.5h0M61.9 318.1h0M51.6 327.0h0M80.1 287.3h0M48.2 298.1h0M72.3 326.7h0M85.2 302.8h0M71.3 315.9h0M75.6 305.0h0M83.7 288.4h0M28.1 315.0h0M75.5 318.9h0M35.9 309.1h0M71.6 328.1h0M66.9 306.7h0M72.0 321.8h0M49.9 332.6h0M42.5 306.5h0M73.1 331.8h0M38.7 297.2h0M43.0 301.9h0M72.2 303.9h0M53.7 327.5h0M60.9 304.5h0M21.6 294.2h0M34.2 300.3h0M65.4 307.0h0M24.0 286.8h0M56.3 326.4h0M66.5 303.5h0M16.0 333.0h0M60.9 315.4h0M82.4 312.8h0M70.1 311.6h0M69.9 307.5h0M56.4 299.5h0M34.2 303.9h0M72.7 311.9h0M37.6 291.2h0M39.8 293.3h0M74.4 321.7h0M55.8 326.6h0M78.9 299.5h0M70.2 299.9h0M80.8 310.5h0M82.0 286.8h0M40.6 300.6h0M44.7 309.2h0M16.0 289.5h0M81.7 314.1h0M72.3 323.4h0M42.2 332.9h0M81.4 288.1h0M28.3 296.7h0M65.1 302.0h0M73.4 289.1h0M48.1 297.6h0M74.4 305.0h0M16.4 326.9h0M75.8 310.4h0M50.4 296.5h0M59.9 332.1h0M47.6 313.1h0M80.4 322.6h0M38.3 292.3h0M79.7 315.4h0M81.8 311.4h0M75.0 320.8h0M75.9 332.1h0M84.4 323.3h0M76.1 330.1h0" stroke="#2a1ef0" stroke-width="1.56" stroke-linecap="round" opacity="1" fill="none" filter="url(#s)"/>
<rect x="87.10" y="285.80" width="71.60" height="48.20" fill="#020000"/>
<rect x="159.80" y="285.80" width="71.50" height="48.20" fill="#04031a"/>
<path d="M223.7 319.0h0M217.3 331.7h0M179.8 291.5h0M207.6 318.3h0M216.1 332.0h0M173.7 329.6h0M229.1 322.5h0M166.5 294.5h0M228.7 325.3h0M197.0 297.8h0M162.4 333.0h0M199.4 290.6h0M221.4 320.2h0M160.8 299.1h0M186.2 289.1h0M169.3 329.8h0M224.9 296.3h0M220.0 323.4h0M222.9 307.7h0M220.6 301.8h0M208.8 298.6h0M211.0 300.4h0M209.1 308.4h0M198.3 296.2h0M224.1 305.3h0M198.8 332.4h0M193.1 290.1h0M230.0 325.2h0M221.8 326.2h0M219.9 287.0h0M214.9 299.4h0M164.6 333.0h0M191.4 297.6h0M166.9 287.1h0M230.0 291.5h0M169.5 332.1h0M215.3 313.3h0M220.4 303.5h0M196.2 322.7h0M220.0 298.4h0M163.9 292.2h0M198.7 330.2h0M226.7 316.5h0M170.4 298.7h0M218.6 312.5h0M160.8 296.7h0M223.9 295.9h0M223.2 308.9h0M185.6 296.5h0M193.9 299.0h0M188.3 290.9h0M212.7 313.5h0M205.4 305.7h0M224.0 318.7h0M197.3 294.5h0M160.8 330.7h0M216.6 326.6h0M205.7 318.2h0M191.1 299.2h0M195.9 333.0h0M224.9 286.8h0M222.3 298.1h0M169.8 327.4h0M201.1 300.5h0M221.8 301.4h0M161.6 301.2h0M168.6 286.8h0M167.2 288.8h0M222.0 312.6h0M202.6 298.6h0M205.7 301.2h0M221.7 302.8h0M195.8 302.1h0M163.0 303.1h0M167.1 286.8h0M230.0 316.0h0M174.2 326.5h0M205.5 291.2h0M168.9 295.2h0M190.5 298.5h0M210.9 326.2h0M203.1 325.1h0M198.4 331.1h0M211.4 298.9h0M223.3 300.4h0M193.8 327.8h0M200.2 319.1h0M168.5 320.8h0M228.2 299.6h0M221.2 289.9h0M184.5 297.6h0M223.7 300.5h0M216.0 306.5h0M209.7 310.8h0M174.6 328.2h0M220.5 305.4h0M217.4 325.2h0M218.4 323.4h0M229.1 314.5h0M194.6 332.6h0M215.5 311.6h0M199.3 324.7h0M197.7 322.1h0M184.0 333.0h0M209.5 302.9h0M188.2 301.6h0M217.2 301.1h0M225.7 305.0h0M209.2 303.9h0M216.3 299.5h0M164.4 328.8h0M223.3 317.7h0M220.9 330.5h0M223.5 307.5h0M201.1 294.2h0M215.8 302.5h0M185.6 300.3h0M192.5 292.2h0M195.1 294.0h0M225.8 329.8h0M185.4 287.4h0M162.7 291.1h0M226.7 311.8h0M227.1 308.7h0M216.4 330.6h0M189.5 300.0h0M160.8 299.6h0M182.9 297.8h0M207.3 311.8h0M179.0 318.9h0M198.1 323.8h0M223.1 322.7h0M204.7 297.8h0M212.2 295.7h0M173.1 333.0h0M179.6 297.8h0M212.0 332.1h0M178.2 309.9h0M224.1 306.5h0M209.4 314.5h0M206.7 318.1h0M196.4 327.0h0M224.9 287.3h0M193.0 298.1h0M217.1 326.7h0M230.0 302.8h0M216.1 315.9h0M220.4 305.0h0M228.5 288.4h0M172.9 315.0h0M220.3 318.9h0M180.7 309.1h0M216.4 328.1h0M211.7 306.7h0M216.8 321.8h0M194.7 332.6h0M187.3 306.5h0M217.9 331.8h0M183.5 297.2h0M187.8 301.9h0M217.0 303.9h0M198.5 327.5h0M205.7 304.5h0M166.4 294.2h0M179.0 300.3h0M210.2 307.0h0M168.8 286.8h0M201.1 326.4h0M211.3 303.5h0M160.8 333.0h0M205.7 315.4h0M227.2 312.8h0M214.9 311.6h0M214.7 307.5h0M201.2 299.5h0M179.0 303.9h0M217.5 311.9h0M182.4 291.2h0M184.6 293.3h0M219.2 321.7h0M200.6 326.6h0M223.7 299.5h0M215.0 299.9h0M225.6 310.5h0M226.8 286.8h0M185.4 300.6h0M189.5 309.2h0M160.8 289.5h0M226.5 314.1h0M217.1 323.4h0M187.0 332.9h0M226.2 288.1h0M173.1 296.7h0M209.9 302.0h0M218.2 289.1h0M192.9 297.6h0M219.2 305.0h0M161.2 326.9h0M220.6 310.4h0M195.2 296.5h0M204.7 332.1h0M192.4 313.1h0M225.2 322.6h0M183.1 292.3h0M224.5 315.4h0M226.6 311.4h0M219.8 320.8h0M220.7 332.1h0M229.2 323.3h0M220.9 330.1h0" stroke="#3a22ee" stroke-width="1.56" stroke-linecap="round" opacity="1" fill="none" filter="url(#s)"/>
<rect x="9.10" y="335.70" width="4.90" height="48.30" fill="#ea6d47"/>
<rect x="15.00" y="335.70" width="71.20" height="48.30" fill="#03021a"/>
<path d="M64.7 348.6h0M44.0 356.9h0M75.8 352.1h0M45.7 336.7h0M34.9 383.0h0M68.7 346.5h0M34.1 353.7h0M69.3 350.2h0M48.3 370.1h0M40.8 363.1h0M25.4 358.6h0M31.2 383.0h0M18.4 379.1h0M29.6 375.0h0M22.7 356.1h0M41.6 383.0h0M20.7 336.7h0M54.7 368.4h0M19.5 339.2h0M83.5 362.4h0M62.9 352.8h0M38.0 383.0h0M83.9 374.8h0M85.2 355.4h0M20.1 377.6h0M22.2 357.0h0M81.0 353.4h0M28.4 375.4h0M63.5 357.7h0M36.9 375.7h0M26.7 371.0h0M46.9 380.5h0M32.3 376.8h0M21.0 375.7h0M49.8 368.8h0M25.8 383.0h0M69.6 377.3h0M28.7 360.4h0M79.7 373.7h0M85.2 383.0h0M43.8 371.6h0M34.9 375.4h0M66.7 358.6h0M66.8 347.3h0M27.6 359.2h0M19.1 347.5h0M26.8 374.4h0M46.3 374.9h0M43.5 355.3h0M44.4 336.7h0M32.8 383.0h0M83.0 359.0h0M79.6 348.5h0M71.5 376.7h0M16.0 343.3h0M24.3 352.2h0M60.6 364.5h0M16.0 368.6h0M25.3 374.7h0M21.9 347.3h0M39.3 378.0h0M22.0 342.4h0M72.8 375.4h0M16.0 355.6h0M22.9 344.5h0M83.8 357.3h0M49.8 378.6h0M69.7 347.4h0M34.8 383.0h0M23.9 359.9h0M28.7 382.2h0M19.5 338.1h0M17.9 344.4h0M31.9 383.0h0M26.1 383.0h0M81.3 353.8h0M65.8 357.5h0M85.2 358.2h0M57.2 367.8h0M24.0 346.5h0M58.3 367.6h0M45.3 338.0h0M79.8 369.8h0M31.7 375.7h0M30.4 383.0h0M74.3 351.0h0M77.7 353.1h0M85.2 355.4h0M50.2 378.4h0M17.3 356.8h0M25.0 361.8h0M16.0 354.4h0M31.8 383.0h0M85.2 357.4h0M19.4 336.7h0M82.2 359.3h0M29.0 345.2h0M44.3 354.5h0M22.8 361.9h0M41.7 356.0h0M16.0 372.8h0M49.5 379.0h0M47.9 377.9h0M65.7 354.3h0M25.8 362.0h0M81.7 383.0h0M62.0 357.2h0M51.4 380.4h0M23.8 336.7h0M16.0 348.5h0M83.0 358.1h0M85.2 366.4h0M27.5 361.6h0M41.1 380.2h0M24.2 365.6h0M47.1 380.9h0M46.7 370.9h0M81.2 352.4h0M71.5 350.9h0M24.7 340.1h0M44.9 375.4h0M25.1 351.1h0M23.0 351.7h0M42.9 380.5h0M39.6 383.0h0M17.1 336.7h0M81.4 374.6h0M78.0 373.2h0M63.5 368.3h0M80.4 354.5h0M40.7 336.7h0M80.4 355.7h0M39.7 372.3h0M84.0 368.8h0M75.2 373.5h0M35.9 372.9h0M85.2 371.1h0M47.1 369.8h0M31.4 383.0h0M19.0 365.1h0M24.4 374.1h0M72.7 380.7h0M24.7 383.0h0M85.2 377.7h0M28.7 373.9h0M35.6 373.1h0M74.1 368.2h0M38.5 364.6h0M42.6 336.7h0M83.7 373.8h0M34.7 383.0h0M63.5 345.0h0M32.7 378.0h0M74.9 376.0h0M18.0 336.7h0M28.5 370.2h0M85.2 366.8h0M28.9 372.6h0M58.5 372.9h0M40.6 340.2h0M85.2 353.1h0M44.5 383.0h0M48.9 369.8h0M82.5 373.8h0M36.9 373.5h0M28.2 379.9h0M38.3 360.7h0M16.8 367.1h0M77.2 339.1h0M33.5 371.3h0M55.9 367.4h0M81.0 356.1h0M25.0 375.0h0M19.1 365.9h0M72.0 361.3h0M59.0 369.7h0M45.8 376.3h0M61.0 369.2h0M26.5 369.7h0M52.5 371.9h0" stroke="#2a1ef0" stroke-width="1.56" stroke-linecap="round" opacity="1" fill="none" filter="url(#s)"/>
<rect x="87.10" y="335.70" width="71.60" height="48.30" fill="#050100"/>
<path d="M124.4 349.3h0M144.0 381.1h0M113.5 365.6h0M108.2 361.2h0M122.4 347.4h0M127.0 352.1h0M151.2 369.4h0M99.6 362.6h0M136.6 365.0h0M100.5 351.0h0M104.6 367.2h0M134.8 345.4h0M94.8 345.3h0M137.0 371.9h0M102.0 367.9h0M96.2 357.3h0M125.7 343.6h0M92.0 373.8h0M151.5 373.4h0M133.4 347.6h0M107.8 356.1h0M109.8 361.6h0M89.2 370.2h0M88.1 380.1h0M117.9 345.8h0M120.1 344.6h0M113.9 348.1h0M134.0 380.8h0M133.4 368.3h0M93.2 380.5h0M103.1 363.1h0M117.6 347.6h0M115.5 364.6h0M134.1 368.4h0M111.3 346.1h0M92.9 380.2h0M149.1 378.3h0M129.4 343.2h0M133.9 350.4h0M100.0 355.5h0M102.0 362.1h0M112.8 366.7h0M109.8 360.7h0M106.6 366.5h0M154.4 382.3h0M127.1 364.5h0M101.0 362.0h0M110.6 348.5h0M97.9 378.6h0M105.8 364.3h0M107.3 366.2h0M97.4 346.0h0M96.8 360.5h0M154.0 363.2h0M139.3 383.0h0M135.5 345.9h0M129.6 347.2h0M117.5 340.5h0M105.8 361.4h0M91.1 342.3h0M96.1 345.9h0M114.1 341.6h0M107.8 356.3h0M130.1 355.0h0M149.2 342.5h0M123.9 337.6h0M98.5 360.1h0M146.5 359.5h0M129.4 343.5h0M136.7 365.4h0M103.4 354.3h0M124.4 337.0h0M151.1 374.7h0M91.3 383.0h0M137.2 369.9h0M94.6 359.3h0M123.8 342.5h0M107.8 364.4h0M100.8 357.3h0M103.2 354.2h0M88.1 381.2h0M124.4 362.6h0M151.3 348.7h0M152.5 342.7h0M128.9 365.5h0M95.5 377.6h0M111.6 356.1h0M102.4 357.7h0M89.8 383.0h0M120.9 346.7h0M104.6 362.4h0M99.5 355.2h0M92.9 364.4h0M125.4 347.8h0M88.5 340.1h0M102.5 381.3h0M114.3 352.2h0M144.6 374.4h0M91.4 342.0h0M116.7 353.9h0M114.7 350.7h0M123.9 340.1h0M139.1 370.7h0M102.7 364.6h0M89.5 351.0h0M105.5 359.9h0M142.5 372.7h0M107.1 367.2h0M101.6 353.4h0M106.3 368.0h0M97.8 365.9h0M100.5 358.0h0M125.1 347.9h0M146.1 356.0h0M141.3 360.1h0M123.7 349.8h0M155.4 374.7h0M124.2 349.5h0M121.5 346.9h0M154.2 369.5h0M98.5 352.9h0M129.1 358.7h0M148.6 368.7h0M107.3 364.4h0M88.2 382.2h0M127.8 355.6h0M119.6 342.5h0M88.1 380.0h0M132.8 380.0h0M103.2 367.9h0M146.7 342.8h0M100.4 349.6h0M89.9 347.5h0M155.4 357.1h0M115.6 348.1h0M102.4 355.6h0M133.8 374.8h0M130.2 365.2h0M132.4 381.7h0M133.4 365.5h0M126.7 343.1h0M150.8 377.5h0M127.1 344.8h0M140.1 371.1h0M111.5 359.7h0M91.1 351.1h0M123.1 369.0h0M95.3 382.2h0M110.7 349.3h0M124.9 343.1h0M131.1 351.5h0M113.3 367.7h0M126.8 348.7h0M131.6 362.2h0M115.1 346.6h0M88.4 376.7h0M147.1 344.2h0M100.0 360.2h0M88.4 348.1h0M92.9 350.8h0M109.3 351.6h0M124.7 348.2h0M119.6 378.9h0M94.4 336.7h0M128.4 354.2h0M147.2 370.1h0M107.6 364.6h0M97.3 371.5h0M103.4 372.6h0M137.7 365.2h0" stroke="#c8220e" stroke-width="1.70" stroke-linecap="round" opacity="0.72" fill="none" filter="url(#s)"/>
<rect x="159.80" y="335.70" width="71.50" height="48.30" fill="#04031a"/>
<path d="M209.5 348.6h0M188.8 356.9h0M220.6 352.1h0M190.5 336.7h0M179.7 383.0h0M213.5 346.5h0M178.9 353.7h0M214.1 350.2h0M193.1 370.1h0M185.6 363.1h0M170.2 358.6h0M176.0 383.0h0M163.2 379.1h0M174.4 375.0h0M167.5 356.1h0M186.4 383.0h0M165.5 336.7h0M199.5 368.4h0M164.3 339.2h0M228.3 362.4h0M207.7 352.8h0M182.8 383.0h0M228.7 374.8h0M230.0 355.4h0M164.9 377.6h0M167.0 357.0h0M225.8 353.4h0M173.2 375.4h0M208.3 357.7h0M181.7 375.7h0M171.5 371.0h0M191.7 380.5h0M177.1 376.8h0M165.8 375.7h0M194.6 368.8h0M170.6 383.0h0M214.4 377.3h0M173.5 360.4h0M224.5 373.7h0M230.0 383.0h0M188.6 371.6h0M179.7 375.4h0M211.5 358.6h0M211.6 347.3h0M172.4 359.2h0M163.9 347.5h0M171.6 374.4h0M191.1 374.9h0M188.3 355.3h0M189.2 336.7h0M177.6 383.0h0M227.8 359.0h0M224.4 348.5h0M216.3 376.7h0M160.8 343.3h0M169.1 352.2h0M205.4 364.5h0M160.8 368.6h0M170.1 374.7h0M166.7 347.3h0M184.1 378.0h0M166.8 342.4h0M217.6 375.4h0M160.8 355.6h0M167.7 344.5h0M228.6 357.3h0M194.6 378.6h0M214.5 347.4h0M179.6 383.0h0M168.7 359.9h0M173.5 382.2h0M164.3 338.1h0M162.7 344.4h0M176.7 383.0h0M170.9 383.0h0M226.1 353.8h0M210.6 357.5h0M230.0 358.2h0M202.0 367.8h0M168.8 346.5h0M203.1 367.6h0M190.1 338.0h0M224.6 369.8h0M176.5 375.7h0M175.2 383.0h0M219.1 351.0h0M222.5 353.1h0M230.0 355.4h0M195.0 378.4h0M162.1 356.8h0M169.8 361.8h0M160.8 354.4h0M176.6 383.0h0M230.0 357.4h0M164.2 336.7h0M227.0 359.3h0M173.8 345.2h0M189.1 354.5h0M167.6 361.9h0M186.5 356.0h0M160.8 372.8h0M194.3 379.0h0M192.7 377.9h0M210.5 354.3h0M170.6 362.0h0M226.5 383.0h0M206.8 357.2h0M196.2 380.4h0M168.6 336.7h0M160.8 348.5h0M227.8 358.1h0M230.0 366.4h0M172.3 361.6h0M185.9 380.2h0M169.0 365.6h0M191.9 380.9h0M191.5 370.9h0M226.0 352.4h0M216.3 350.9h0M169.5 340.1h0M189.7 375.4h0M169.9 351.1h0M167.8 351.7h0M187.7 380.5h0M184.4 383.0h0M161.9 336.7h0M226.2 374.6h0M222.8 373.2h0M208.3 368.3h0M225.2 354.5h0M185.5 336.7h0M225.2 355.7h0M184.5 372.3h0M228.8 368.8h0M220.0 373.5h0M180.7 372.9h0M230.0 371.1h0M191.9 369.8h0M176.2 383.0h0M163.8 365.1h0M169.2 374.1h0M217.5 380.7h0M169.5 383.0h0M230.0 377.7h0M173.5 373.9h0M180.4 373.1h0M218.9 368.2h0M183.3 364.6h0M187.4 336.7h0M228.5 373.8h0M179.5 383.0h0M208.3 345.0h0M177.5 378.0h0M219.7 376.0h0M162.8 336.7h0M173.3 370.2h0M230.0 366.8h0M173.7 372.6h0M203.3 372.9h0M185.4 340.2h0M230.0 353.1h0M189.3 383.0h0M193.7 369.8h0M227.3 373.8h0M181.7 373.5h0M173.0 379.9h0M183.1 360.7h0M161.6 367.1h0M222.0 339.1h0M178.3 371.3h0M200.7 367.4h0M225.8 356.1h0M169.8 375.0h0M163.9 365.9h0M216.8 361.3h0M203.8 369.7h0M190.6 376.3h0M205.8 369.2h0M171.3 369.7h0M197.3 371.9h0" stroke="#3a22ee" stroke-width="1.56" stroke-linecap="round" opacity="1" fill="none" filter="url(#s)"/>
<path d="M209.5 348.6h0M188.8 356.9h0M220.6 352.1h0M190.5 336.7h0M179.7 383.0h0M213.5 346.5h0M178.9 353.7h0M214.1 350.2h0M193.1 370.1h0M185.6 363.1h0M170.2 358.6h0M176.0 383.0h0M163.2 379.1h0M174.4 375.0h0M167.5 356.1h0M186.4 383.0h0M165.5 336.7h0M199.5 368.4h0M164.3 339.2h0M228.3 362.4h0M207.7 352.8h0M182.8 383.0h0M228.7 374.8h0M230.0 355.4h0M164.9 377.6h0M167.0 357.0h0M225.8 353.4h0M173.2 375.4h0M208.3 357.7h0M181.7 375.7h0M171.5 371.0h0M191.7 380.5h0M177.1 376.8h0M165.8 375.7h0M194.6 368.8h0M170.6 383.0h0M214.4 377.3h0M173.5 360.4h0M224.5 373.7h0M230.0 383.0h0M188.6 371.6h0M179.7 375.4h0M211.5 358.6h0M211.6 347.3h0M172.4 359.2h0M163.9 347.5h0M171.6 374.4h0M191.1 374.9h0M188.3 355.3h0M189.2 336.7h0M177.6 383.0h0M227.8 359.0h0M224.4 348.5h0M216.3 376.7h0M160.8 343.3h0M169.1 352.2h0M205.4 364.5h0M160.8 368.6h0M170.1 374.7h0M166.7 347.3h0M184.1 378.0h0M166.8 342.4h0M217.6 375.4h0M160.8 355.6h0M167.7 344.5h0M228.6 357.3h0M194.6 378.6h0M214.5 347.4h0M179.6 383.0h0M168.7 359.9h0M173.5 382.2h0M164.3 338.1h0M162.7 344.4h0M176.7 383.0h0M170.9 383.0h0M226.1 353.8h0M210.6 357.5h0M230.0 358.2h0M202.0 367.8h0M168.8 346.5h0M203.1 367.6h0M190.1 338.0h0M224.6 369.8h0M176.5 375.7h0M175.2 383.0h0M219.1 351.0h0M222.5 353.1h0M230.0 355.4h0M195.0 378.4h0M162.1 356.8h0M169.8 361.8h0M160.8 354.4h0M176.6 383.0h0M230.0 357.4h0M164.2 336.7h0M227.0 359.3h0M173.8 345.2h0M189.1 354.5h0M167.6 361.9h0M186.5 356.0h0M160.8 372.8h0M194.3 379.0h0M192.7 377.9h0M210.5 354.3h0M170.6 362.0h0M226.5 383.0h0M206.8 357.2h0M196.2 380.4h0M168.6 336.7h0M160.8 348.5h0M227.8 358.1h0M230.0 366.4h0M172.3 361.6h0M185.9 380.2h0M169.0 365.6h0M191.9 380.9h0M191.5 370.9h0M226.0 352.4h0M216.3 350.9h0M169.5 340.1h0" stroke="#b02cd0" stroke-width="1.60" stroke-linecap="round" opacity="0.85" fill="none" filter="url(#s)"/>
<rect x="9.10" y="385.30" width="4.90" height="48.00" fill="#5ec2d8"/>
<rect x="15.00" y="385.30" width="71.20" height="48.00" fill="#03021a"/>
<path d="M50.1 394.3h0M77.4 386.5h0M16.9 402.2h0M40.6 393.1h0M39.9 414.4h0M46.7 393.7h0M16.5 418.1h0M81.8 415.5h0M27.8 414.6h0M17.7 430.8h0M47.9 415.1h0M20.4 394.0h0M56.5 389.3h0M65.5 391.8h0M40.4 413.0h0M19.2 408.7h0M83.8 410.7h0M61.9 392.5h0M27.8 389.9h0M30.4 417.7h0M85.2 432.3h0M79.3 423.2h0M42.6 417.2h0M47.5 424.0h0M28.7 427.7h0M62.1 391.7h0M55.6 407.9h0M81.1 425.2h0M38.7 392.4h0M16.0 432.3h0M46.1 389.1h0M33.3 425.2h0M25.4 428.8h0M25.0 389.6h0M60.2 386.4h0M80.7 387.3h0M24.2 421.4h0M84.2 430.4h0M31.5 419.1h0M63.3 397.6h0M78.6 416.0h0M51.1 408.1h0M74.1 413.8h0M21.7 401.4h0M31.3 427.8h0M23.3 417.4h0M34.5 388.0h0M61.6 395.7h0M26.9 431.4h0M65.1 394.7h0M85.2 386.3h0M37.9 427.0h0M23.8 432.3h0M25.8 409.3h0M21.9 412.3h0M39.8 386.3h0M77.2 414.6h0M79.9 409.3h0M45.7 412.7h0M48.2 386.4h0M36.1 419.0h0M60.4 386.3h0M16.6 390.8h0M59.4 429.8h0M27.4 425.8h0M19.3 415.3h0M17.7 432.3h0M52.0 427.8h0M16.0 417.6h0M66.6 389.5h0M32.2 386.3h0M51.8 402.9h0M66.3 390.5h0M16.0 432.3h0M85.2 432.3h0M52.4 388.2h0M37.9 431.6h0M34.0 395.2h0M61.4 394.0h0M41.7 406.3h0M33.5 419.9h0M24.1 407.2h0M42.3 392.3h0M58.2 391.0h0M19.5 416.2h0M64.7 386.6h0M41.8 411.8h0M33.5 418.2h0M40.4 418.1h0M53.0 393.4h0M51.7 392.9h0M51.9 396.2h0M56.3 430.9h0M39.4 393.9h0M24.4 422.9h0M53.8 411.2h0M17.8 417.6h0M30.5 398.5h0M85.2 386.3h0M59.5 422.9h0M54.4 396.3h0M36.7 392.7h0M32.6 421.5h0M16.0 432.3h0M25.1 430.9h0M34.7 421.1h0M64.3 398.1h0M26.0 409.8h0M24.4 388.1h0M29.6 421.2h0M54.1 425.2h0M83.5 418.7h0M27.0 423.3h0M19.7 430.2h0M20.5 398.5h0M50.0 389.5h0M47.5 387.0h0M31.5 386.5h0M22.7 408.7h0M18.2 412.4h0M26.9 392.6h0M44.5 412.8h0M79.3 422.0h0M85.2 419.4h0M61.6 423.4h0M31.4 411.3h0M28.0 422.9h0M19.0 419.3h0M47.0 411.6h0M21.3 410.8h0M18.4 430.9h0M46.6 425.5h0M49.3 388.5h0M31.2 391.9h0M34.1 426.6h0M23.2 406.6h0M43.8 416.8h0M44.1 390.9h0M74.3 387.2h0M54.3 397.7h0M21.1 398.0h0M55.6 406.8h0M51.0 402.7h0M37.4 391.9h0M33.7 388.7h0M41.7 417.5h0M35.7 389.3h0M35.8 386.3h0M16.1 401.1h0M40.5 401.5h0M19.1 409.8h0M45.6 393.9h0M83.0 421.9h0M80.0 413.7h0M83.5 432.3h0M16.1 414.9h0M16.0 429.5h0M18.9 427.7h0M65.7 393.1h0M61.0 388.1h0" stroke="#2a1ef0" stroke-width="1.56" stroke-linecap="round" opacity="1" fill="none" filter="url(#s)"/>
<rect x="87.10" y="385.30" width="71.60" height="48.00" fill="#050100"/>
<path d="M149.0 392.3h0M139.0 386.3h0M95.9 389.1h0M148.7 412.9h0M112.7 420.5h0M93.8 426.6h0M151.3 410.1h0M156.8 387.3h0M127.6 430.2h0M94.1 427.5h0M98.1 422.4h0M111.8 413.9h0M106.9 396.5h0M105.5 427.8h0M109.2 425.5h0M88.1 414.3h0M138.5 386.3h0M94.4 430.2h0M116.7 392.9h0M142.8 417.2h0M105.0 386.8h0M157.4 391.5h0M155.8 386.3h0M109.1 427.8h0M157.7 416.8h0M141.8 393.0h0M96.7 400.8h0M141.5 387.5h0M144.5 391.2h0M143.8 415.7h0M108.9 405.9h0M92.5 398.4h0M108.4 406.5h0M103.2 428.4h0M144.5 389.2h0M104.3 406.1h0M92.5 421.7h0M146.9 386.8h0M152.4 417.3h0M132.3 397.6h0M100.9 389.2h0M111.1 417.7h0M147.3 407.0h0M88.1 419.1h0M118.4 419.9h0M157.3 398.2h0M92.4 428.1h0M157.7 409.6h0M89.6 414.8h0M112.8 405.7h0M109.0 424.0h0M110.3 417.7h0M96.3 401.5h0M157.7 386.3h0M111.4 416.7h0M88.5 425.6h0M111.1 415.9h0M135.3 403.4h0M89.6 416.9h0M88.1 414.1h0M157.7 419.8h0M130.9 405.1h0M112.8 404.2h0M127.1 405.1h0M155.8 386.8h0M157.7 393.6h0M102.7 399.4h0M157.7 413.6h0M104.8 424.4h0M147.8 406.2h0M95.6 413.2h0M147.3 409.3h0M146.7 410.5h0M123.1 400.0h0M133.7 414.3h0M94.2 429.6h0M157.7 387.1h0M102.4 404.2h0M157.7 401.0h0M100.1 386.3h0M124.3 402.2h0M143.3 391.9h0M102.0 400.6h0M142.2 386.3h0M105.0 403.9h0M127.0 398.0h0M139.1 390.1h0M102.5 386.3h0M150.0 391.6h0M95.6 389.7h0M97.6 403.9h0M94.1 391.7h0M88.1 419.6h0M139.3 392.1h0M126.0 419.3h0M154.0 393.8h0M129.2 410.8h0M91.8 391.4h0M97.2 430.8h0M129.6 394.8h0M146.6 393.7h0M103.3 392.7h0M100.6 390.2h0M116.0 422.3h0M125.7 394.5h0M109.3 411.9h0M123.7 421.6h0M123.7 392.6h0M104.4 402.8h0M107.3 418.8h0M113.0 402.2h0M95.2 394.3h0M144.4 394.1h0M91.7 391.4h0M157.7 391.0h0M94.1 415.6h0M99.8 432.3h0M88.5 416.6h0M113.0 416.7h0M142.1 393.8h0M149.9 395.7h0M150.4 397.1h0M125.2 411.7h0M157.6 404.5h0M146.1 414.4h0M119.5 404.5h0M112.5 420.1h0M148.0 391.8h0M142.9 402.0h0M92.1 396.6h0M148.3 416.1h0M130.6 409.8h0M104.4 425.2h0M88.8 424.6h0M136.9 402.1h0M100.0 401.7h0M122.9 393.4h0M113.2 410.0h0M157.7 395.4h0M132.0 388.5h0" stroke="#c8220e" stroke-width="1.70" stroke-linecap="round" opacity="0.62" fill="none" filter="url(#s)"/>
<rect x="159.80" y="385.30" width="71.50" height="48.00" fill="#04031a"/>
<path d="M194.9 394.3h0M222.2 386.5h0M161.7 402.2h0M185.4 393.1h0M184.7 414.4h0M191.5 393.7h0M161.3 418.1h0M226.6 415.5h0M172.6 414.6h0M162.5 430.8h0M192.7 415.1h0M165.2 394.0h0M201.3 389.3h0M210.3 391.8h0M185.2 413.0h0M164.0 408.7h0M228.6 410.7h0M206.7 392.5h0M172.6 389.9h0M175.2 417.7h0M230.0 432.3h0M224.1 423.2h0M187.4 417.2h0M192.3 424.0h0M173.5 427.7h0M206.9 391.7h0M200.4 407.9h0M225.9 425.2h0M183.5 392.4h0M160.8 432.3h0M190.9 389.1h0M178.1 425.2h0M170.2 428.8h0M169.8 389.6h0M205.0 386.4h0M225.5 387.3h0M169.0 421.4h0M229.0 430.4h0M176.3 419.1h0M208.1 397.6h0M223.4 416.0h0M195.9 408.1h0M218.9 413.8h0M166.5 401.4h0M176.1 427.8h0M168.1 417.4h0M179.3 388.0h0M206.4 395.7h0M171.7 431.4h0M209.9 394.7h0M230.0 386.3h0M182.7 427.0h0M168.6 432.3h0M170.6 409.3h0M166.7 412.3h0M184.6 386.3h0M222.0 414.6h0M224.7 409.3h0M190.5 412.7h0M193.0 386.4h0M180.9 419.0h0M205.2 386.3h0M161.4 390.8h0M204.2 429.8h0M172.2 425.8h0M164.1 415.3h0M162.5 432.3h0M196.8 427.8h0M160.8 417.6h0M211.4 389.5h0M177.0 386.3h0M196.6 402.9h0M211.1 390.5h0M160.8 432.3h0M230.0 432.3h0M197.2 388.2h0M182.7 431.6h0M178.8 395.2h0M206.2 394.0h0M186.5 406.3h0M178.3 419.9h0M168.9 407.2h0M187.1 392.3h0M203.0 391.0h0M164.3 416.2h0M209.5 386.6h0M186.6 411.8h0M178.3 418.2h0M185.2 418.1h0M197.8 393.4h0M196.5 392.9h0M196.7 396.2h0M201.1 430.9h0M184.2 393.9h0M169.2 422.9h0M198.6 411.2h0M162.6 417.6h0M175.3 398.5h0M230.0 386.3h0M204.3 422.9h0M199.2 396.3h0M181.5 392.7h0M177.4 421.5h0M160.8 432.3h0M169.9 430.9h0M179.5 421.1h0M209.1 398.1h0M170.8 409.8h0M169.2 388.1h0M174.4 421.2h0M198.9 425.2h0M228.3 418.7h0M171.8 423.3h0M164.5 430.2h0M165.3 398.5h0M194.8 389.5h0M192.3 387.0h0M176.3 386.5h0M167.5 408.7h0M163.0 412.4h0M171.7 392.6h0M189.3 412.8h0M224.1 422.0h0M230.0 419.4h0M206.4 423.4h0M176.2 411.3h0M172.8 422.9h0M163.8 419.3h0M191.8 411.6h0M166.1 410.8h0M163.2 430.9h0M191.4 425.5h0M194.1 388.5h0M176.0 391.9h0M178.9 426.6h0M168.0 406.6h0M188.6 416.8h0M188.9 390.9h0M219.1 387.2h0M199.1 397.7h0M165.9 398.0h0M200.4 406.8h0M195.8 402.7h0M182.2 391.9h0M178.5 388.7h0M186.5 417.5h0M180.5 389.3h0M180.6 386.3h0M160.9 401.1h0M185.3 401.5h0M163.9 409.8h0M190.4 393.9h0M227.8 421.9h0M224.8 413.7h0M228.3 432.3h0M160.9 414.9h0M160.8 429.5h0M163.7 427.7h0M210.5 393.1h0M205.8 388.1h0" stroke="#3a22ee" stroke-width="1.56" stroke-linecap="round" opacity="1" fill="none" filter="url(#s)"/>
<path d="M194.9 394.3h0M222.2 386.5h0M161.7 402.2h0M185.4 393.1h0M184.7 414.4h0M191.5 393.7h0M161.3 418.1h0M226.6 415.5h0M172.6 414.6h0M162.5 430.8h0M192.7 415.1h0M165.2 394.0h0M201.3 389.3h0M210.3 391.8h0M185.2 413.0h0M164.0 408.7h0M228.6 410.7h0M206.7 392.5h0M172.6 389.9h0M175.2 417.7h0M230.0 432.3h0M224.1 423.2h0M187.4 417.2h0M192.3 424.0h0M173.5 427.7h0M206.9 391.7h0M200.4 407.9h0M225.9 425.2h0M183.5 392.4h0M160.8 432.3h0M190.9 389.1h0M178.1 425.2h0M170.2 428.8h0M169.8 389.6h0M205.0 386.4h0M225.5 387.3h0M169.0 421.4h0M229.0 430.4h0M176.3 419.1h0M208.1 397.6h0M223.4 416.0h0M195.9 408.1h0M218.9 413.8h0M166.5 401.4h0M176.1 427.8h0M168.1 417.4h0M179.3 388.0h0M206.4 395.7h0M171.7 431.4h0M209.9 394.7h0M230.0 386.3h0M182.7 427.0h0M168.6 432.3h0M170.6 409.3h0M166.7 412.3h0M184.6 386.3h0M222.0 414.6h0M224.7 409.3h0M190.5 412.7h0M193.0 386.4h0M180.9 419.0h0M205.2 386.3h0M161.4 390.8h0M204.2 429.8h0M172.2 425.8h0M164.1 415.3h0M162.5 432.3h0M196.8 427.8h0M160.8 417.6h0M211.4 389.5h0M177.0 386.3h0M196.6 402.9h0M211.1 390.5h0M160.8 432.3h0M230.0 432.3h0M197.2 388.2h0M182.7 431.6h0M178.8 395.2h0M206.2 394.0h0M186.5 406.3h0M178.3 419.9h0M168.9 407.2h0M187.1 392.3h0M203.0 391.0h0M164.3 416.2h0M209.5 386.6h0M186.6 411.8h0M178.3 418.2h0M185.2 418.1h0M197.8 393.4h0M196.5 392.9h0M196.7 396.2h0M201.1 430.9h0M184.2 393.9h0M169.2 422.9h0M198.6 411.2h0M162.6 417.6h0M175.3 398.5h0M230.0 386.3h0M204.3 422.9h0" stroke="#b02cd0" stroke-width="1.60" stroke-linecap="round" opacity="0.85" fill="none" filter="url(#s)"/>
<rect x="9.10" y="435.00" width="4.90" height="48.00" fill="#bfdfba"/>
<rect x="15.00" y="435.00" width="71.20" height="48.00" fill="#03021a"/>
<path d="M82.3 467.8h0M80.4 474.3h0M62.4 455.1h0M71.2 477.6h0M80.7 466.2h0M73.1 465.7h0M28.2 451.0h0M76.2 465.2h0M24.1 448.6h0M76.2 467.5h0M22.8 440.6h0M81.7 454.1h0M63.7 479.8h0M83.0 437.6h0M45.9 472.2h0M31.0 460.6h0M68.7 469.3h0M52.8 479.5h0M61.3 447.8h0M20.3 437.2h0M72.3 469.1h0M51.3 474.3h0M50.0 447.4h0M50.6 476.3h0M37.6 464.8h0M47.5 467.8h0M63.8 466.0h0M80.5 465.8h0M20.2 451.6h0M50.9 449.7h0M18.7 437.7h0M54.9 478.7h0M77.2 482.0h0M28.7 465.5h0M32.7 460.6h0M46.6 480.8h0M54.6 478.1h0M55.4 458.4h0M83.7 445.5h0M81.5 471.9h0M23.6 455.9h0M54.7 473.0h0M43.2 467.3h0M47.2 474.8h0M43.2 471.5h0M66.9 459.0h0M52.1 480.5h0M77.1 450.1h0M39.4 468.5h0M52.7 450.8h0M75.7 468.1h0M42.3 473.2h0M41.2 475.3h0M29.7 449.2h0M68.4 477.2h0M79.1 441.5h0M35.5 465.2h0M47.8 475.4h0M26.3 457.6h0M56.3 456.3h0M45.3 473.9h0M79.8 464.6h0M74.8 467.2h0M18.1 436.0h0M72.9 474.1h0M47.5 478.4h0M29.5 466.0h0M26.9 451.7h0M29.5 461.7h0M54.2 476.0h0M64.3 478.3h0M77.2 468.1h0M52.2 438.9h0M75.6 475.9h0M54.9 440.4h0M79.4 465.2h0M78.0 440.3h0M30.5 453.1h0M29.3 449.5h0M78.9 473.3h0M55.3 475.8h0M64.1 447.0h0M53.2 457.4h0M49.2 473.7h0M42.2 470.4h0M68.4 473.0h0M52.5 472.5h0M20.2 473.6h0M79.8 482.0h0M85.2 439.9h0M78.2 476.8h0M63.5 441.1h0M31.6 449.8h0M19.6 451.0h0M71.4 464.8h0M49.0 477.2h0M75.8 482.0h0M54.6 457.0h0M68.8 467.3h0M41.7 478.4h0M71.1 479.4h0M32.6 482.0h0M45.7 467.5h0M83.5 436.0h0M69.9 480.9h0M45.6 474.6h0M81.5 456.0h0M19.8 442.2h0M71.9 436.2h0M38.9 472.0h0M16.5 436.0h0M36.2 451.1h0M65.2 476.5h0M65.6 477.7h0M73.9 482.0h0M26.4 451.1h0M23.6 453.1h0M23.3 455.2h0M16.0 436.0h0M48.1 468.3h0M65.8 477.5h0M16.0 436.0h0M43.0 474.7h0M52.7 466.8h0M83.1 456.2h0M85.2 455.7h0M65.7 465.3h0M28.8 449.3h0M54.0 474.5h0M44.3 477.4h0M67.6 480.6h0M82.0 470.7h0M29.5 475.3h0M47.8 450.3h0M33.8 450.8h0M42.5 476.9h0M59.9 458.5h0M50.0 477.5h0M68.3 473.3h0M76.3 461.4h0M25.6 450.1h0M57.2 445.1h0M70.4 463.8h0M49.5 454.6h0M59.9 453.2h0M28.7 451.9h0M63.7 457.1h0M32.9 458.2h0M18.7 439.9h0M83.1 455.2h0M29.7 450.3h0M47.0 458.2h0M16.0 447.1h0M57.2 472.8h0M69.9 473.7h0M63.6 460.6h0M77.5 436.1h0M73.4 469.0h0M68.2 469.0h0M56.6 474.9h0M52.5 443.5h0M43.3 464.7h0M32.0 448.6h0M78.4 480.6h0M48.5 451.5h0M72.9 464.4h0M18.3 441.4h0M30.1 464.5h0M55.2 443.0h0M82.2 436.0h0" stroke="#2a1ef0" stroke-width="1.56" stroke-linecap="round" opacity="1" fill="none" filter="url(#s)"/>
<rect x="87.10" y="435.00" width="71.60" height="48.00" fill="#050100"/>
<path d="M157.7 465.9h0M126.9 440.6h0M139.0 471.8h0M94.2 469.3h0M156.0 448.7h0M119.0 440.2h0M153.0 478.2h0M141.1 445.6h0M114.4 470.9h0M93.7 462.8h0M140.4 482.0h0M139.6 476.0h0M145.7 480.0h0M141.6 446.2h0M146.6 444.6h0M142.7 481.3h0M145.9 482.0h0M89.1 455.5h0M88.7 482.0h0M143.3 448.2h0M146.8 479.8h0M143.8 447.3h0M95.0 456.7h0M117.4 471.3h0M117.6 466.7h0M99.5 439.4h0M150.7 479.8h0M117.5 453.1h0M153.8 438.6h0M145.7 442.9h0M91.7 460.0h0M132.4 453.7h0M95.2 444.8h0M92.2 456.2h0M124.3 470.3h0M156.3 479.2h0M133.6 467.0h0M98.0 450.7h0M96.3 479.1h0M95.4 459.3h0M91.4 462.2h0M154.8 462.7h0M114.9 466.6h0M144.5 448.2h0M125.5 467.6h0M151.6 447.9h0M89.9 459.1h0M131.5 436.0h0M123.5 474.5h0M114.6 467.6h0M141.1 442.2h0M151.8 482.0h0M153.9 448.6h0M119.0 458.3h0M96.5 464.5h0M111.6 465.1h0M96.9 459.8h0M125.4 436.0h0M118.6 465.5h0M154.8 443.7h0M113.8 459.8h0M148.7 452.2h0M103.0 466.1h0M116.5 468.1h0M99.1 473.7h0M135.8 473.9h0M127.8 474.8h0M141.0 470.1h0M119.3 440.1h0M145.1 475.7h0M121.5 455.5h0M146.4 482.0h0M151.1 448.8h0M88.1 461.0h0M98.4 461.0h0M124.4 481.5h0M122.2 440.9h0M104.3 444.7h0M149.3 479.0h0M130.5 468.0h0M117.5 446.3h0M88.1 443.5h0M113.8 476.5h0M97.0 438.4h0M90.1 444.2h0M93.2 452.0h0M148.2 479.1h0M97.9 460.9h0M94.3 455.9h0M152.0 447.4h0M142.1 473.1h0M98.1 467.5h0M140.6 469.7h0M92.0 455.8h0M92.7 476.7h0M113.9 471.5h0M92.6 455.8h0M148.7 477.1h0M88.8 461.4h0M99.4 436.0h0" stroke="#c8220e" stroke-width="1.70" stroke-linecap="round" opacity="0.55" fill="none" filter="url(#s)"/>
<rect x="159.80" y="435.00" width="71.50" height="48.00" fill="#04031a"/>
<path d="M227.1 467.8h0M225.2 474.3h0M207.2 455.1h0M216.0 477.6h0M225.5 466.2h0M217.9 465.7h0M173.0 451.0h0M221.0 465.2h0M168.9 448.6h0M221.0 467.5h0M167.6 440.6h0M226.5 454.1h0M208.5 479.8h0M227.8 437.6h0M190.7 472.2h0M175.8 460.6h0M213.5 469.3h0M197.6 479.5h0M206.1 447.8h0M165.1 437.2h0M217.1 469.1h0M196.1 474.3h0M194.8 447.4h0M195.4 476.3h0M182.4 464.8h0M192.3 467.8h0M208.6 466.0h0M225.3 465.8h0M165.0 451.6h0M195.7 449.7h0M163.5 437.7h0M199.7 478.7h0M222.0 482.0h0M173.5 465.5h0M177.5 460.6h0M191.4 480.8h0M199.4 478.1h0M200.2 458.4h0M228.5 445.5h0M226.3 471.9h0M168.4 455.9h0M199.5 473.0h0M188.0 467.3h0M192.0 474.8h0M188.0 471.5h0M211.7 459.0h0M196.9 480.5h0M221.9 450.1h0M184.2 468.5h0M197.5 450.8h0M220.5 468.1h0M187.1 473.2h0M186.0 475.3h0M174.5 449.2h0M213.2 477.2h0M223.9 441.5h0M180.3 465.2h0M192.6 475.4h0M171.1 457.6h0M201.1 456.3h0M190.1 473.9h0M224.6 464.6h0M219.6 467.2h0M162.9 436.0h0M217.7 474.1h0M192.3 478.4h0M174.3 466.0h0M171.7 451.7h0M174.3 461.7h0M199.0 476.0h0M209.1 478.3h0M222.0 468.1h0M197.0 438.9h0M220.4 475.9h0M199.7 440.4h0M224.2 465.2h0M222.8 440.3h0M175.3 453.1h0M174.1 449.5h0M223.7 473.3h0M200.1 475.8h0M208.9 447.0h0M198.0 457.4h0M194.0 473.7h0M187.0 470.4h0M213.2 473.0h0M197.3 472.5h0M165.0 473.6h0M224.6 482.0h0M230.0 439.9h0M223.0 476.8h0M208.3 441.1h0M176.4 449.8h0M164.4 451.0h0M216.2 464.8h0M193.8 477.2h0M220.6 482.0h0M199.4 457.0h0M213.6 467.3h0M186.5 478.4h0M215.9 479.4h0M177.4 482.0h0M190.5 467.5h0M228.3 436.0h0M214.7 480.9h0M190.4 474.6h0M226.3 456.0h0M164.6 442.2h0M216.7 436.2h0M183.7 472.0h0M161.3 436.0h0M181.0 451.1h0M210.0 476.5h0M210.4 477.7h0M218.7 482.0h0M171.2 451.1h0M168.4 453.1h0M168.1 455.2h0M160.8 436.0h0M192.9 468.3h0M210.6 477.5h0M160.8 436.0h0M187.8 474.7h0M197.5 466.8h0M227.9 456.2h0M230.0 455.7h0M210.5 465.3h0M173.6 449.3h0M198.8 474.5h0M189.1 477.4h0M212.4 480.6h0M226.8 470.7h0M174.3 475.3h0M192.6 450.3h0M178.6 450.8h0M187.3 476.9h0M204.7 458.5h0M194.8 477.5h0M213.1 473.3h0M221.1 461.4h0M170.4 450.1h0M202.0 445.1h0M215.2 463.8h0M194.3 454.6h0M204.7 453.2h0M173.5 451.9h0M208.5 457.1h0M177.7 458.2h0M163.5 439.9h0M227.9 455.2h0M174.5 450.3h0M191.8 458.2h0M160.8 447.1h0M202.0 472.8h0M214.7 473.7h0M208.4 460.6h0M222.3 436.1h0M218.2 469.0h0M213.0 469.0h0M201.4 474.9h0M197.3 443.5h0M188.1 464.7h0M176.8 448.6h0M223.2 480.6h0M193.3 451.5h0M217.7 464.4h0M163.1 441.4h0M174.9 464.5h0M200.0 443.0h0M227.0 436.0h0" stroke="#3a22ee" stroke-width="1.56" stroke-linecap="round" opacity="1" fill="none" filter="url(#s)"/>
<path d="M227.1 467.8h0M225.2 474.3h0M207.2 455.1h0M216.0 477.6h0M225.5 466.2h0M217.9 465.7h0M173.0 451.0h0M221.0 465.2h0M168.9 448.6h0M221.0 467.5h0M167.6 440.6h0M226.5 454.1h0M208.5 479.8h0M227.8 437.6h0M190.7 472.2h0M175.8 460.6h0M213.5 469.3h0M197.6 479.5h0M206.1 447.8h0M165.1 437.2h0M217.1 469.1h0M196.1 474.3h0M194.8 447.4h0M195.4 476.3h0M182.4 464.8h0M192.3 467.8h0M208.6 466.0h0M225.3 465.8h0M165.0 451.6h0M195.7 449.7h0M163.5 437.7h0M199.7 478.7h0M222.0 482.0h0M173.5 465.5h0M177.5 460.6h0M191.4 480.8h0M199.4 478.1h0M200.2 458.4h0M228.5 445.5h0M226.3 471.9h0M168.4 455.9h0M199.5 473.0h0M188.0 467.3h0M192.0 474.8h0M188.0 471.5h0M211.7 459.0h0M196.9 480.5h0M221.9 450.1h0M184.2 468.5h0M197.5 450.8h0M220.5 468.1h0M187.1 473.2h0M186.0 475.3h0M174.5 449.2h0M213.2 477.2h0M223.9 441.5h0M180.3 465.2h0M192.6 475.4h0M171.1 457.6h0M201.1 456.3h0" stroke="#b02cd0" stroke-width="1.60" stroke-linecap="round" opacity="0.85" fill="none" filter="url(#s)"/>
<rect x="9.10" y="485.10" width="4.90" height="48.00" fill="#4f64b4"/>
<rect x="15.00" y="485.10" width="71.20" height="48.00" fill="#03021a"/>
<path d="M22.1 519.2h0M41.0 532.1h0M48.8 494.4h0M48.6 532.1h0M46.8 528.5h0M55.0 513.3h0M48.8 517.3h0M73.4 517.4h0M34.9 512.2h0M84.8 520.7h0M65.5 507.4h0M79.5 497.2h0M57.2 505.8h0M73.9 517.6h0M80.2 519.7h0M26.3 523.5h0M61.4 497.6h0M42.7 531.6h0M18.7 504.8h0M53.4 507.2h0M47.0 532.1h0M34.2 488.2h0M28.1 505.7h0M35.6 491.2h0M23.8 495.4h0M77.7 521.5h0M61.2 505.2h0M62.1 495.0h0M66.7 516.5h0M30.7 530.8h0M85.2 491.0h0M28.1 488.5h0M52.4 493.7h0M32.1 515.7h0M30.1 531.2h0M49.4 532.1h0M82.8 490.3h0M79.9 510.6h0M29.9 526.3h0M77.6 491.4h0M78.1 487.4h0M27.5 531.5h0M85.2 500.8h0M79.5 512.7h0M59.4 504.2h0M72.0 507.4h0M44.3 497.0h0M62.6 527.9h0M58.8 511.3h0M71.7 490.4h0M67.4 501.5h0M24.7 496.0h0M53.8 529.6h0M73.9 506.9h0M31.6 493.0h0M68.6 503.2h0M22.9 491.4h0M61.5 505.7h0M84.6 523.0h0M41.1 495.1h0M23.5 506.5h0M49.8 486.3h0M45.6 515.7h0M65.0 506.2h0M67.7 521.1h0M52.1 486.1h0M75.2 520.0h0M70.0 516.6h0M23.7 500.3h0M73.9 512.1h0M33.6 488.6h0M65.9 531.6h0M25.4 521.4h0M51.2 494.7h0M24.9 523.6h0M58.5 532.1h0M57.1 502.6h0M22.0 494.9h0M34.9 489.4h0M27.5 514.4h0M16.8 511.9h0M69.6 529.3h0M28.6 531.7h0M56.1 499.9h0M24.4 503.4h0M71.4 519.4h0M36.4 511.4h0M60.6 506.1h0M44.2 532.1h0M67.2 529.3h0M40.1 522.2h0M30.6 510.1h0M56.8 532.1h0M24.6 504.2h0M63.1 497.4h0M72.1 512.3h0M28.2 528.0h0M21.3 509.4h0M72.9 521.8h0M47.6 513.3h0M80.0 503.0h0M67.2 506.2h0M27.8 531.7h0M70.5 517.8h0M61.8 498.4h0M19.6 520.0h0M45.1 516.4h0M56.9 499.2h0M21.6 506.0h0M22.9 516.6h0M84.6 521.8h0M68.4 502.2h0M53.3 511.9h0M56.4 512.7h0M65.2 500.5h0M19.3 497.5h0M63.5 488.0h0M68.4 524.8h0M58.7 496.8h0M52.0 513.2h0" stroke="#2a1ef0" stroke-width="1.56" stroke-linecap="round" opacity="1" fill="none" filter="url(#s)"/>
<rect x="87.10" y="485.10" width="71.60" height="48.00" fill="#050100"/>
<path d="M125.9 532.1h0M130.1 524.3h0M157.7 510.5h0M115.8 532.1h0M152.2 510.6h0M138.1 520.6h0M145.6 491.5h0M125.4 497.4h0M123.4 493.5h0M118.2 526.1h0M107.3 493.5h0M105.9 508.7h0M134.6 504.6h0M157.7 486.8h0M153.9 498.7h0M110.7 529.2h0M100.4 526.0h0M144.2 493.6h0M150.3 532.1h0M147.1 502.9h0M139.4 487.4h0M120.4 502.8h0M142.8 517.1h0M126.8 516.4h0M134.5 486.1h0M149.4 509.2h0M116.8 497.9h0M150.7 532.1h0M150.0 517.8h0M124.2 522.9h0M117.4 495.8h0M120.8 529.0h0M124.8 491.5h0M120.0 506.0h0M88.1 517.4h0M146.1 517.4h0M93.4 501.1h0M92.2 503.3h0M138.0 487.8h0M127.3 532.1h0M157.7 510.3h0M157.7 492.3h0M104.8 499.0h0M149.4 508.7h0M129.7 492.1h0M147.9 499.8h0M134.3 486.1h0M113.1 509.3h0M122.0 496.1h0M107.0 494.3h0M147.0 514.5h0M126.3 502.8h0M128.7 494.5h0M123.1 495.3h0M115.4 497.9h0M138.7 520.7h0M111.5 517.1h0M157.7 515.9h0M121.3 523.9h0M144.9 497.3h0M146.0 529.8h0M123.6 494.5h0M151.8 490.4h0M121.8 516.7h0M119.1 504.9h0M124.5 508.3h0M144.4 511.4h0M132.8 516.6h0M117.4 532.1h0M140.1 524.0h0M149.8 496.1h0M152.2 513.5h0M156.0 493.1h0M149.9 525.7h0M146.2 490.1h0M134.1 493.9h0M154.3 495.7h0M123.7 493.6h0M123.0 498.1h0M149.3 496.7h0M119.1 499.6h0M113.8 531.3h0M114.7 501.6h0M113.6 525.7h0M157.5 503.9h0M155.3 518.4h0M148.5 497.4h0M152.1 494.7h0M116.7 493.9h0M131.3 529.0h0" stroke="#c8220e" stroke-width="1.70" stroke-linecap="round" opacity="0.55" fill="none" filter="url(#s)"/>
<rect x="159.80" y="485.10" width="71.50" height="48.00" fill="#04031a"/>
<path d="M166.9 519.2h0M185.8 532.1h0M193.6 494.4h0M193.4 532.1h0M191.6 528.5h0M199.8 513.3h0M193.6 517.3h0M218.2 517.4h0M179.7 512.2h0M229.6 520.7h0M210.3 507.4h0M224.3 497.2h0M202.0 505.8h0M218.7 517.6h0M225.0 519.7h0M171.1 523.5h0M206.2 497.6h0M187.5 531.6h0M163.5 504.8h0M198.2 507.2h0M191.8 532.1h0M179.0 488.2h0M172.9 505.7h0M180.4 491.2h0M168.6 495.4h0M222.5 521.5h0M206.0 505.2h0M206.9 495.0h0M211.5 516.5h0M175.5 530.8h0M230.0 491.0h0M172.9 488.5h0M197.2 493.7h0M176.9 515.7h0M174.9 531.2h0M194.2 532.1h0M227.6 490.3h0M224.7 510.6h0M174.7 526.3h0M222.4 491.4h0M222.9 487.4h0M172.3 531.5h0M230.0 500.8h0M224.3 512.7h0M204.2 504.2h0M216.8 507.4h0M189.1 497.0h0M207.4 527.9h0M203.6 511.3h0M216.5 490.4h0M212.2 501.5h0M169.5 496.0h0M198.6 529.6h0M218.7 506.9h0M176.4 493.0h0M213.4 503.2h0M167.7 491.4h0M206.3 505.7h0M229.4 523.0h0M185.9 495.1h0M168.3 506.5h0M194.6 486.3h0M190.4 515.7h0M209.8 506.2h0M212.5 521.1h0M196.9 486.1h0M220.0 520.0h0M214.8 516.6h0M168.5 500.3h0M218.7 512.1h0M178.4 488.6h0M210.7 531.6h0M170.2 521.4h0M196.0 494.7h0M169.7 523.6h0M203.3 532.1h0M201.9 502.6h0M166.8 494.9h0M179.7 489.4h0M172.3 514.4h0M161.6 511.9h0M214.4 529.3h0M173.4 531.7h0M200.9 499.9h0M169.2 503.4h0M216.2 519.4h0M181.2 511.4h0M205.4 506.1h0M189.0 532.1h0M212.0 529.3h0M184.9 522.2h0M175.4 510.1h0M201.6 532.1h0M169.4 504.2h0M207.9 497.4h0M216.9 512.3h0M173.0 528.0h0M166.1 509.4h0M217.7 521.8h0M192.4 513.3h0M224.8 503.0h0M212.0 506.2h0M172.6 531.7h0M215.3 517.8h0M206.6 498.4h0M164.4 520.0h0M189.9 516.4h0M201.7 499.2h0M166.4 506.0h0M167.7 516.6h0M229.4 521.8h0M213.2 502.2h0M198.1 511.9h0M201.2 512.7h0M210.0 500.5h0M164.1 497.5h0M208.3 488.0h0M213.2 524.8h0M203.5 496.8h0M196.8 513.2h0" stroke="#3a22ee" stroke-width="1.56" stroke-linecap="round" opacity="1" fill="none" filter="url(#s)"/>
<path d="M166.9 519.2h0M185.8 532.1h0M193.6 494.4h0M193.4 532.1h0M191.6 528.5h0M199.8 513.3h0M193.6 517.3h0M218.2 517.4h0M179.7 512.2h0M229.6 520.7h0M210.3 507.4h0M224.3 497.2h0M202.0 505.8h0M218.7 517.6h0M225.0 519.7h0M171.1 523.5h0M206.2 497.6h0M187.5 531.6h0M163.5 504.8h0M198.2 507.2h0M191.8 532.1h0M179.0 488.2h0M172.9 505.7h0M180.4 491.2h0M168.6 495.4h0M222.5 521.5h0M206.0 505.2h0M206.9 495.0h0M211.5 516.5h0M175.5 530.8h0M230.0 491.0h0M172.9 488.5h0M197.2 493.7h0M176.9 515.7h0M174.9 531.2h0M194.2 532.1h0M227.6 490.3h0M224.7 510.6h0M174.7 526.3h0M222.4 491.4h0M222.9 487.4h0M172.3 531.5h0M230.0 500.8h0M224.3 512.7h0M204.2 504.2h0M216.8 507.4h0M189.1 497.0h0M207.4 527.9h0M203.6 511.3h0M216.5 490.4h0" stroke="#b02cd0" stroke-width="1.60" stroke-linecap="round" opacity="0.85" fill="none" filter="url(#s)"/>
<line x1="214.00" y1="530.50" x2="229.90" y2="530.50" stroke="#f4f4f4" stroke-width="1.0"/>
<line x1="214.00" y1="528.00" x2="214.00" y2="532.30" stroke="#f4f4f4" stroke-width="0.9"/>
<line x1="229.90" y1="528.00" x2="229.90" y2="532.30" stroke="#f4f4f4" stroke-width="0.9"/>
<text x="221.9" y="527.0" font-size="4.3" fill="#e8e8e8" text-anchor="middle">400μm</text>
<text x="236.7" y="278.9" font-size="12.9" fill="#000" font-weight="bold" text-anchor="start">F</text>
<text x="289.6" y="283.7" font-size="10.35" fill="#2626e6" font-weight="bold" text-anchor="middle">DAPI</text>
<text x="361.7" y="283.7" font-size="10.35" fill="#3b9c45" font-weight="bold" text-anchor="middle">CD206</text>
<text x="434.5" y="283.7" font-size="10.35" fill="#000" font-weight="bold" text-anchor="middle">Merge</text>
<rect x="324.90" y="285.80" width="1.50" height="246.80" fill="#9a9a9a"/>
<rect x="397.50" y="285.80" width="1.50" height="246.80" fill="#9a9a9a"/>
<rect x="247.20" y="285.80" width="5.80" height="47.80" fill="#ff2314"/>
<rect x="253.70" y="285.80" width="71.20" height="47.80" fill="#03021a"/>
<path d="M285.7 286.8h0M287.6 305.9h0M305.4 332.6h0M296.4 316.2h0M279.5 292.4h0M309.5 316.4h0M269.7 306.1h0M304.8 304.7h0M293.1 329.2h0M265.8 300.1h0M265.1 302.5h0M287.1 311.3h0M275.1 314.4h0M311.9 311.5h0M292.3 300.7h0M260.5 286.8h0M271.6 311.5h0M310.5 307.1h0M298.5 306.8h0M272.6 289.4h0M299.1 286.8h0M306.2 324.0h0M307.8 313.1h0M265.5 314.6h0M289.0 306.9h0M254.7 326.2h0M297.4 287.3h0M295.6 316.7h0M305.5 323.6h0M259.0 325.4h0M284.9 310.9h0M297.8 318.0h0M266.7 300.4h0M305.8 331.1h0M300.8 309.3h0M262.0 323.5h0M317.1 313.2h0M284.6 324.6h0M289.3 332.6h0M309.7 305.5h0M294.3 286.8h0M318.2 312.4h0M317.3 315.6h0M319.2 309.8h0M289.3 296.8h0M259.2 320.4h0M264.0 297.4h0M308.1 330.5h0M264.6 295.9h0M260.0 328.2h0M304.0 321.6h0M267.0 315.2h0M286.8 303.0h0M302.9 299.1h0M292.3 311.8h0M290.9 307.1h0M265.8 296.0h0M302.0 308.6h0M317.7 294.2h0M275.3 296.6h0M271.7 295.9h0M274.7 307.4h0M279.4 305.0h0M284.0 304.4h0M312.3 305.0h0M299.7 311.9h0M273.2 293.1h0M275.2 290.8h0M319.0 296.7h0M294.3 292.5h0M323.9 299.2h0M313.3 300.0h0M288.7 329.7h0M323.3 299.4h0M322.5 308.5h0M294.9 298.1h0M298.9 324.3h0M289.1 298.6h0M258.5 292.6h0M261.8 300.2h0M272.4 301.9h0M306.6 315.4h0M320.0 297.4h0M272.2 292.2h0M316.5 327.0h0M304.2 302.6h0M323.4 299.9h0M295.4 313.4h0M288.7 293.5h0M264.5 300.7h0M260.3 310.6h0M304.6 300.6h0M270.9 332.6h0M254.7 325.0h0M264.4 329.5h0M299.3 331.3h0M290.2 308.2h0M279.3 299.6h0M287.7 328.8h0M305.8 314.8h0M298.7 320.1h0M312.3 307.4h0M290.7 324.5h0M263.9 289.5h0M272.7 300.2h0M254.7 307.4h0M295.5 301.5h0M289.6 286.8h0M318.8 306.9h0M272.2 288.3h0M265.2 331.9h0M311.0 296.3h0M279.9 302.8h0M298.6 325.3h0M282.4 288.7h0M270.1 324.5h0M254.7 292.1h0M305.5 288.7h0M270.8 327.9h0M275.8 299.9h0M266.3 332.6h0M292.8 292.3h0M267.9 326.6h0M286.3 300.6h0M288.1 310.8h0M270.1 296.3h0M297.4 302.2h0M316.1 320.2h0M319.0 298.8h0M297.2 286.8h0" stroke="#2a1ef0" stroke-width="1.56" stroke-linecap="round" opacity="1" fill="none" filter="url(#s)"/>
<rect x="326.40" y="285.80" width="71.10" height="47.80" fill="#000200"/>
<path d="M348.0 330.6h0M348.6 292.7h0M346.0 302.3h0M340.8 326.4h0M365.8 292.2h0M355.8 295.6h0M347.0 312.3h0M333.1 327.1h0M392.5 289.5h0M331.8 306.5h0" stroke="#1a5a1a" stroke-width="1.70" stroke-linecap="round" opacity="0.35" fill="none" filter="url(#s)"/>
<rect x="399.00" y="285.80" width="71.10" height="47.80" fill="#03021a"/>
<path d="M431.0 286.8h0M432.9 305.9h0M450.7 332.6h0M441.7 316.2h0M424.8 292.4h0M454.8 316.4h0M415.0 306.1h0M450.1 304.7h0M438.4 329.2h0M411.1 300.1h0M410.4 302.5h0M432.4 311.3h0M420.4 314.4h0M457.2 311.5h0M437.6 300.7h0M405.8 286.8h0M416.9 311.5h0M455.8 307.1h0M443.8 306.8h0M417.9 289.4h0M444.4 286.8h0M451.5 324.0h0M453.1 313.1h0M410.8 314.6h0M434.3 306.9h0M400.0 326.2h0M442.7 287.3h0M440.9 316.7h0M450.8 323.6h0M404.3 325.4h0M430.2 310.9h0M443.1 318.0h0M412.0 300.4h0M451.1 331.1h0M446.1 309.3h0M407.3 323.5h0M462.4 313.2h0M429.9 324.6h0M434.6 332.6h0M455.0 305.5h0M439.6 286.8h0M463.5 312.4h0M462.6 315.6h0M464.5 309.8h0M434.6 296.8h0M404.5 320.4h0M409.3 297.4h0M453.4 330.5h0M409.9 295.9h0M405.3 328.2h0M449.3 321.6h0M412.3 315.2h0M432.1 303.0h0M448.2 299.1h0M437.6 311.8h0M436.2 307.1h0M411.1 296.0h0M447.3 308.6h0M463.0 294.2h0M420.6 296.6h0M417.0 295.9h0M420.0 307.4h0M424.7 305.0h0M429.3 304.4h0M457.6 305.0h0M445.0 311.9h0M418.5 293.1h0M420.5 290.8h0M464.3 296.7h0M439.6 292.5h0M469.2 299.2h0M458.6 300.0h0M434.0 329.7h0M468.6 299.4h0M467.8 308.5h0M440.2 298.1h0M444.2 324.3h0M434.4 298.6h0M403.8 292.6h0M407.1 300.2h0M417.7 301.9h0M451.9 315.4h0M465.3 297.4h0M417.5 292.2h0M461.8 327.0h0M449.5 302.6h0M468.7 299.9h0M440.7 313.4h0M434.0 293.5h0M409.8 300.7h0M405.6 310.6h0M449.9 300.6h0M416.2 332.6h0M400.0 325.0h0M409.7 329.5h0M444.6 331.3h0M435.5 308.2h0M424.6 299.6h0M433.0 328.8h0M451.1 314.8h0M444.0 320.1h0M457.6 307.4h0M436.0 324.5h0M409.2 289.5h0M418.0 300.2h0M400.0 307.4h0M440.8 301.5h0M434.9 286.8h0M464.1 306.9h0M417.5 288.3h0M410.5 331.9h0M456.3 296.3h0M425.2 302.8h0M443.9 325.3h0M427.7 288.7h0M415.4 324.5h0M400.0 292.1h0M450.8 288.7h0M416.1 327.9h0M421.1 299.9h0M411.6 332.6h0M438.1 292.3h0M413.2 326.6h0M431.6 300.6h0M433.4 310.8h0M415.4 296.3h0M442.7 302.2h0M461.4 320.2h0M464.3 298.8h0M442.5 286.8h0" stroke="#3a26ee" stroke-width="1.56" stroke-linecap="round" opacity="1" fill="none" filter="url(#s)"/>
<rect x="247.20" y="335.40" width="5.80" height="48.20" fill="#ea6d47"/>
<rect x="253.70" y="335.40" width="71.20" height="48.20" fill="#03021a"/>
<path d="M317.9 382.6h0M271.5 344.3h0M322.6 382.2h0M292.9 350.3h0M317.6 344.7h0M256.4 336.4h0M289.9 352.9h0M314.0 350.0h0M269.4 376.9h0M276.5 338.0h0M312.6 367.2h0M323.9 353.5h0M270.6 358.6h0M308.4 369.2h0M321.7 380.3h0M266.6 353.2h0M293.8 350.0h0M260.3 382.6h0M283.6 377.4h0M323.9 371.3h0M271.5 363.9h0M302.7 369.5h0M271.9 360.9h0M259.8 374.1h0M262.2 358.7h0M293.3 367.5h0M268.6 344.0h0M266.7 337.8h0M285.9 336.4h0M270.4 341.0h0M254.7 377.7h0M315.1 356.7h0M279.6 353.6h0M305.1 370.1h0M254.7 375.3h0M260.0 367.4h0M305.2 367.9h0M307.3 365.2h0M255.4 367.0h0M318.8 342.6h0M305.8 373.8h0M258.8 367.1h0M293.1 349.6h0M275.6 339.2h0M262.1 377.7h0M286.9 361.5h0M278.1 351.3h0M264.9 366.5h0M258.5 346.3h0M314.6 371.9h0M261.6 378.8h0M290.1 339.6h0M288.2 354.5h0M299.7 348.3h0M257.8 371.5h0M286.7 345.0h0M267.3 382.6h0M277.0 351.9h0M260.4 382.6h0M274.7 351.3h0M323.9 363.3h0M264.3 380.1h0M305.7 352.4h0M263.5 369.8h0M323.9 359.1h0M313.9 380.0h0M291.4 363.8h0M283.6 358.3h0M322.5 382.3h0M280.4 361.3h0M261.9 351.2h0M283.8 353.9h0M323.9 351.1h0M280.6 369.4h0M323.0 372.8h0M306.7 370.4h0M262.8 371.0h0M289.5 340.6h0M287.3 347.4h0M294.6 355.5h0M257.0 367.1h0M271.4 363.9h0M299.3 369.1h0M323.9 356.4h0M257.8 373.5h0M270.8 381.7h0M277.1 336.4h0M309.8 364.1h0M264.6 338.2h0M305.0 363.3h0M265.6 362.1h0M256.4 381.6h0M266.7 340.3h0M285.3 373.9h0M266.5 341.7h0M283.8 359.6h0M285.4 354.4h0M279.9 360.6h0M263.5 375.9h0M264.8 370.5h0M255.7 344.7h0M294.1 351.0h0M308.7 366.7h0M266.2 359.2h0M310.9 365.5h0M281.7 337.4h0M318.9 372.5h0M270.1 346.6h0M282.5 353.8h0M278.3 382.6h0M317.1 364.5h0M273.3 362.9h0M273.2 355.4h0M261.7 341.6h0M305.6 375.9h0M270.2 365.3h0M302.4 370.1h0M285.6 354.9h0M318.9 351.4h0M314.8 363.1h0M265.3 350.5h0M257.4 352.8h0M264.9 360.8h0M308.7 359.3h0M256.6 365.9h0M254.7 340.3h0M265.4 377.6h0M303.8 362.0h0M305.4 369.4h0M270.5 359.2h0" stroke="#2a1ef0" stroke-width="1.56" stroke-linecap="round" opacity="1" fill="none" filter="url(#s)"/>
<rect x="326.40" y="335.40" width="71.10" height="48.20" fill="#000100"/>
<path d="M385.4 382.6h0M371.6 336.4h0M335.2 373.9h0M359.3 336.4h0" stroke="#1a5a1a" stroke-width="1.70" stroke-linecap="round" opacity="0.3" fill="none" filter="url(#s)"/>
<rect x="399.00" y="335.40" width="71.10" height="48.20" fill="#03021a"/>
<path d="M463.2 382.6h0M416.8 344.3h0M467.9 382.2h0M438.2 350.3h0M462.9 344.7h0M401.7 336.4h0M435.2 352.9h0M459.3 350.0h0M414.7 376.9h0M421.8 338.0h0M457.9 367.2h0M469.2 353.5h0M415.9 358.6h0M453.7 369.2h0M467.0 380.3h0M411.9 353.2h0M439.1 350.0h0M405.6 382.6h0M428.9 377.4h0M469.2 371.3h0M416.8 363.9h0M448.0 369.5h0M417.2 360.9h0M405.1 374.1h0M407.5 358.7h0M438.6 367.5h0M413.9 344.0h0M412.0 337.8h0M431.2 336.4h0M415.7 341.0h0M400.0 377.7h0M460.4 356.7h0M424.9 353.6h0M450.4 370.1h0M400.0 375.3h0M405.3 367.4h0M450.5 367.9h0M452.6 365.2h0M400.7 367.0h0M464.1 342.6h0M451.1 373.8h0M404.1 367.1h0M438.4 349.6h0M420.9 339.2h0M407.4 377.7h0M432.2 361.5h0M423.4 351.3h0M410.2 366.5h0M403.8 346.3h0M459.9 371.9h0M406.9 378.8h0M435.4 339.6h0M433.5 354.5h0M445.0 348.3h0M403.1 371.5h0M432.0 345.0h0M412.6 382.6h0M422.3 351.9h0M405.7 382.6h0M420.0 351.3h0M469.2 363.3h0M409.6 380.1h0M451.0 352.4h0M408.8 369.8h0M469.2 359.1h0M459.2 380.0h0M436.7 363.8h0M428.9 358.3h0M467.8 382.3h0M425.7 361.3h0M407.2 351.2h0M429.1 353.9h0M469.2 351.1h0M425.9 369.4h0M468.3 372.8h0M452.0 370.4h0M408.1 371.0h0M434.8 340.6h0M432.6 347.4h0M439.9 355.5h0M402.3 367.1h0M416.7 363.9h0M444.6 369.1h0M469.2 356.4h0M403.1 373.5h0M416.1 381.7h0M422.4 336.4h0M455.1 364.1h0M409.9 338.2h0M450.3 363.3h0M410.9 362.1h0M401.7 381.6h0M412.0 340.3h0M430.6 373.9h0M411.8 341.7h0M429.1 359.6h0M430.7 354.4h0M425.2 360.6h0M408.8 375.9h0M410.1 370.5h0M401.0 344.7h0M439.4 351.0h0M454.0 366.7h0M411.5 359.2h0M456.2 365.5h0M427.0 337.4h0M464.2 372.5h0M415.4 346.6h0M427.8 353.8h0M423.6 382.6h0M462.4 364.5h0M418.6 362.9h0M418.5 355.4h0M407.0 341.6h0M450.9 375.9h0M415.5 365.3h0M447.7 370.1h0M430.9 354.9h0M464.2 351.4h0M460.1 363.1h0M410.6 350.5h0M402.7 352.8h0M410.2 360.8h0M454.0 359.3h0M401.9 365.9h0M400.0 340.3h0M410.7 377.6h0M449.1 362.0h0M450.7 369.4h0M415.8 359.2h0" stroke="#3a26ee" stroke-width="1.56" stroke-linecap="round" opacity="1" fill="none" filter="url(#s)"/>
<rect x="247.20" y="385.50" width="5.80" height="47.50" fill="#5ec2d8"/>
<rect x="253.70" y="385.50" width="71.20" height="47.50" fill="#03021a"/>
<path d="M258.7 409.3h0M314.8 417.4h0M310.6 428.4h0M323.2 415.6h0M319.2 411.8h0M263.8 417.0h0M264.0 428.7h0M292.2 419.3h0M318.4 386.9h0M254.7 428.1h0M298.4 424.0h0M295.9 411.3h0M285.3 426.0h0M269.2 422.1h0M304.3 432.0h0M307.1 424.4h0M288.9 401.3h0M285.4 401.4h0M265.0 409.6h0M304.3 424.8h0M314.6 432.0h0M294.4 424.5h0M294.4 425.2h0M265.2 386.8h0M267.1 386.7h0M303.7 391.1h0M312.4 432.0h0M263.1 422.9h0M303.4 416.9h0M322.5 396.8h0M300.1 396.6h0M268.7 418.0h0M320.9 424.6h0M271.7 409.4h0M322.0 397.3h0M255.6 411.9h0M298.5 432.0h0M269.8 421.3h0M268.3 426.8h0M302.1 408.7h0M280.1 400.3h0M270.3 416.2h0M287.5 388.9h0M263.6 418.7h0M303.7 393.7h0M306.2 426.4h0M323.9 421.6h0M298.7 391.4h0M279.7 388.6h0M315.5 431.6h0M256.3 409.6h0M297.2 391.3h0M321.0 424.2h0M265.1 407.9h0M298.2 398.6h0M321.2 425.2h0M323.9 432.0h0M274.5 402.0h0M316.6 432.0h0M254.7 414.9h0M291.5 402.3h0M286.1 388.8h0M317.2 432.0h0M315.7 426.2h0M273.2 406.4h0M313.5 432.0h0M306.7 426.2h0M323.9 406.6h0M274.6 406.4h0M300.6 432.0h0M268.7 386.5h0M317.2 424.0h0M285.7 406.6h0M261.5 427.5h0M267.3 414.7h0M260.9 423.4h0M265.6 409.4h0M310.4 401.5h0M285.8 412.3h0M283.2 418.9h0M262.1 412.6h0M288.6 420.8h0M303.7 414.1h0M309.3 429.9h0M268.6 405.8h0M258.2 404.6h0M293.1 430.5h0M307.2 425.3h0M307.5 432.0h0M284.0 421.1h0M282.4 431.1h0M322.0 427.3h0M275.6 411.5h0M269.4 430.8h0M293.7 414.3h0M287.4 395.4h0M285.1 391.3h0M290.5 426.9h0M323.9 420.7h0M257.4 420.5h0M308.6 416.5h0M255.0 421.1h0M322.0 421.0h0M267.6 408.7h0M289.3 429.3h0M255.4 404.4h0M271.1 397.2h0M275.6 412.2h0M304.8 390.4h0M293.4 413.9h0M316.1 406.3h0M322.8 426.5h0M310.0 427.3h0M288.8 431.0h0M290.2 429.3h0M275.1 394.4h0M301.0 413.9h0M301.6 426.7h0M283.5 413.2h0M313.6 387.8h0M280.5 401.0h0M322.9 394.3h0M284.7 407.6h0M304.6 395.0h0M265.9 386.5h0M264.3 399.8h0M323.3 425.1h0M257.7 418.1h0M265.9 416.1h0M275.7 423.9h0" stroke="#2a1ef0" stroke-width="1.56" stroke-linecap="round" opacity="1" fill="none" filter="url(#s)"/>
<rect x="326.40" y="385.50" width="71.10" height="47.50" fill="#010401"/>
<path d="M387.0 399.7h0M365.0 401.8h0M336.6 398.9h0M341.3 427.5h0M371.0 415.0h0M379.8 400.7h0M361.4 386.5h0M373.4 415.3h0M379.6 432.0h0M382.9 386.5h0M392.4 386.5h0M345.7 396.1h0M327.4 430.0h0M366.4 425.0h0M363.0 412.4h0M337.3 401.5h0M338.5 406.9h0M378.4 386.5h0M345.5 399.5h0M374.9 413.0h0M391.7 408.6h0M370.5 401.4h0M335.9 397.4h0M331.8 401.3h0M387.2 402.2h0M352.7 392.5h0M334.5 427.5h0M392.8 413.4h0M366.7 400.1h0M396.5 389.3h0M394.4 393.6h0M371.7 394.4h0M327.4 401.0h0M336.7 400.3h0M341.0 421.7h0M391.1 408.3h0M366.2 389.6h0M342.1 409.2h0M362.7 392.1h0M348.0 421.3h0M385.0 389.1h0M356.2 424.7h0M332.7 415.1h0M351.5 398.8h0M391.4 403.8h0" stroke="#2a8a2a" stroke-width="1.70" stroke-linecap="round" opacity="0.5" fill="none" filter="url(#s)"/>
<rect x="399.00" y="385.50" width="71.10" height="47.50" fill="#03021a"/>
<path d="M404.0 409.3h0M460.1 417.4h0M455.9 428.4h0M468.5 415.6h0M464.5 411.8h0M409.1 417.0h0M409.3 428.7h0M437.5 419.3h0M463.7 386.9h0M400.0 428.1h0M443.7 424.0h0M441.2 411.3h0M430.6 426.0h0M414.5 422.1h0M449.6 432.0h0M452.4 424.4h0M434.2 401.3h0M430.7 401.4h0M410.3 409.6h0M449.6 424.8h0M459.9 432.0h0M439.7 424.5h0M439.7 425.2h0M410.5 386.8h0M412.4 386.7h0M449.0 391.1h0M457.7 432.0h0M408.4 422.9h0M448.7 416.9h0M467.8 396.8h0M445.4 396.6h0M414.0 418.0h0M466.2 424.6h0M417.0 409.4h0M467.3 397.3h0M400.9 411.9h0M443.8 432.0h0M415.1 421.3h0M413.6 426.8h0M447.4 408.7h0M425.4 400.3h0M415.6 416.2h0M432.8 388.9h0M408.9 418.7h0M449.0 393.7h0M451.5 426.4h0M469.2 421.6h0M444.0 391.4h0M425.0 388.6h0M460.8 431.6h0M401.6 409.6h0M442.5 391.3h0M466.3 424.2h0M410.4 407.9h0M443.5 398.6h0M466.5 425.2h0M469.2 432.0h0M419.8 402.0h0M461.9 432.0h0M400.0 414.9h0M436.8 402.3h0M431.4 388.8h0M462.5 432.0h0M461.0 426.2h0M418.5 406.4h0M458.8 432.0h0M452.0 426.2h0M469.2 406.6h0M419.9 406.4h0M445.9 432.0h0M414.0 386.5h0M462.5 424.0h0M431.0 406.6h0M406.8 427.5h0M412.6 414.7h0M406.2 423.4h0M410.9 409.4h0M455.7 401.5h0M431.1 412.3h0M428.5 418.9h0M407.4 412.6h0M433.9 420.8h0M449.0 414.1h0M454.6 429.9h0M413.9 405.8h0M403.5 404.6h0M438.4 430.5h0M452.5 425.3h0M452.8 432.0h0M429.3 421.1h0M427.7 431.1h0M467.3 427.3h0M420.9 411.5h0M414.7 430.8h0M439.0 414.3h0M432.7 395.4h0M430.4 391.3h0M435.8 426.9h0M469.2 420.7h0M402.7 420.5h0M453.9 416.5h0M400.3 421.1h0M467.3 421.0h0M412.9 408.7h0M434.6 429.3h0M400.7 404.4h0M416.4 397.2h0M420.9 412.2h0M450.1 390.4h0M438.7 413.9h0M461.4 406.3h0M468.1 426.5h0M455.3 427.3h0M434.1 431.0h0M435.5 429.3h0M420.4 394.4h0M446.3 413.9h0M446.9 426.7h0M428.8 413.2h0M458.9 387.8h0M425.8 401.0h0M468.2 394.3h0M430.0 407.6h0M449.9 395.0h0M411.2 386.5h0M409.6 399.8h0M468.6 425.1h0M403.0 418.1h0M411.2 416.1h0M421.0 423.9h0" stroke="#3a26ee" stroke-width="1.56" stroke-linecap="round" opacity="1" fill="none" filter="url(#s)"/>
<rect x="247.20" y="434.70" width="5.80" height="48.30" fill="#bfdfba"/>
<rect x="253.70" y="434.70" width="71.20" height="48.30" fill="#03021a"/>
<path d="M305.9 467.6h0M270.4 452.1h0M258.6 463.7h0M281.8 466.0h0M254.7 470.0h0M298.3 477.9h0M293.4 437.0h0M276.9 446.6h0M265.5 461.8h0M266.6 482.0h0M280.9 435.7h0M313.7 452.4h0M294.2 452.0h0M257.4 464.5h0M297.1 466.9h0M293.6 447.9h0M259.7 435.7h0M295.9 442.6h0M262.0 454.0h0M266.1 466.2h0M322.6 478.2h0M256.2 460.9h0M290.4 480.0h0M297.2 442.2h0M266.9 465.1h0M294.5 447.8h0M271.3 460.2h0M260.9 454.5h0M305.8 457.2h0M260.9 435.7h0M320.4 444.9h0M264.4 463.7h0M290.6 453.3h0M316.2 465.7h0M311.3 435.7h0M302.6 452.4h0M269.0 443.8h0M299.0 450.5h0M289.5 435.7h0M309.4 454.2h0M267.5 477.0h0M254.7 459.3h0M277.4 437.0h0M264.0 473.9h0M297.4 475.2h0M269.7 437.0h0M269.0 482.0h0M298.8 461.0h0M257.0 476.8h0M282.7 466.6h0M308.6 448.3h0M287.0 472.4h0M296.7 447.7h0M255.1 458.6h0M263.2 462.6h0M283.0 449.1h0M257.1 480.6h0M284.8 474.6h0M264.8 477.7h0M294.3 470.5h0M296.6 469.7h0M267.9 462.9h0M280.7 440.3h0M257.5 471.5h0M261.1 471.2h0M275.7 478.2h0M272.9 478.2h0M311.3 450.2h0M310.1 474.9h0M271.9 455.5h0M287.3 457.8h0M298.1 478.4h0M262.6 465.6h0M307.5 472.7h0M274.4 478.6h0M258.8 466.4h0M296.2 473.1h0M304.1 446.1h0M305.8 446.8h0M303.4 454.7h0M260.5 457.4h0M256.7 441.2h0M271.7 458.4h0M280.8 451.5h0M263.6 448.3h0M279.8 436.3h0M288.6 471.5h0M273.0 477.4h0M272.3 471.8h0M276.6 468.9h0M304.9 461.3h0M259.9 482.0h0M262.1 439.0h0M255.3 444.2h0M273.7 437.3h0M255.2 454.4h0M297.9 460.8h0M318.9 454.4h0M290.4 462.3h0M309.9 465.7h0M311.8 480.1h0M258.2 478.7h0M276.3 473.1h0M262.3 450.2h0M277.9 458.7h0M272.5 475.2h0M304.4 451.3h0M254.9 435.7h0M277.3 462.6h0M262.2 481.3h0M309.5 451.2h0M263.3 449.3h0M323.9 445.1h0M285.1 455.0h0M297.3 460.1h0M301.5 446.1h0M289.4 479.0h0M295.6 449.4h0M268.5 453.5h0M263.0 471.7h0M254.7 442.9h0M266.7 476.5h0M272.4 448.2h0M266.2 478.0h0M285.0 443.0h0M264.8 469.7h0M310.9 441.8h0M293.3 476.0h0M265.8 479.7h0M284.3 438.5h0M275.3 478.9h0M320.1 473.0h0M285.7 480.9h0M269.6 464.3h0M276.6 462.0h0M265.1 457.5h0M323.9 449.8h0M287.7 475.7h0M266.5 453.0h0M296.7 455.7h0M305.5 460.3h0M265.9 446.9h0M301.9 441.6h0M258.7 444.9h0M263.9 456.0h0M258.8 464.9h0M257.0 436.1h0M282.7 441.5h0M280.7 456.3h0M268.3 473.1h0" stroke="#2a1ef0" stroke-width="1.56" stroke-linecap="round" opacity="1" fill="none" filter="url(#s)"/>
<rect x="326.40" y="434.70" width="71.10" height="48.30" fill="#061205"/>
<path d="M378.6 467.6h0M343.1 452.1h0M331.3 463.7h0M354.5 466.0h0M327.4 470.0h0M371.0 477.9h0M366.1 437.0h0M349.6 446.6h0M338.2 461.8h0M339.3 482.0h0M353.6 435.7h0M386.4 452.4h0M366.9 452.0h0M330.1 464.5h0M369.8 466.9h0M366.3 447.9h0M332.4 435.7h0M368.6 442.6h0M334.7 454.0h0M338.8 466.2h0M395.3 478.2h0M328.9 460.9h0M363.1 480.0h0M369.9 442.2h0M339.6 465.1h0M367.2 447.8h0M344.0 460.2h0M333.6 454.5h0M378.5 457.2h0M333.6 435.7h0M393.1 444.9h0M337.1 463.7h0M363.3 453.3h0M388.9 465.7h0M384.0 435.7h0M375.3 452.4h0M341.7 443.8h0M371.7 450.5h0M362.2 435.7h0M382.1 454.2h0M340.2 477.0h0M327.4 459.3h0M350.1 437.0h0M336.7 473.9h0M370.1 475.2h0M342.4 437.0h0M341.7 482.0h0M371.5 461.0h0M329.7 476.8h0M355.4 466.6h0M381.3 448.3h0M359.7 472.4h0M369.4 447.7h0M327.8 458.6h0M335.9 462.6h0M355.7 449.1h0M329.8 480.6h0M357.5 474.6h0M337.5 477.7h0M367.0 470.5h0M369.3 469.7h0M340.6 462.9h0M353.4 440.3h0M330.2 471.5h0M333.8 471.2h0M348.4 478.2h0M345.6 478.2h0M384.0 450.2h0M382.8 474.9h0M344.6 455.5h0M360.0 457.8h0M370.8 478.4h0M335.3 465.6h0M380.2 472.7h0M347.1 478.6h0M331.5 466.4h0M368.9 473.1h0M376.8 446.1h0M378.5 446.8h0M376.1 454.7h0M333.2 457.4h0M329.4 441.2h0M344.4 458.4h0M353.5 451.5h0M336.3 448.3h0M352.5 436.3h0M361.3 471.5h0M345.7 477.4h0M345.0 471.8h0M349.3 468.9h0M377.6 461.3h0M332.6 482.0h0M334.8 439.0h0M328.0 444.2h0M346.4 437.3h0M327.9 454.4h0M370.6 460.8h0M391.6 454.4h0M363.1 462.3h0M382.6 465.7h0M384.5 480.1h0M330.9 478.7h0M349.0 473.1h0M335.0 450.2h0M350.6 458.7h0M345.2 475.2h0M377.1 451.3h0M327.6 435.7h0M350.0 462.6h0M334.9 481.3h0" stroke="#44c838" stroke-width="1.70" stroke-linecap="round" opacity="0.95" fill="none" filter="url(#s)"/>
<rect x="399.00" y="434.70" width="71.10" height="48.30" fill="#03101a"/>
<path d="M454.8 451.2h0M408.6 449.3h0M469.2 445.1h0M430.4 455.0h0M442.6 460.1h0M446.8 446.1h0M434.7 479.0h0M440.9 449.4h0M413.8 453.5h0M408.3 471.7h0M400.0 442.9h0M412.0 476.5h0M417.7 448.2h0M411.5 478.0h0M430.3 443.0h0M410.1 469.7h0M456.2 441.8h0M438.6 476.0h0M411.1 479.7h0M429.6 438.5h0M420.6 478.9h0M465.4 473.0h0M431.0 480.9h0M414.9 464.3h0M421.9 462.0h0M410.4 457.5h0M469.2 449.8h0M433.0 475.7h0M411.8 453.0h0M442.0 455.7h0M450.8 460.3h0M411.2 446.9h0M447.2 441.6h0M404.0 444.9h0M409.2 456.0h0M404.1 464.9h0M402.3 436.1h0M428.0 441.5h0M426.0 456.3h0M413.6 473.1h0" stroke="#3a30ee" stroke-width="1.56" stroke-linecap="round" opacity="1" fill="none" filter="url(#s)"/>
<path d="M451.2 467.6h0M415.7 452.1h0M403.9 463.7h0M427.1 466.0h0M400.0 470.0h0M443.6 477.9h0M438.7 437.0h0M422.2 446.6h0M410.8 461.8h0M411.9 482.0h0M426.2 435.7h0M459.0 452.4h0M439.5 452.0h0M402.7 464.5h0M442.4 466.9h0M438.9 447.9h0M405.0 435.7h0M441.2 442.6h0M407.3 454.0h0M411.4 466.2h0M467.9 478.2h0M401.5 460.9h0M435.7 480.0h0M442.5 442.2h0M412.2 465.1h0M439.8 447.8h0M416.6 460.2h0M406.2 454.5h0M451.1 457.2h0M406.2 435.7h0M465.7 444.9h0M409.7 463.7h0M435.9 453.3h0M461.5 465.7h0M456.6 435.7h0M447.9 452.4h0M414.3 443.8h0M444.3 450.5h0M434.8 435.7h0M454.7 454.2h0M412.8 477.0h0M400.0 459.3h0M422.7 437.0h0M409.3 473.9h0M442.7 475.2h0M415.0 437.0h0M414.3 482.0h0M444.1 461.0h0M402.3 476.8h0M428.0 466.6h0M453.9 448.3h0M432.3 472.4h0M442.0 447.7h0M400.4 458.6h0M408.5 462.6h0M428.3 449.1h0M402.4 480.6h0M430.1 474.6h0M410.1 477.7h0M439.6 470.5h0M441.9 469.7h0M413.2 462.9h0M426.0 440.3h0M402.8 471.5h0M406.4 471.2h0M421.0 478.2h0M418.2 478.2h0M456.6 450.2h0M455.4 474.9h0M417.2 455.5h0M432.6 457.8h0M443.4 478.4h0M407.9 465.6h0M452.8 472.7h0M419.7 478.6h0M404.1 466.4h0M441.5 473.1h0M449.4 446.1h0M451.1 446.8h0M448.7 454.7h0M405.8 457.4h0M402.0 441.2h0M417.0 458.4h0M426.1 451.5h0M408.9 448.3h0M425.1 436.3h0M433.9 471.5h0M418.3 477.4h0M417.6 471.8h0M421.9 468.9h0M450.2 461.3h0M405.2 482.0h0M407.4 439.0h0M400.6 444.2h0M419.0 437.3h0M400.5 454.4h0M443.2 460.8h0M464.2 454.4h0M435.7 462.3h0M455.2 465.7h0M457.1 480.1h0M403.5 478.7h0M421.6 473.1h0M407.6 450.2h0M423.2 458.7h0M417.8 475.2h0M449.7 451.3h0M400.2 435.7h0M422.6 462.6h0M407.5 481.3h0" stroke="#58c0d0" stroke-width="1.70" stroke-linecap="round" opacity="0.95" fill="none" filter="url(#s)"/>
<rect x="247.20" y="485.00" width="5.80" height="47.60" fill="#4f64b4"/>
<rect x="253.70" y="485.00" width="71.20" height="47.60" fill="#03021a"/>
<path d="M299.0 493.0h0M301.2 512.8h0M254.7 489.0h0M300.5 489.1h0M303.6 505.9h0M281.5 529.0h0M284.5 498.4h0M322.0 531.6h0M323.9 531.6h0M266.1 486.0h0M295.5 521.7h0M307.5 492.8h0M276.3 518.6h0M261.9 529.8h0M284.2 521.3h0M261.3 503.6h0M323.9 520.4h0M323.9 510.8h0M304.5 512.6h0M280.4 488.3h0M302.9 531.6h0M282.9 492.7h0M304.2 486.0h0M274.9 517.4h0M280.3 529.5h0M303.9 502.1h0M304.2 499.2h0M255.0 525.7h0M266.5 516.7h0M264.7 495.9h0M290.7 498.7h0M306.0 529.3h0M313.8 488.4h0M322.3 507.6h0M290.1 531.6h0M323.9 529.5h0M298.8 500.4h0M275.9 511.2h0M307.3 493.5h0M262.9 514.2h0M308.3 524.6h0M254.7 511.4h0M280.1 517.3h0M295.3 499.1h0M293.8 522.9h0M287.4 512.5h0M258.5 524.3h0M322.9 498.6h0M303.8 512.9h0M302.9 527.7h0M301.6 516.0h0M303.7 496.7h0M276.6 519.4h0M290.2 521.3h0M274.7 513.5h0M307.4 497.8h0M302.6 513.0h0M277.2 495.5h0M291.1 501.9h0M268.6 486.6h0M275.9 511.3h0M306.3 504.0h0M303.7 486.7h0M302.0 519.4h0M255.6 522.0h0M281.8 488.7h0M318.6 486.0h0M323.9 514.8h0M320.6 522.7h0M281.6 489.5h0M294.8 511.5h0M315.2 508.0h0M288.6 522.3h0M298.9 493.3h0M311.6 503.6h0M254.7 510.2h0M293.8 531.6h0M259.3 524.4h0M256.2 522.1h0M317.6 511.4h0M305.4 486.0h0M262.5 502.2h0M256.2 486.0h0M260.3 523.2h0M308.4 525.6h0M322.7 522.4h0M254.7 494.1h0M312.6 505.9h0M301.8 517.5h0M277.7 520.3h0M271.1 522.0h0M310.3 519.7h0M296.8 508.3h0M264.7 513.1h0M292.3 529.7h0M301.2 523.3h0M306.6 495.3h0M302.9 499.7h0M287.7 524.6h0M317.5 489.7h0M300.6 529.7h0M320.7 500.5h0M274.2 519.7h0M281.6 517.5h0M290.4 488.8h0M296.8 524.4h0M323.9 499.7h0M272.9 496.0h0M305.0 514.4h0M285.2 526.1h0M288.5 487.5h0M280.6 503.3h0M323.9 528.3h0M321.7 511.5h0M299.4 490.1h0M323.9 530.4h0M323.9 518.0h0M269.3 508.2h0M304.8 503.1h0M298.9 518.0h0M294.0 526.9h0M315.9 493.0h0M314.0 497.7h0M321.8 512.3h0M293.0 505.5h0M305.1 489.2h0M305.6 505.0h0M255.9 499.0h0M284.4 491.5h0M319.8 522.0h0M299.0 509.3h0M297.6 524.7h0M277.6 486.3h0M301.9 505.3h0M283.8 531.3h0M260.5 495.1h0M269.2 496.7h0M276.5 517.3h0M298.9 511.2h0M308.7 501.3h0M276.2 517.7h0M318.8 503.0h0M263.7 508.6h0M280.6 487.5h0M323.9 511.8h0M306.4 496.1h0M307.1 504.1h0M298.1 524.3h0M275.4 489.1h0M322.1 529.0h0M275.0 528.8h0M296.1 518.5h0M268.2 510.3h0M322.1 514.3h0M275.5 520.1h0M273.7 494.0h0M318.0 507.4h0M263.7 500.1h0M261.1 509.4h0M271.8 500.0h0M259.4 496.5h0M269.1 515.7h0M258.4 499.9h0M301.1 523.0h0M294.0 531.6h0M261.7 495.5h0M306.3 497.7h0M275.8 513.9h0M265.1 496.8h0M320.1 486.0h0M323.5 505.3h0M288.2 517.1h0M296.2 489.7h0M289.1 508.8h0M307.1 493.9h0M323.9 513.0h0M279.5 527.2h0M301.3 488.7h0M291.2 524.6h0M288.7 529.8h0M278.2 498.7h0M323.9 530.6h0M257.3 529.9h0M271.2 529.8h0M298.5 500.7h0M271.0 528.5h0M313.0 491.5h0M284.5 509.4h0M258.0 486.0h0M318.5 501.0h0M308.6 502.6h0M307.8 525.5h0M273.4 486.0h0M323.9 514.4h0M298.7 489.0h0M316.0 510.7h0M255.3 517.4h0M323.9 503.0h0M323.9 489.9h0M323.9 498.3h0M310.4 494.6h0M288.6 511.7h0M323.9 528.5h0M305.6 506.5h0M302.1 488.6h0M257.1 531.6h0M277.5 518.8h0M274.2 508.8h0M301.2 518.8h0M304.0 528.7h0" stroke="#2a1ef0" stroke-width="1.56" stroke-linecap="round" opacity="1" fill="none" filter="url(#s)"/>
<rect x="326.40" y="485.00" width="71.10" height="47.60" fill="#071606"/>
<path d="M371.7 493.0h0M373.9 512.8h0M327.4 489.0h0M373.2 489.1h0M376.3 505.9h0M354.2 529.0h0M357.2 498.4h0M394.7 531.6h0M396.6 531.6h0M338.8 486.0h0M368.2 521.7h0M380.2 492.8h0M349.0 518.6h0M334.6 529.8h0M356.9 521.3h0M334.0 503.6h0M396.6 520.4h0M396.6 510.8h0M377.2 512.6h0M353.1 488.3h0M375.6 531.6h0M355.6 492.7h0M376.9 486.0h0M347.6 517.4h0M353.0 529.5h0M376.6 502.1h0M376.9 499.2h0M327.7 525.7h0M339.2 516.7h0M337.4 495.9h0M363.4 498.7h0M378.7 529.3h0M386.5 488.4h0M395.0 507.6h0M362.8 531.6h0M396.6 529.5h0M371.5 500.4h0M348.6 511.2h0M380.0 493.5h0M335.6 514.2h0M381.0 524.6h0M327.4 511.4h0M352.8 517.3h0M368.0 499.1h0M366.5 522.9h0M360.1 512.5h0M331.2 524.3h0M395.6 498.6h0M376.5 512.9h0M375.6 527.7h0M374.3 516.0h0M376.4 496.7h0M349.3 519.4h0M362.9 521.3h0M347.4 513.5h0M380.1 497.8h0M375.3 513.0h0M349.9 495.5h0M363.8 501.9h0M341.3 486.6h0M348.6 511.3h0M379.0 504.0h0M376.4 486.7h0M374.7 519.4h0M328.3 522.0h0M354.5 488.7h0M391.3 486.0h0M396.6 514.8h0M393.3 522.7h0M354.3 489.5h0M367.5 511.5h0M387.9 508.0h0M361.3 522.3h0M371.6 493.3h0M384.3 503.6h0M327.4 510.2h0M366.5 531.6h0M332.0 524.4h0M328.9 522.1h0M390.3 511.4h0M378.1 486.0h0M335.2 502.2h0M328.9 486.0h0M333.0 523.2h0M381.1 525.6h0M395.4 522.4h0M327.4 494.1h0M385.3 505.9h0M374.5 517.5h0M350.4 520.3h0M343.8 522.0h0M383.0 519.7h0M369.5 508.3h0M337.4 513.1h0M365.0 529.7h0M373.9 523.3h0M379.3 495.3h0M375.6 499.7h0M360.4 524.6h0M390.2 489.7h0M373.3 529.7h0M393.4 500.5h0M346.9 519.7h0M354.3 517.5h0M363.1 488.8h0M369.5 524.4h0M396.6 499.7h0M345.6 496.0h0M377.7 514.4h0M357.9 526.1h0M361.2 487.5h0M353.3 503.3h0M396.6 528.3h0M394.4 511.5h0M372.1 490.1h0M396.6 530.4h0M396.6 518.0h0M342.0 508.2h0M377.5 503.1h0M371.6 518.0h0M366.7 526.9h0M388.6 493.0h0M386.7 497.7h0M394.5 512.3h0M365.7 505.5h0M377.8 489.2h0M378.3 505.0h0M328.6 499.0h0M357.1 491.5h0M392.5 522.0h0M371.7 509.3h0M370.3 524.7h0M350.3 486.3h0M374.6 505.3h0M356.5 531.3h0M333.2 495.1h0M341.9 496.7h0M349.2 517.3h0M371.6 511.2h0M381.4 501.3h0M348.9 517.7h0M391.5 503.0h0M336.4 508.6h0M353.3 487.5h0M396.6 511.8h0M379.1 496.1h0M379.8 504.1h0M370.8 524.3h0M348.1 489.1h0M394.8 529.0h0M347.7 528.8h0M368.8 518.5h0M340.9 510.3h0M394.8 514.3h0M348.2 520.1h0M346.4 494.0h0M390.7 507.4h0M336.4 500.1h0M333.8 509.4h0M344.5 500.0h0M332.1 496.5h0M341.8 515.7h0M331.1 499.9h0M373.8 523.0h0M366.7 531.6h0M334.4 495.5h0M379.0 497.7h0M348.5 513.9h0M337.8 496.8h0M392.8 486.0h0M396.2 505.3h0M360.9 517.1h0M368.9 489.7h0M361.8 508.8h0M379.8 493.9h0M396.6 513.0h0M352.2 527.2h0M374.0 488.7h0M363.9 524.6h0M361.4 529.8h0" stroke="#4ad23a" stroke-width="1.70" stroke-linecap="round" opacity="1" fill="none" filter="url(#s)"/>
<rect x="399.00" y="485.00" width="71.10" height="47.60" fill="#03101a"/>
<path d="M423.5 498.7h0M469.2 530.6h0M402.6 529.9h0M416.5 529.8h0M443.8 500.7h0M416.3 528.5h0M458.3 491.5h0M429.8 509.4h0M403.3 486.0h0M463.8 501.0h0M453.9 502.6h0M453.1 525.5h0M418.7 486.0h0M469.2 514.4h0M444.0 489.0h0M461.3 510.7h0M400.6 517.4h0M469.2 503.0h0M469.2 489.9h0M469.2 498.3h0M455.7 494.6h0M433.9 511.7h0M469.2 528.5h0M450.9 506.5h0M447.4 488.6h0M402.4 531.6h0M422.8 518.8h0M419.5 508.8h0M446.5 518.8h0M449.3 528.7h0" stroke="#3a30ee" stroke-width="1.56" stroke-linecap="round" opacity="1" fill="none" filter="url(#s)"/>
<path d="M444.3 493.0h0M446.5 512.8h0M400.0 489.0h0M445.8 489.1h0M448.9 505.9h0M426.8 529.0h0M429.8 498.4h0M467.3 531.6h0M469.2 531.6h0M411.4 486.0h0M440.8 521.7h0M452.8 492.8h0M421.6 518.6h0M407.2 529.8h0M429.5 521.3h0M406.6 503.6h0M469.2 520.4h0M469.2 510.8h0M449.8 512.6h0M425.7 488.3h0M448.2 531.6h0M428.2 492.7h0M449.5 486.0h0M420.2 517.4h0M425.6 529.5h0M449.2 502.1h0M449.5 499.2h0M400.3 525.7h0M411.8 516.7h0M410.0 495.9h0M436.0 498.7h0M451.3 529.3h0M459.1 488.4h0M467.6 507.6h0M435.4 531.6h0M469.2 529.5h0M444.1 500.4h0M421.2 511.2h0M452.6 493.5h0M408.2 514.2h0M453.6 524.6h0M400.0 511.4h0M425.4 517.3h0M440.6 499.1h0M439.1 522.9h0M432.7 512.5h0M403.8 524.3h0M468.2 498.6h0M449.1 512.9h0M448.2 527.7h0M446.9 516.0h0M449.0 496.7h0M421.9 519.4h0M435.5 521.3h0M420.0 513.5h0M452.7 497.8h0M447.9 513.0h0M422.5 495.5h0M436.4 501.9h0M413.9 486.6h0M421.2 511.3h0M451.6 504.0h0M449.0 486.7h0M447.3 519.4h0M400.9 522.0h0M427.1 488.7h0M463.9 486.0h0M469.2 514.8h0M465.9 522.7h0M426.9 489.5h0M440.1 511.5h0M460.5 508.0h0M433.9 522.3h0M444.2 493.3h0M456.9 503.6h0M400.0 510.2h0M439.1 531.6h0M404.6 524.4h0M401.5 522.1h0M462.9 511.4h0M450.7 486.0h0M407.8 502.2h0M401.5 486.0h0M405.6 523.2h0M453.7 525.6h0M468.0 522.4h0M400.0 494.1h0M457.9 505.9h0M447.1 517.5h0M423.0 520.3h0M416.4 522.0h0M455.6 519.7h0M442.1 508.3h0M410.0 513.1h0M437.6 529.7h0M446.5 523.3h0M451.9 495.3h0M448.2 499.7h0M433.0 524.6h0M462.8 489.7h0M445.9 529.7h0M466.0 500.5h0M419.5 519.7h0M426.9 517.5h0M435.7 488.8h0M442.1 524.4h0M469.2 499.7h0M418.2 496.0h0M450.3 514.4h0M430.5 526.1h0M433.8 487.5h0M425.9 503.3h0M469.2 528.3h0M467.0 511.5h0M444.7 490.1h0M469.2 530.4h0M469.2 518.0h0M414.6 508.2h0M450.1 503.1h0M444.2 518.0h0M439.3 526.9h0M461.2 493.0h0M459.3 497.7h0M467.1 512.3h0M438.3 505.5h0M450.4 489.2h0M450.9 505.0h0M401.2 499.0h0M429.7 491.5h0M465.1 522.0h0M444.3 509.3h0M442.9 524.7h0M422.9 486.3h0M447.2 505.3h0M429.1 531.3h0M405.8 495.1h0M414.5 496.7h0M421.8 517.3h0M444.2 511.2h0M454.0 501.3h0M421.5 517.7h0M464.1 503.0h0M409.0 508.6h0M425.9 487.5h0M469.2 511.8h0M451.7 496.1h0M452.4 504.1h0M443.4 524.3h0M420.7 489.1h0M467.4 529.0h0M420.3 528.8h0M441.4 518.5h0M413.5 510.3h0M467.4 514.3h0M420.8 520.1h0M419.0 494.0h0M463.3 507.4h0M409.0 500.1h0M406.4 509.4h0M417.1 500.0h0M404.7 496.5h0M414.4 515.7h0M403.7 499.9h0M446.4 523.0h0M439.3 531.6h0M407.0 495.5h0M451.6 497.7h0M421.1 513.9h0M410.4 496.8h0M465.4 486.0h0M468.8 505.3h0M433.5 517.1h0M441.5 489.7h0M434.4 508.8h0M452.4 493.9h0M469.2 513.0h0M424.8 527.2h0M446.6 488.7h0M436.5 524.6h0M434.0 529.8h0" stroke="#58c0d0" stroke-width="1.70" stroke-linecap="round" opacity="0.95" fill="none" filter="url(#s)"/>
<line x1="451.40" y1="529.30" x2="468.00" y2="529.30" stroke="#f4f4f4" stroke-width="1.0"/>
<line x1="451.40" y1="527.00" x2="451.40" y2="531.70" stroke="#f4f4f4" stroke-width="0.9"/>
<line x1="468.00" y1="527.00" x2="468.00" y2="531.70" stroke="#f4f4f4" stroke-width="0.9"/>
<text x="459.7" y="526.1" font-size="4.3" fill="#e8e8e8" text-anchor="middle">400μm</text>
<rect x="9.90" y="549.00" width="19.60" height="11.10" fill="#fff" stroke="#ff2314" stroke-width="3.4"/>
<text x="32.2" y="558.9" font-size="10.4" font-weight="bold">Control</text>
<rect x="83.30" y="549.00" width="19.60" height="11.10" fill="#fff" stroke="#ea6d47" stroke-width="3.4"/>
<text x="105.6" y="558.9" font-size="10.4" font-weight="bold">LPS</text>
<rect x="142.50" y="549.00" width="19.60" height="11.10" fill="#fff" stroke="#5ec2d8" stroke-width="3.4"/>
<text x="164.8" y="558.9" font-size="10.4" font-weight="bold">LPS+HAPP3</text>
<rect x="237.90" y="549.00" width="19.60" height="11.10" fill="#fff" stroke="#bfdfba" stroke-width="3.4"/>
<text x="260.2" y="558.9" font-size="10.4" font-weight="bold">LPS+HAPP@EXO</text>
<rect x="362.90" y="549.00" width="19.60" height="11.10" fill="#fff" stroke="#4f64b4" stroke-width="3.4"/>
<text x="385.2" y="558.9" font-size="10.4" font-weight="bold">LPS+HAPP@H-EXO</text>
<text x="1.0" y="580.9" font-size="12.9" fill="#000" font-weight="bold" text-anchor="start">K</text>
<text x="100.0" y="592.7" font-size="9.7" fill="#111" font-weight="bold" text-anchor="middle">Volcano plot</text>
<rect x="39.90" y="594.10" width="120.10" height="119.80" fill="#fff"/>
<line x1="40.85" y1="594.10" x2="40.85" y2="713.90" stroke="#ececec" stroke-width="0.6"/>
<line x1="60.60" y1="594.10" x2="60.60" y2="713.90" stroke="#ececec" stroke-width="0.6"/>
<line x1="80.35" y1="594.10" x2="80.35" y2="713.90" stroke="#ececec" stroke-width="0.6"/>
<line x1="100.10" y1="594.10" x2="100.10" y2="713.90" stroke="#ececec" stroke-width="0.6"/>
<line x1="119.85" y1="594.10" x2="119.85" y2="713.90" stroke="#ececec" stroke-width="0.6"/>
<line x1="139.60" y1="594.10" x2="139.60" y2="713.90" stroke="#ececec" stroke-width="0.6"/>
<line x1="159.35" y1="594.10" x2="159.35" y2="713.90" stroke="#ececec" stroke-width="0.6"/>
<line x1="39.90" y1="713.70" x2="160.00" y2="713.70" stroke="#ececec" stroke-width="0.6"/>
<line x1="39.90" y1="691.65" x2="160.00" y2="691.65" stroke="#ececec" stroke-width="0.6"/>
<line x1="39.90" y1="669.60" x2="160.00" y2="669.60" stroke="#ececec" stroke-width="0.6"/>
<line x1="39.90" y1="647.55" x2="160.00" y2="647.55" stroke="#ececec" stroke-width="0.6"/>
<line x1="39.90" y1="625.50" x2="160.00" y2="625.50" stroke="#ececec" stroke-width="0.6"/>
<line x1="39.90" y1="603.45" x2="160.00" y2="603.45" stroke="#ececec" stroke-width="0.6"/>
<path d="M94.5 710.6h0M93.9 713.2h0M88.3 704.6h0M92.9 698.4h0M91.0 713.5h0M92.5 707.5h0M92.9 712.1h0M95.9 712.7h0M91.1 693.8h0M93.9 708.9h0M94.1 712.2h0M85.4 703.0h0M93.6 711.5h0M95.0 711.9h0M87.3 702.0h0M89.5 710.0h0M87.1 706.3h0M95.7 710.3h0M90.0 704.5h0M90.4 709.6h0M93.8 711.2h0M91.7 711.9h0M78.7 705.2h0M89.8 711.9h0M89.2 711.3h0M91.7 713.3h0M93.0 710.2h0M83.8 713.4h0M92.3 700.7h0M93.5 706.2h0M90.7 713.1h0M95.3 711.7h0M92.4 701.2h0M84.9 710.1h0M88.8 711.9h0M92.4 697.1h0M89.2 712.3h0M83.1 705.0h0M94.2 704.8h0M95.9 708.9h0M77.3 710.3h0M80.9 708.0h0M85.0 713.5h0M89.4 695.8h0M94.5 702.2h0M85.1 707.7h0M91.3 710.8h0M91.5 709.6h0M92.6 709.9h0M87.9 705.5h0M82.5 712.1h0M94.2 711.6h0M95.2 711.2h0M88.8 713.1h0M94.5 711.6h0M89.2 710.7h0M81.2 708.0h0M88.6 711.5h0M92.5 712.5h0M92.5 712.5h0M96.1 711.5h0M90.0 712.7h0M94.9 706.8h0M82.8 712.0h0M93.1 711.8h0M95.3 712.9h0M86.7 709.5h0M96.0 705.8h0M89.3 710.5h0M87.5 707.9h0M88.4 705.3h0M90.2 703.3h0M85.3 710.3h0M93.3 703.0h0M84.5 712.9h0M92.1 696.7h0M78.3 711.3h0M89.7 713.1h0M94.7 710.4h0M91.4 712.2h0M92.5 706.3h0M89.4 711.3h0M94.3 713.6h0M95.4 704.4h0M94.7 702.7h0M91.8 713.6h0M94.8 712.4h0M95.7 713.3h0M95.5 710.8h0M91.7 711.0h0M86.1 708.6h0M90.3 712.9h0M87.3 710.3h0M92.5 709.7h0M92.6 699.6h0M93.0 698.6h0M92.8 700.9h0M90.4 704.7h0M91.6 711.7h0M87.3 712.9h0M90.9 694.9h0M92.9 701.9h0M82.5 710.6h0M92.6 709.7h0M95.7 710.5h0M95.5 712.9h0M91.1 711.2h0M90.9 705.6h0M94.5 709.3h0M89.1 689.2h0M89.2 706.4h0M96.1 713.5h0M95.7 709.6h0M92.0 713.6h0M94.9 710.1h0M85.4 699.6h0M90.0 713.1h0M95.5 710.7h0M90.0 703.6h0M88.2 713.0h0M88.4 710.8h0M95.3 710.3h0M90.0 710.7h0M94.8 709.0h0M89.1 690.9h0M91.0 711.1h0M93.5 699.8h0M84.7 683.0h0M91.2 709.3h0M95.1 707.7h0M88.2 706.2h0M90.3 711.9h0M93.0 713.7h0M86.9 700.0h0M95.3 709.1h0M88.6 711.5h0M94.4 707.0h0M91.8 713.7h0M82.2 713.7h0M92.9 713.2h0M96.1 712.8h0M88.3 702.2h0M90.8 707.4h0M91.8 704.2h0M93.2 712.9h0M89.3 712.1h0M89.1 711.7h0M93.5 699.8h0M95.6 712.3h0M81.7 697.3h0M88.7 697.9h0M93.8 700.5h0M91.9 712.4h0M94.1 713.4h0M93.5 709.7h0M93.9 713.6h0M93.9 700.8h0M83.6 711.9h0M92.7 709.3h0M87.0 713.0h0M91.4 706.6h0M92.0 706.3h0M93.3 713.5h0M93.1 698.9h0M87.4 707.2h0M96.0 705.9h0M85.8 693.9h0M81.0 707.9h0M93.6 711.3h0M96.1 713.3h0M90.4 699.3h0M93.9 701.4h0M92.8 709.4h0M95.3 704.7h0M92.8 713.6h0M92.7 706.6h0M95.5 711.8h0M94.3 710.0h0M91.8 707.2h0M86.6 709.3h0M91.1 709.8h0M92.9 711.5h0M95.1 710.3h0M91.4 709.6h0M93.5 704.4h0M95.1 711.9h0M94.0 702.6h0M85.0 708.1h0M94.9 713.2h0M94.5 702.2h0M95.0 703.6h0M91.1 705.6h0M92.3 704.3h0M91.2 713.4h0M83.1 687.1h0M86.5 713.0h0M95.5 704.8h0M91.0 709.9h0M84.7 712.8h0M94.5 710.4h0M94.8 711.8h0M92.5 708.9h0M84.5 711.2h0M95.1 710.8h0M91.8 706.8h0M93.6 710.8h0M92.1 712.2h0M93.3 699.2h0M78.5 711.7h0M93.6 708.5h0M92.2 712.1h0M86.7 713.3h0M88.0 705.3h0M94.6 702.5h0M96.0 705.8h0M94.0 707.0h0M93.3 704.8h0M95.5 713.6h0M92.8 711.0h0M81.5 711.4h0M95.2 712.1h0M93.5 702.7h0M94.1 708.6h0M87.4 707.0h0M95.1 711.0h0M90.8 696.7h0M90.1 705.0h0M88.8 692.2h0M94.1 708.9h0M93.7 704.3h0M89.8 710.3h0M88.5 701.6h0M87.1 713.5h0M96.1 707.9h0M93.2 699.0h0M93.5 712.1h0M85.2 712.8h0M88.3 708.0h0M93.5 707.2h0M95.6 713.7h0M89.6 712.1h0M84.0 696.2h0M95.3 711.9h0M94.9 711.9h0M94.8 712.9h0M89.4 707.8h0M95.8 713.2h0M89.8 708.0h0M93.4 706.2h0M91.8 706.7h0M87.3 699.5h0M90.8 708.2h0M94.5 710.9h0M91.7 710.3h0M83.1 713.0h0M91.1 708.8h0M90.3 707.4h0M90.1 699.6h0M95.3 709.4h0M95.9 710.5h0M85.7 710.7h0M90.8 713.7h0M89.8 711.7h0M91.7 707.5h0M89.8 712.2h0M83.8 710.5h0M89.8 708.7h0M95.6 708.1h0M94.0 704.9h0M90.6 711.0h0M94.6 710.6h0M95.5 706.2h0M93.1 699.6h0M89.2 708.5h0M89.0 707.7h0M95.4 711.4h0M93.5 712.8h0M85.1 703.5h0M89.8 706.0h0M84.5 712.0h0M90.8 707.4h0M90.3 706.4h0M88.6 711.8h0M94.4 711.8h0M89.7 705.9h0M94.5 703.5h0M93.1 713.3h0M91.3 703.9h0M87.5 703.7h0M93.1 713.5h0M91.1 710.9h0M89.2 706.5h0M81.4 713.5h0M93.5 704.5h0M81.5 696.8h0M88.7 709.8h0M95.6 712.4h0M89.7 706.8h0M86.8 709.9h0M95.0 703.4h0M92.5 704.5h0M93.2 706.7h0M94.4 712.2h0M95.9 712.3h0M81.5 712.4h0M92.8 710.9h0M95.7 705.1h0M92.8 712.3h0M95.6 709.8h0M89.1 703.1h0M92.7 711.3h0M94.2 701.5h0M94.4 712.3h0M92.3 713.0h0M95.3 711.1h0M92.6 712.0h0M92.8 698.1h0M92.7 711.5h0M89.8 704.8h0M94.2 706.8h0M91.6 713.2h0M95.9 705.7h0M84.1 712.0h0M95.4 704.4h0M89.8 707.0h0M92.2 705.5h0M92.3 705.8h0M92.3 696.8h0M95.6 712.4h0M95.0 709.1h0M92.5 712.6h0M90.9 712.0h0M90.8 712.2h0M91.9 713.6h0M88.8 711.9h0M92.0 706.5h0M94.2 710.6h0M93.3 711.3h0M81.5 711.4h0M87.4 713.5h0M82.9 713.2h0M92.0 713.6h0M85.5 707.0h0M89.0 711.4h0M90.7 713.5h0M92.9 711.2h0M94.3 711.4h0M95.4 710.4h0M82.1 709.6h0M89.3 706.1h0M82.6 711.6h0M94.7 706.5h0M90.4 712.7h0M90.6 703.5h0M82.5 703.7h0M87.5 712.1h0M95.1 711.5h0M85.4 712.1h0M84.1 707.1h0M94.2 712.0h0M91.8 712.0h0M95.9 711.1h0M95.6 712.2h0M95.1 703.8h0M93.5 704.2h0M89.7 713.3h0M85.5 713.1h0M92.5 703.2h0M92.7 699.0h0M91.2 708.1h0M86.4 711.8h0M89.2 712.7h0M93.0 713.2h0M95.3 705.3h0M93.7 713.6h0M87.3 712.8h0M93.0 709.9h0M93.9 709.9h0M92.4 703.5h0M81.4 712.9h0M91.9 706.6h0M91.8 712.4h0M95.1 708.8h0M92.5 710.6h0M86.5 700.7h0M88.7 713.1h0M89.0 711.5h0M91.6 712.8h0M88.5 711.4h0M88.9 704.8h0M88.0 708.4h0M86.7 708.9h0M94.4 711.1h0M88.2 712.3h0M88.9 703.8h0M91.4 711.7h0M92.1 709.4h0M95.8 706.4h0M95.6 705.0h0M92.2 711.4h0M91.4 703.7h0M89.1 703.1h0M88.3 713.2h0M86.2 711.6h0M94.6 711.6h0M90.4 692.1h0M92.9 713.4h0M92.0 710.0h0M89.2 701.2h0M80.0 712.5h0M91.6 698.3h0M95.3 713.7h0M93.2 712.1h0M95.9 712.3h0M93.8 707.2h0M92.5 707.9h0M96.0 705.9h0M95.1 710.0h0M87.1 707.4h0M90.4 711.2h0M95.3 709.4h0M89.3 710.2h0M93.3 711.2h0M84.7 700.0h0M91.8 706.8h0M87.4 710.4h0M86.5 706.0h0M90.6 710.4h0M88.3 711.5h0M95.1 711.4h0M91.9 709.6h0M90.6 704.4h0M95.8 705.4h0M89.8 711.8h0M89.7 710.6h0M88.7 706.4h0M87.4 710.5h0M91.3 713.0h0M94.0 709.3h0M87.8 713.5h0M93.1 713.3h0M95.5 704.7h0M84.2 710.7h0M90.4 703.1h0M92.1 706.0h0M95.3 709.0h0M95.4 704.4h0M93.6 709.1h0M88.7 703.6h0M94.1 712.8h0M94.9 709.5h0M90.6 712.5h0M95.1 705.7h0M93.7 713.7h0M93.6 702.8h0M94.1 712.8h0M90.1 707.0h0M90.4 710.3h0M93.3 713.4h0M95.7 705.1h0M85.7 712.9h0M95.0 707.9h0M95.5 704.6h0M88.3 690.9h0M93.3 710.3h0M92.3 712.8h0M91.2 713.0h0M95.8 712.6h0M91.2 710.7h0M95.0 708.1h0M84.8 704.7h0M91.4 706.3h0M93.4 712.6h0M95.2 711.5h0M81.8 712.3h0M79.0 710.3h0M86.7 711.8h0M90.0 707.2h0M94.4 704.3h0M84.7 688.9h0M94.8 712.0h0M89.6 713.0h0M88.1 712.9h0M88.0 698.9h0M95.2 704.2h0M93.0 707.8h0M96.1 708.8h0M88.9 711.2h0M93.7 711.3h0M96.0 705.9h0M90.8 710.4h0M82.7 709.0h0M88.9 705.6h0M84.1 708.0h0M94.4 702.0h0M86.8 710.0h0M90.8 711.4h0M93.9 713.6h0M92.7 707.0h0M92.0 696.1h0M88.4 699.9h0M94.6 708.6h0M95.8 710.7h0M87.5 699.3h0M95.6 713.1h0M94.9 707.8h0M89.9 703.6h0M92.8 706.0h0M95.1 707.6h0M91.1 706.3h0M94.6 710.3h0M95.3 707.6h0M96.0 712.0h0M91.0 708.7h0M94.4 710.3h0M95.0 711.6h0M93.9 705.7h0M95.7 706.9h0M94.3 713.1h0M95.3 711.8h0M91.6 708.3h0M94.4 702.0h0M92.9 710.4h0M94.7 705.9h0M92.0 713.1h0M90.9 693.3h0M89.0 712.7h0M94.2 712.2h0M92.3 712.6h0M94.9 713.5h0M91.1 711.0h0M89.6 711.8h0M94.3 711.8h0M94.3 705.4h0M84.9 712.4h0M93.3 699.3h0M92.7 711.5h0M95.4 704.5h0M94.7 706.7h0M88.2 713.3h0M83.0 708.4h0M95.3 704.2h0M92.6 713.0h0M89.9 704.5h0M87.2 704.8h0M90.8 706.3h0M91.9 712.7h0M93.3 708.6h0M96.0 708.0h0M83.1 705.2h0M93.6 710.2h0M93.2 710.8h0M93.1 709.6h0M88.1 712.5h0M87.4 707.8h0M90.5 713.4h0M82.1 713.0h0M86.4 693.0h0M90.4 712.6h0M91.4 701.2h0M86.0 710.3h0M87.8 713.2h0M92.9 711.3h0M95.1 711.6h0M92.5 704.7h0M91.9 711.3h0M80.6 713.5h0M93.1 707.3h0M96.1 712.4h0M91.7 712.3h0M95.4 708.5h0M93.3 708.0h0M86.7 706.7h0M95.0 710.4h0M87.8 711.1h0M91.1 710.2h0M84.8 710.1h0M95.8 709.6h0M90.0 712.5h0M95.9 712.6h0M84.2 700.4h0M91.7 712.1h0M95.2 709.9h0M95.3 704.1h0M85.5 690.2h0M93.3 707.0h0M92.0 709.4h0M93.4 699.5h0M94.5 702.2h0M92.6 707.6h0M95.4 704.5h0M87.8 713.7h0M83.4 708.9h0M92.8 710.8h0M92.6 704.2h0M92.4 705.8h0M94.4 713.0h0M85.2 712.0h0M88.1 702.3h0M82.5 707.3h0M90.3 711.8h0M94.1 707.4h0M92.1 709.6h0M92.6 711.9h0M87.9 713.3h0M95.0 703.5h0M91.1 708.3h0M87.6 706.4h0M94.9 712.0h0M95.4 708.8h0M93.3 705.9h0M92.0 708.8h0M92.1 710.2h0M83.0 694.9h0M91.0 713.3h0M94.8 707.4h0M89.8 713.6h0M93.8 702.7h0M88.0 710.5h0M89.4 712.7h0M96.1 706.2h0M87.1 708.9h0M92.6 704.5h0M90.9 699.4h0M94.5 711.1h0M93.9 709.6h0M92.9 711.3h0M90.2 713.4h0M87.9 713.2h0M84.9 705.5h0M92.9 713.0h0M87.5 710.3h0M90.7 713.1h0M89.3 707.6h0M94.2 713.4h0M91.8 698.6h0M90.6 705.2h0M95.2 712.4h0M86.2 713.5h0M93.9 713.7h0M93.5 710.3h0M94.6 703.6h0M88.4 713.7h0M93.4 710.8h0M90.4 713.1h0M89.0 711.3h0M94.5 708.5h0M93.7 702.7h0M91.2 713.5h0M82.3 706.4h0M91.5 713.5h0M93.5 713.5h0M94.0 711.6h0M88.8 713.1h0M93.3 712.0h0M87.1 713.7h0M88.8 705.1h0M90.0 704.5h0M84.6 712.8h0M87.5 707.7h0M89.2 712.8h0M84.5 700.0h0M95.5 707.1h0M92.9 705.1h0M95.1 713.5h0M87.8 703.0h0M96.0 706.6h0M92.0 711.1h0M93.6 700.1h0M94.1 712.7h0M93.5 707.8h0M86.4 713.3h0M91.4 710.5h0M90.5 707.8h0M95.0 709.0h0M91.7 709.7h0M94.5 712.5h0M94.1 704.2h0M91.0 700.4h0M91.1 710.1h0M95.6 712.7h0M89.7 710.1h0M95.7 711.4h0M93.0 710.5h0M95.4 707.8h0M91.9 712.2h0M82.6 706.5h0M89.0 700.5h0M91.1 709.0h0M94.6 705.2h0M85.0 709.0h0M93.4 699.6h0M95.0 711.1h0M96.1 706.2h0M89.1 709.1h0M92.9 709.5h0M92.7 702.5h0M93.8 708.1h0M94.0 703.6h0M94.0 713.1h0M89.1 669.2h0M87.6 683.6h0M87.9 682.9h0M80.6 663.4h0M80.4 678.0h0M90.4 677.4h0M86.8 672.5h0M84.4 661.7h0M86.0 691.7h0M84.6 661.8h0M89.4 673.9h0M83.1 687.9h0M86.1 676.2h0M87.4 689.1h0M73.7 710.4h0M75.7 713.2h0M49.3 709.4h0M73.9 708.5h0M54.5 708.1h0M51.6 710.5h0M73.3 710.6h0M68.1 710.0h0M69.5 709.4h0M61.5 712.5h0M73.3 713.0h0M78.1 709.9h0M50.3 713.1h0M65.1 710.1h0M72.1 707.8h0M77.8 708.3h0M58.7 707.7h0M67.0 708.3h0M75.5 710.9h0M53.4 711.5h0M66.3 710.2h0M60.4 708.4h0M65.0 711.2h0M70.7 713.5h0M53.3 713.3h0M62.2 713.5h0M57.7 711.8h0M72.8 711.9h0M68.0 708.4h0M53.0 712.4h0M72.1 708.6h0M60.5 713.2h0M65.5 713.6h0M71.9 712.6h0M73.3 713.1h0M67.6 712.6h0M51.1 710.4h0M56.5 712.8h0M75.6 711.0h0M61.3 709.9h0M79.8 713.3h0M65.4 710.1h0M64.0 709.1h0M67.4 713.0h0M55.3 710.4h0M77.5 710.5h0M63.1 712.9h0M69.0 708.2h0M60.3 708.7h0M59.8 709.6h0M76.0 621.1h0M85.9 648.9h0M87.1 652.0h0M87.5 661.7h0" stroke="#dba843" stroke-width="1.50" stroke-linecap="round" opacity="1" fill="none"/>
<path d="M105.3 710.1h0M110.8 702.9h0M105.7 707.6h0M115.1 693.9h0M108.8 711.4h0M104.1 713.7h0M110.0 713.3h0M114.7 708.8h0M105.8 713.7h0M144.4 705.3h0M118.0 679.5h0M104.3 713.5h0M108.7 713.0h0M124.4 692.9h0M105.2 709.2h0M104.9 709.3h0M108.1 705.5h0M106.9 709.1h0M105.4 713.7h0M117.5 707.3h0M114.2 709.7h0M127.3 702.1h0M113.5 680.4h0M109.9 694.6h0M104.9 712.3h0M115.8 709.4h0M121.3 635.2h0M107.6 710.1h0M108.1 709.2h0M139.4 710.9h0M104.2 713.7h0M112.6 666.8h0M108.7 706.0h0M109.4 695.4h0M105.7 709.7h0M109.5 700.1h0M105.4 713.3h0M106.9 699.6h0M106.9 707.1h0M106.5 713.4h0M104.5 711.9h0M114.1 703.1h0M111.8 691.6h0M119.4 633.9h0M107.6 694.5h0M125.9 708.0h0M118.5 689.7h0M107.2 712.1h0M118.1 710.1h0M104.5 711.8h0M114.0 697.5h0M116.2 713.3h0M106.1 712.3h0M107.7 712.7h0M104.5 713.3h0M119.5 630.1h0M113.2 699.0h0M106.0 703.6h0M109.1 697.4h0M104.2 713.6h0M116.3 667.4h0M118.4 680.0h0M107.8 705.4h0M116.8 704.1h0M109.2 710.5h0M113.9 713.7h0M111.8 673.7h0M104.2 713.3h0M111.0 684.2h0M109.9 710.4h0M107.5 695.5h0M119.9 710.8h0M104.7 713.6h0M104.2 713.5h0M105.1 709.2h0M111.2 712.5h0M109.2 709.4h0M108.6 711.8h0M105.3 713.3h0M107.2 703.8h0M109.4 713.5h0M112.4 676.7h0M114.0 676.3h0M104.1 713.6h0M104.5 712.1h0M105.3 709.6h0M106.0 707.8h0M106.6 713.6h0M107.4 711.2h0M119.6 702.8h0M108.7 704.2h0M123.9 711.5h0M110.2 702.8h0M113.0 666.7h0M106.5 706.1h0M109.1 703.2h0M104.5 712.0h0M129.3 711.3h0M106.6 699.5h0M104.8 713.6h0M104.6 711.7h0M113.6 700.0h0M110.6 713.7h0M111.0 704.0h0M108.9 708.2h0M107.5 712.2h0M104.4 713.2h0M106.0 707.8h0M115.5 676.9h0M108.1 711.7h0M107.3 708.3h0M110.8 678.6h0M104.6 712.7h0M108.6 699.3h0M118.9 659.4h0M110.7 690.6h0M111.5 681.8h0M112.1 690.2h0M105.9 704.6h0M107.3 705.7h0M115.7 652.4h0M134.5 713.7h0M106.6 711.8h0M107.4 713.0h0M109.5 713.3h0M106.5 701.5h0M113.2 700.0h0M104.8 709.7h0M112.2 710.6h0M106.8 706.5h0M111.7 709.3h0M124.3 697.2h0M106.0 705.4h0M105.2 710.4h0M105.5 710.2h0M106.2 711.4h0M123.0 684.7h0M107.9 704.2h0M106.3 713.1h0M107.3 711.7h0M105.5 706.4h0M104.3 712.8h0M122.4 657.3h0M104.2 713.5h0M104.3 713.1h0M112.1 709.7h0M104.1 713.6h0M104.7 713.2h0M108.1 694.9h0M107.2 713.1h0M114.6 671.5h0M109.1 713.5h0M105.4 712.0h0M109.4 711.3h0M114.9 668.2h0M121.5 635.0h0M104.2 713.4h0M104.6 711.1h0M113.3 681.4h0M105.5 713.6h0M115.4 686.6h0M110.6 703.6h0M114.9 704.2h0M106.2 711.7h0M106.4 707.7h0M118.9 712.8h0M104.5 712.9h0M111.7 711.2h0M106.2 713.6h0M104.3 713.3h0M111.7 693.0h0M105.2 713.6h0M122.0 678.7h0M107.6 703.2h0M112.8 697.4h0M104.6 711.5h0M105.7 713.7h0M107.0 708.1h0M110.7 711.8h0M112.4 699.7h0M105.2 708.7h0M115.1 661.6h0M111.7 710.5h0M114.1 666.3h0M109.2 689.4h0M127.6 710.9h0M123.2 618.3h0M114.7 713.7h0M107.0 706.6h0M110.3 691.9h0M111.0 711.9h0M122.0 679.0h0M118.4 708.2h0M146.0 708.5h0M114.1 680.1h0M118.4 699.4h0M104.6 713.0h0M105.4 711.1h0M115.4 702.4h0M105.0 713.7h0M107.7 705.5h0M104.2 713.2h0M105.6 713.5h0M121.7 681.0h0M119.2 686.4h0M104.9 713.3h0M107.8 704.0h0M113.9 679.7h0M111.1 709.9h0M107.8 709.7h0M108.6 711.1h0M109.2 706.0h0M104.3 712.7h0M110.0 690.9h0M113.0 684.4h0M137.8 711.0h0M107.4 713.7h0M111.4 697.4h0M109.8 681.6h0M105.5 713.0h0M112.9 678.8h0M108.5 713.5h0M107.2 701.2h0M108.7 706.7h0M107.4 705.3h0M110.2 695.4h0M117.5 667.5h0M107.2 712.0h0M114.3 675.2h0M121.7 707.4h0M116.7 655.8h0M104.6 713.3h0M110.8 712.3h0M116.0 706.7h0M111.8 708.3h0M105.7 713.1h0M108.7 699.2h0M105.7 708.8h0M106.8 706.4h0M107.1 712.6h0M105.1 713.7h0M112.1 703.7h0M104.9 709.7h0M111.2 713.6h0M112.7 693.7h0M108.0 706.9h0M126.0 711.1h0M110.8 696.2h0M107.1 710.9h0M113.5 689.3h0M108.1 706.3h0M105.7 707.4h0M104.2 713.3h0M108.1 711.9h0M110.0 700.5h0M104.7 712.7h0M105.3 709.1h0M106.7 711.5h0M105.7 713.6h0M105.4 713.4h0M110.6 686.0h0M105.7 713.5h0M109.2 713.0h0M107.5 701.5h0M105.6 709.1h0M109.2 713.3h0M105.9 709.3h0M104.7 713.4h0M109.8 690.8h0M109.0 700.0h0M104.1 713.7h0M106.6 701.4h0M107.0 702.7h0M104.3 713.3h0M119.0 660.2h0M109.9 711.9h0M121.6 712.4h0M126.5 704.6h0M112.6 697.5h0M105.3 712.6h0M111.4 693.7h0M107.4 701.0h0M104.4 713.5h0M104.7 713.2h0M114.6 677.2h0M105.1 712.9h0M104.8 711.5h0M108.0 711.9h0M107.2 700.0h0M107.8 702.6h0M110.7 703.3h0M109.5 708.2h0M105.5 711.2h0M106.5 711.6h0M105.4 707.1h0M107.8 712.4h0M104.3 713.6h0M117.7 701.7h0M111.4 710.3h0M111.1 703.5h0M113.0 696.8h0M107.2 711.7h0M110.1 689.0h0M111.9 701.0h0M106.7 701.4h0M116.6 711.0h0M111.7 686.2h0M111.6 674.0h0M118.2 706.4h0M142.5 711.6h0M107.3 696.5h0M105.3 712.3h0M110.7 709.6h0M106.1 705.8h0M110.4 692.2h0M114.5 667.4h0M119.1 653.3h0M129.8 709.4h0M112.2 699.1h0M127.4 706.9h0M107.8 703.2h0M106.4 713.3h0M107.3 713.1h0M104.1 713.7h0M108.1 699.4h0M104.4 712.8h0M104.8 712.3h0M106.4 710.4h0M112.4 703.3h0M107.4 702.8h0M104.9 712.9h0M112.2 680.3h0M130.1 712.3h0M110.6 708.6h0M112.2 679.6h0M105.0 712.8h0M122.5 696.2h0M110.8 687.0h0M106.2 705.6h0M104.1 713.7h0M105.3 712.6h0M105.7 713.7h0M115.0 710.6h0M109.8 702.0h0M116.8 660.2h0M110.6 711.9h0M113.7 712.7h0M121.8 700.3h0M106.0 712.9h0M107.4 701.0h0M117.0 669.7h0M112.8 709.2h0M106.7 711.8h0M107.9 696.7h0M141.1 713.5h0M126.5 701.6h0M108.2 701.3h0M114.4 710.4h0M110.5 678.9h0M118.3 645.7h0M104.6 711.8h0M108.5 692.4h0M105.3 711.2h0M104.9 710.4h0M112.7 713.6h0M106.5 713.2h0M110.8 696.5h0M104.5 711.5h0M126.6 710.2h0M109.8 708.0h0M110.3 706.4h0M108.0 700.3h0M105.4 712.7h0M113.7 709.4h0M104.5 711.4h0M105.2 712.3h0M106.6 712.3h0M107.0 708.0h0M104.9 712.1h0M104.4 713.7h0M105.6 713.0h0M106.9 711.8h0M116.2 680.3h0M108.4 698.2h0M111.8 707.6h0M110.5 691.9h0M109.2 696.0h0M110.8 680.6h0M106.1 707.9h0M129.3 709.0h0M119.9 712.1h0M112.7 708.6h0M113.4 701.6h0M109.2 711.0h0M106.0 705.0h0M111.0 696.1h0M104.9 713.1h0M127.2 712.8h0M109.2 698.1h0M108.8 703.9h0M127.6 704.5h0M105.9 711.3h0M107.7 703.0h0M111.6 709.4h0M112.0 703.1h0M104.2 713.6h0M107.2 712.6h0M111.5 672.6h0M122.1 667.9h0M117.1 691.9h0M110.0 686.3h0M104.5 713.3h0M107.2 710.9h0M107.8 713.5h0M111.7 674.2h0M105.8 713.1h0M106.8 703.3h0M105.8 707.5h0M105.3 710.8h0M112.6 689.2h0M104.6 710.6h0M116.7 693.4h0M117.2 682.8h0M105.3 712.3h0M115.6 696.2h0M104.3 713.6h0M105.4 710.6h0M111.0 703.8h0M107.5 695.5h0M106.9 705.7h0M105.6 710.9h0M105.4 713.5h0M106.8 713.3h0M107.3 705.0h0M109.4 693.5h0M108.4 713.3h0M112.8 703.4h0M113.4 663.7h0M109.0 711.1h0M107.0 708.6h0M106.6 713.4h0M107.5 704.4h0M115.4 673.8h0M118.5 658.3h0M107.6 704.3h0M104.4 712.3h0M112.3 708.9h0M108.3 711.1h0M114.7 699.7h0M114.2 664.0h0M114.1 702.8h0M106.9 699.4h0M119.8 708.5h0M107.1 702.5h0M113.5 707.5h0M108.0 693.0h0M104.7 713.3h0M111.4 679.0h0M123.8 683.3h0M114.5 657.9h0M106.7 712.5h0M106.1 706.3h0M105.1 711.7h0M121.9 707.2h0M110.7 701.1h0M126.8 709.2h0M108.6 692.4h0M113.4 711.7h0M115.0 700.9h0M127.3 700.5h0M108.6 708.0h0M105.8 712.6h0M105.6 713.3h0M112.8 713.4h0M110.2 699.4h0M113.0 694.7h0M121.7 702.3h0M104.7 712.2h0M106.2 702.2h0M121.2 663.2h0M116.1 707.6h0M108.5 708.8h0M106.9 710.7h0M108.4 701.9h0M104.2 713.4h0M105.0 708.8h0M109.4 701.5h0M106.6 705.9h0M112.4 674.2h0M109.9 710.2h0M110.7 713.5h0M113.2 706.9h0M112.6 712.2h0M110.2 712.0h0M104.3 713.6h0M116.7 699.5h0M109.0 695.1h0M129.8 712.3h0M112.0 684.5h0M114.7 703.9h0M108.4 697.8h0M106.0 710.5h0M110.8 685.1h0M105.9 708.5h0M105.7 713.3h0M108.4 702.1h0M110.9 678.7h0M105.3 711.4h0M108.4 711.2h0M120.8 710.2h0M106.1 713.7h0M111.0 694.7h0M105.7 705.4h0M110.8 711.2h0M123.1 632.3h0M106.6 702.7h0M105.0 712.8h0M107.7 694.9h0M106.4 711.1h0M105.6 707.5h0M105.4 708.0h0M106.8 708.0h0M118.1 705.4h0M109.1 700.6h0M109.8 706.7h0M111.0 708.3h0M105.2 713.7h0M110.3 700.1h0M114.8 711.1h0M111.6 702.8h0M109.0 693.3h0M109.0 707.0h0M111.0 712.2h0M117.9 688.5h0M104.3 713.2h0M123.6 608.5h0M107.8 711.5h0M122.5 701.5h0M104.2 713.6h0M108.3 701.5h0M104.5 713.3h0M112.8 705.7h0M105.3 709.6h0M107.9 702.1h0M108.5 696.3h0M108.9 687.9h0M115.3 677.6h0M108.6 702.8h0M107.2 713.5h0M118.6 657.4h0M113.8 671.5h0M109.4 684.0h0M108.4 690.5h0M104.6 713.1h0M109.7 691.1h0M109.0 695.2h0M107.2 704.7h0M114.7 688.6h0M104.2 713.3h0M104.1 713.7h0M104.9 710.8h0M105.3 709.8h0M104.6 713.5h0M112.0 674.7h0M104.5 712.5h0M107.5 705.2h0M104.6 713.7h0M104.6 711.2h0M108.6 702.7h0M105.0 710.9h0M119.6 708.2h0M114.2 670.7h0M136.6 708.4h0M111.0 707.3h0M114.2 705.9h0M110.6 697.2h0M134.5 704.4h0M104.7 713.5h0M107.0 710.3h0M112.5 708.9h0M109.5 705.7h0M106.5 707.3h0M107.9 693.1h0M105.0 709.4h0M110.9 703.6h0M104.6 712.3h0M115.0 703.5h0M112.4 697.7h0M104.7 711.0h0M106.6 709.7h0M113.7 670.8h0M117.0 700.5h0M116.7 710.8h0M109.4 706.5h0M117.5 670.4h0M111.3 685.5h0M106.9 709.7h0M104.8 713.0h0M105.5 708.8h0M105.0 709.2h0M110.2 705.0h0M104.9 712.5h0M109.6 712.5h0M129.3 711.2h0M107.9 711.2h0M107.2 711.7h0M117.0 712.9h0M107.1 706.6h0M108.4 710.1h0M108.5 713.5h0M106.5 710.4h0M113.8 700.7h0M107.7 703.9h0M106.2 709.3h0M105.5 710.1h0M109.3 699.6h0M118.0 661.0h0M134.0 712.5h0M124.7 684.6h0M107.1 709.2h0M121.1 625.7h0M115.0 705.7h0M104.9 713.4h0M111.5 690.8h0M104.5 713.7h0M139.7 711.5h0M104.3 713.3h0M104.7 711.0h0M109.1 701.4h0M121.6 710.8h0M105.7 707.7h0M110.3 705.1h0M107.0 706.4h0M123.5 614.5h0M120.8 623.6h0M105.0 713.7h0M115.9 707.5h0M109.0 706.1h0M128.5 710.2h0M105.0 713.3h0M119.8 651.6h0M105.1 708.4h0M107.2 703.6h0M109.6 689.7h0M108.6 713.6h0M109.5 690.4h0M107.6 699.4h0M108.0 709.8h0M107.0 712.3h0M108.7 689.4h0M110.0 692.3h0M105.4 712.3h0M109.9 707.3h0M104.1 713.4h0M105.0 711.2h0M130.5 712.0h0M106.2 711.9h0M109.3 685.4h0M105.1 713.2h0M119.3 704.1h0M111.4 690.0h0M104.1 713.7h0M113.6 667.5h0M112.0 701.5h0M104.8 712.4h0M104.8 713.1h0M104.3 713.3h0M108.3 710.9h0M105.7 713.6h0M104.2 713.7h0M131.2 713.7h0M112.5 701.3h0M110.0 709.3h0M130.6 703.9h0M107.5 709.0h0M120.8 709.7h0M118.0 679.3h0M109.7 702.9h0M110.1 713.1h0M106.0 711.9h0M105.7 713.6h0M112.4 702.9h0M113.1 703.4h0M123.1 704.0h0M108.9 707.5h0M114.6 711.9h0M109.4 706.0h0M110.6 710.6h0M109.3 685.1h0M104.8 709.8h0M126.9 710.1h0M104.6 712.7h0M126.2 713.7h0M113.4 679.4h0M104.9 711.8h0M105.1 713.6h0M109.0 710.2h0M111.3 700.1h0M105.8 705.2h0M104.1 713.5h0M106.3 703.3h0M110.3 704.4h0M105.7 706.7h0M117.1 645.4h0M110.0 684.5h0M119.2 671.3h0M106.8 707.1h0M106.9 702.6h0M109.5 690.0h0M119.0 662.0h0M105.6 712.4h0M104.6 713.2h0M105.2 712.9h0M114.7 712.1h0M120.8 632.2h0M114.0 708.9h0M106.4 710.3h0M110.5 682.0h0M104.2 713.7h0M115.6 713.6h0M119.1 708.9h0M129.2 709.8h0M110.3 688.5h0M115.7 699.1h0M108.2 698.3h0M106.0 712.2h0M117.8 651.7h0M115.9 703.0h0M106.9 713.4h0M116.1 713.3h0M105.4 713.7h0M108.2 691.0h0M104.5 713.4h0M106.1 707.3h0M107.0 712.9h0M112.0 676.8h0M105.3 713.6h0M107.6 696.2h0M104.5 713.6h0M111.0 689.2h0M108.1 713.6h0M109.4 713.1h0M104.6 713.7h0M122.6 711.5h0M108.4 696.4h0M105.6 712.0h0M114.6 691.3h0M105.5 710.9h0M139.3 703.7h0M126.1 713.7h0M104.5 713.0h0M104.1 713.3h0M106.4 709.0h0M118.1 695.3h0M113.8 711.4h0M108.0 700.9h0M108.3 712.4h0M117.2 700.9h0M120.4 700.9h0M115.8 711.8h0M111.6 675.0h0M110.7 705.4h0M130.6 700.5h0M115.7 708.7h0M104.7 712.2h0M105.0 713.7h0M109.5 686.1h0M106.2 705.2h0M125.8 701.0h0M104.6 713.6h0M124.9 604.0h0M105.3 713.3h0M112.4 712.8h0M104.8 713.5h0M109.8 707.7h0M116.5 710.9h0M119.3 656.9h0M107.2 706.2h0M111.6 712.5h0M122.1 688.7h0M108.9 693.0h0M104.2 713.6h0M104.3 713.0h0M105.7 708.4h0M112.5 666.6h0M105.4 712.0h0M114.5 699.0h0M105.3 710.0h0M114.7 698.6h0M107.3 713.1h0M107.5 699.2h0M107.0 698.6h0M107.0 709.0h0M114.2 665.3h0M116.6 697.6h0M108.1 713.0h0M109.2 693.1h0M105.5 712.6h0M104.5 713.0h0M108.5 689.5h0M111.5 677.8h0M105.6 711.6h0M112.2 713.2h0M109.7 699.4h0M104.2 713.6h0M114.3 711.1h0M110.9 704.9h0M107.4 698.9h0M107.4 698.5h0M115.6 690.1h0M104.8 713.1h0M124.9 701.6h0M110.0 711.5h0M112.9 687.5h0M118.9 679.6h0M104.8 710.7h0M109.8 684.6h0M109.0 709.6h0M108.0 705.5h0M112.1 693.1h0M117.3 688.0h0M105.6 707.1h0M112.4 711.7h0M108.2 696.1h0M109.8 712.8h0M117.5 669.5h0M105.5 709.3h0M117.4 684.5h0M123.9 675.0h0M104.1 713.5h0M116.0 656.4h0M113.5 666.0h0M115.0 696.6h0M104.5 713.6h0M104.4 712.0h0M115.1 661.5h0M114.1 699.0h0M109.6 713.6h0M105.2 712.3h0M104.4 713.4h0M109.0 712.5h0M105.4 713.6h0M108.2 696.8h0M108.0 701.4h0M112.5 681.1h0M114.7 695.3h0M104.4 713.6h0M106.2 711.8h0M110.2 703.2h0M106.3 713.1h0M113.1 663.8h0M112.2 712.1h0M112.0 683.3h0M109.2 700.4h0M117.4 692.5h0M112.3 711.5h0M116.2 687.5h0M105.5 710.1h0M115.7 697.2h0M106.6 705.8h0M139.7 700.6h0M106.5 709.6h0M107.2 713.1h0M109.4 710.1h0M108.4 696.0h0M109.5 683.8h0M105.6 713.2h0M104.5 712.3h0M106.3 712.7h0M110.9 676.5h0M113.4 665.0h0M122.1 679.8h0M105.7 707.8h0M105.7 713.6h0M107.2 703.2h0M110.8 705.4h0M105.0 713.4h0M110.2 703.3h0M109.3 696.0h0M109.8 688.6h0M121.0 682.7h0M107.1 708.5h0M106.0 713.1h0M112.6 701.8h0M104.2 713.5h0M106.7 713.6h0M104.2 713.3h0M115.0 668.2h0M110.2 711.0h0M110.9 709.6h0M105.8 712.2h0M105.0 713.6h0M132.7 713.5h0M127.9 706.2h0M113.2 712.5h0M111.7 710.9h0M108.8 706.8h0M119.6 712.0h0M104.1 713.6h0M109.1 700.3h0M104.7 713.1h0M112.4 694.5h0M106.6 713.7h0M104.4 712.3h0M106.2 713.6h0M106.4 712.8h0M109.3 713.5h0M109.3 699.8h0M109.2 701.7h0M105.9 711.6h0M113.3 707.6h0M115.8 709.8h0M108.4 693.4h0M111.4 709.1h0M107.1 711.7h0M113.4 704.3h0M116.2 677.0h0M116.0 691.0h0M106.3 707.1h0M107.9 713.6h0M108.1 712.4h0M104.6 713.4h0M124.9 655.0h0M107.9 705.2h0M107.3 706.8h0M106.1 705.0h0M114.7 698.8h0M109.5 708.0h0M113.9 673.0h0M121.5 711.5h0M120.0 707.0h0M104.8 712.7h0M111.0 712.7h0M111.0 677.1h0M114.2 672.7h0M105.2 712.7h0M106.0 711.7h0M118.5 633.4h0M106.1 709.4h0M110.3 680.3h0M108.1 713.1h0M104.8 713.6h0M108.4 713.3h0M112.0 711.0h0M104.3 712.8h0M108.2 699.2h0M109.8 707.4h0M104.5 711.6h0M111.7 709.3h0M104.6 712.2h0M121.9 653.5h0M121.2 618.9h0M105.0 713.4h0M108.3 713.1h0M108.5 696.1h0M106.1 705.7h0M106.0 705.9h0M104.6 713.6h0M104.4 713.0h0M104.2 713.2h0M107.7 696.6h0M107.3 700.3h0M113.4 703.9h0M114.2 690.0h0M110.1 705.8h0M105.2 711.6h0M109.0 707.1h0M131.4 713.0h0M120.3 680.0h0M104.7 712.2h0M105.4 711.3h0M108.4 697.9h0M120.2 712.7h0M118.1 643.4h0M105.2 713.6h0M108.2 713.6h0M104.9 712.1h0M105.6 710.0h0M105.6 709.3h0M110.6 713.2h0M111.8 676.0h0M138.4 713.6h0M111.9 707.4h0M107.7 708.3h0M104.4 712.8h0M105.0 709.7h0M104.8 711.9h0M109.5 713.6h0M104.9 712.3h0M107.4 712.9h0M104.8 713.4h0M115.3 711.6h0M113.5 712.4h0M115.4 672.8h0M118.4 697.5h0M128.8 710.6h0M110.7 686.6h0M105.2 713.7h0M112.0 710.1h0M105.7 710.9h0M105.3 712.9h0M105.6 713.6h0M115.4 666.2h0M112.9 701.5h0M121.2 679.8h0M109.5 713.7h0M107.0 712.5h0M111.3 676.0h0M110.7 708.4h0M116.0 712.8h0M115.0 713.4h0M126.5 705.0h0M132.4 709.6h0M111.2 705.3h0M113.4 695.6h0M108.1 698.0h0M122.9 701.7h0M106.1 702.6h0M106.8 710.9h0M109.4 710.1h0M108.1 711.2h0M108.0 698.8h0M113.7 666.0h0M122.2 702.9h0M114.2 683.4h0M110.6 702.8h0M121.1 677.9h0M122.7 711.4h0M107.0 713.2h0M112.6 701.0h0M106.6 711.4h0M108.5 710.4h0M108.6 702.3h0M104.2 713.6h0M109.0 699.9h0M110.1 693.9h0M107.9 695.5h0M113.9 696.6h0M109.7 691.8h0M106.3 712.3h0M108.7 705.6h0M104.4 713.1h0M120.9 640.1h0M109.3 697.8h0M107.2 713.5h0M115.7 691.0h0M110.4 698.3h0M128.8 711.9h0M109.7 695.0h0M111.8 676.6h0M104.3 712.6h0M104.3 713.5h0M107.0 702.5h0M118.8 683.5h0M109.5 698.5h0M104.2 713.5h0M108.1 713.6h0M106.5 712.1h0M105.0 713.4h0M107.2 705.1h0M116.8 703.5h0M114.4 681.2h0M104.8 713.4h0M118.2 710.9h0M110.7 698.9h0M115.1 673.7h0M115.5 711.5h0M112.7 673.7h0M111.4 675.5h0M104.6 712.8h0M127.1 711.9h0M106.9 711.7h0M107.2 709.5h0M108.8 711.1h0M108.7 690.7h0M106.9 712.2h0M120.7 661.7h0M114.6 663.0h0M131.6 711.8h0M104.1 713.7h0M111.3 705.6h0M119.8 653.0h0M109.7 699.9h0M107.7 712.6h0M106.4 706.1h0M108.6 705.2h0M111.2 678.0h0M104.9 713.6h0M113.9 709.6h0M109.7 703.8h0M111.5 694.3h0M107.5 705.6h0M122.4 637.6h0M108.1 700.3h0M106.4 702.5h0M104.1 713.7h0M113.8 667.1h0M109.3 704.3h0M110.3 691.9h0M107.2 705.6h0M106.0 713.6h0M104.6 713.5h0M107.5 713.1h0M114.3 683.7h0M107.3 712.7h0M107.7 697.7h0M116.2 677.6h0M107.3 700.3h0M108.8 709.4h0M119.5 669.9h0M104.4 713.7h0M108.4 698.1h0M107.9 706.4h0M105.0 711.4h0M107.6 710.2h0M105.6 710.1h0M115.9 691.0h0M110.3 700.8h0M112.4 688.6h0M104.1 713.3h0M108.6 713.5h0M112.7 683.5h0M107.1 706.5h0M104.3 712.8h0M111.6 684.6h0M108.4 692.8h0M107.6 713.7h0M104.7 713.2h0M105.8 712.9h0M104.7 712.0h0M118.8 641.2h0M107.0 708.7h0M109.1 701.9h0M112.8 702.0h0M104.2 713.6h0M104.1 713.5h0M127.2 708.3h0M111.9 696.8h0M128.2 713.0h0M109.7 708.8h0M108.2 712.0h0M114.3 704.9h0M106.1 704.7h0M104.2 713.7h0M121.7 664.2h0M105.6 713.4h0M111.6 683.0h0M144.2 701.0h0M113.4 712.9h0M114.5 699.5h0M109.1 713.7h0M104.1 713.5h0M111.0 709.5h0M126.9 713.6h0M118.0 644.6h0M104.7 711.2h0M110.5 705.0h0M107.9 706.0h0M121.6 652.6h0M108.3 707.3h0M105.3 711.1h0M117.3 679.7h0M110.2 704.8h0M132.0 703.0h0M108.9 700.2h0M115.1 707.6h0M110.7 709.3h0M113.8 706.5h0M126.1 706.2h0M109.1 702.9h0M109.9 710.2h0M104.2 713.5h0M106.4 710.1h0M105.6 713.1h0M130.1 711.0h0M113.3 711.9h0M104.7 711.9h0M107.9 699.0h0M104.2 713.5h0M110.2 711.1h0M112.5 710.7h0M104.8 713.5h0M104.4 713.3h0M114.3 710.8h0M106.3 711.7h0M105.7 706.3h0M116.1 711.9h0M111.3 679.5h0M104.1 713.6h0M104.2 713.6h0M104.9 712.4h0M105.6 708.6h0M107.3 713.4h0M109.5 705.7h0M113.1 683.1h0M106.0 711.6h0M112.6 668.5h0M109.4 700.7h0M106.8 710.0h0M106.6 709.4h0M106.3 711.9h0M104.2 713.7h0M117.6 701.2h0M126.2 712.4h0M107.1 699.7h0M108.0 702.3h0M114.1 702.5h0M105.6 713.7h0M117.4 684.7h0M114.3 658.4h0M117.8 682.1h0M104.8 712.0h0M108.5 713.2h0M104.2 713.6h0M107.2 699.8h0M137.7 701.5h0M106.7 702.6h0M107.3 710.5h0M109.8 713.6h0M111.6 713.3h0M110.0 693.4h0M104.5 712.6h0M108.8 709.3h0M114.3 705.7h0M105.5 711.9h0M107.1 701.5h0M105.6 711.9h0M114.2 698.4h0M106.8 713.1h0M107.0 708.2h0M114.2 657.3h0M109.2 704.9h0M113.6 699.2h0M106.0 707.7h0M116.0 708.6h0M117.2 713.1h0M105.5 712.2h0M119.8 688.3h0M106.9 712.3h0M108.3 704.9h0M110.2 685.5h0M104.9 710.9h0M126.0 707.7h0M112.4 681.6h0M118.7 702.0h0M108.1 696.8h0M105.2 712.0h0M126.7 710.8h0M107.9 708.7h0M108.4 698.0h0M104.8 712.5h0M107.8 694.2h0M117.0 704.7h0M106.6 699.5h0M104.1 713.4h0M104.2 713.6h0M111.0 693.7h0M110.8 710.7h0M107.5 699.0h0M106.2 709.5h0M109.5 690.1h0M115.0 672.7h0M106.8 704.5h0M119.1 712.7h0M112.7 700.6h0M107.3 705.1h0M115.2 661.5h0M114.8 660.6h0M117.4 690.0h0M112.0 675.9h0M110.0 713.3h0M107.5 703.7h0M104.2 713.7h0M116.5 677.3h0M104.2 713.3h0M110.4 706.8h0M111.0 713.0h0M105.1 710.7h0M111.7 694.8h0M107.9 712.3h0M105.0 709.1h0M106.4 710.8h0M108.8 713.7h0M106.7 712.8h0M104.8 710.1h0M105.3 712.8h0M106.2 705.9h0M117.6 678.5h0M110.8 698.0h0M104.3 713.1h0M124.7 620.6h0M120.4 711.0h0M112.4 667.4h0M105.9 712.4h0M129.6 712.4h0M105.2 710.5h0M106.7 707.2h0M106.0 712.8h0M110.0 705.6h0M111.5 698.5h0M105.9 713.0h0M104.6 713.7h0M112.4 706.6h0M104.1 713.7h0M117.0 680.9h0M105.7 707.7h0M119.1 713.1h0M105.4 709.8h0M114.1 707.8h0M108.5 709.9h0M107.3 700.4h0M109.8 698.9h0M120.0 637.0h0M111.5 713.6h0M107.1 697.3h0M108.4 713.6h0M111.5 698.4h0M112.8 695.8h0M106.3 711.3h0M105.0 712.5h0M108.8 712.9h0M104.4 712.8h0M110.9 689.1h0M108.3 713.3h0M109.0 710.2h0M119.9 707.1h0M115.2 684.3h0M106.4 708.2h0M104.5 713.4h0M112.3 713.5h0M109.5 687.9h0M126.2 704.7h0M115.8 704.4h0M107.0 712.0h0M104.5 713.7h0M104.4 713.5h0M106.8 710.8h0M108.5 695.6h0M107.1 709.0h0M115.0 698.1h0M112.7 668.0h0M119.3 704.0h0M116.4 653.3h0M105.8 713.3h0M112.8 689.4h0M105.6 705.3h0M108.3 691.0h0M108.7 698.8h0M105.0 709.9h0M108.0 712.0h0M107.8 703.4h0M118.7 662.1h0M120.8 655.1h0M107.2 712.8h0M120.1 692.0h0M125.1 653.9h0M114.5 690.1h0M105.5 711.2h0M111.4 712.7h0M107.2 701.8h0M105.7 713.7h0M105.7 711.4h0M106.3 709.6h0M106.2 710.9h0M120.9 645.2h0M113.6 700.5h0M109.5 693.0h0M105.6 712.2h0M105.0 712.2h0M106.5 706.6h0M107.1 705.5h0M109.8 700.6h0M107.8 708.9h0M104.9 711.3h0M106.7 712.0h0M119.3 694.4h0M104.8 711.8h0M107.5 709.9h0M110.3 702.9h0M119.3 702.7h0M115.3 666.5h0M106.0 713.7h0M105.2 711.5h0M117.6 693.0h0M105.9 709.5h0M114.5 662.5h0M109.5 711.9h0M109.5 704.3h0M105.6 713.5h0M118.0 704.6h0M117.8 684.4h0M104.1 713.6h0M130.7 712.9h0M112.0 713.5h0M119.1 710.7h0M110.5 691.7h0M110.0 686.7h0M105.4 706.7h0M111.1 712.8h0M104.3 713.6h0M104.9 712.8h0M104.9 713.1h0M116.9 674.3h0M106.3 713.4h0M104.7 713.2h0M104.5 713.6h0M137.3 711.6h0M116.0 713.2h0M105.2 713.7h0M109.2 690.9h0M116.9 700.8h0M114.8 701.6h0M109.0 710.4h0M106.7 706.6h0M107.3 712.5h0M106.8 713.6h0M107.2 698.3h0M109.6 710.4h0M108.3 705.5h0M105.1 711.6h0M106.2 713.4h0M105.8 712.2h0M112.5 713.4h0M108.5 703.9h0M116.7 711.2h0M114.2 704.7h0M105.0 711.1h0M112.4 667.4h0M106.0 707.6h0M123.0 677.7h0M112.0 712.4h0M106.4 711.0h0M105.4 713.5h0M107.1 705.6h0M108.8 705.0h0M108.9 697.0h0M113.0 706.1h0M104.8 713.6h0M107.0 709.9h0M112.1 712.8h0M105.7 708.3h0M116.8 706.3h0M109.5 702.7h0M106.0 710.3h0M104.4 711.7h0M105.9 704.8h0M119.0 695.4h0M105.3 712.9h0M121.7 713.0h0M106.1 712.5h0M107.0 697.6h0M107.9 695.0h0M111.1 713.7h0M107.0 711.1h0M105.4 713.0h0M105.7 706.1h0M109.6 705.9h0M106.4 707.8h0M106.9 713.7h0M105.2 709.0h0M111.9 690.2h0M107.8 704.3h0M104.2 713.3h0M116.2 683.8h0M109.0 698.8h0M114.3 701.1h0M104.9 711.6h0M111.0 678.7h0M104.2 713.3h0M120.0 713.3h0M111.7 693.5h0M115.8 690.7h0M111.7 685.1h0M105.7 713.7h0M112.4 711.6h0M104.9 713.6h0M119.1 645.8h0M108.4 699.5h0M106.3 713.4h0M110.4 709.7h0M104.4 712.6h0M104.1 713.6h0M105.4 712.8h0M107.1 703.6h0M111.0 713.2h0M106.6 708.7h0M125.4 685.1h0M115.2 669.1h0M113.5 708.8h0M105.1 709.8h0M105.7 710.9h0M107.7 704.9h0M123.6 705.3h0M104.6 711.9h0M105.8 710.1h0M106.2 704.6h0M110.8 687.1h0M107.0 712.6h0M111.5 711.3h0M104.5 711.2h0M131.3 597.3h0M123.0 601.7h0M127.8 606.5h0M125.8 615.8h0M135.7 657.7h0M128.5 621.1h0M154.6 704.9h0M147.5 708.4h0M137.6 691.7h0M143.6 710.2h0M149.5 711.1h0M129.7 660.8h0M132.5 671.8h0" stroke="#e8384a" stroke-width="1.50" stroke-linecap="round" opacity="1" fill="none"/>
<path d="M102.9 708.4h0M100.2 712.7h0M100.8 713.4h0M98.1 713.4h0M97.2 709.7h0M97.2 711.7h0M99.1 713.4h0M101.6 710.5h0M99.3 713.0h0M96.9 710.6h0M103.4 706.0h0M102.8 708.7h0M96.1 708.4h0M98.8 712.9h0M103.3 707.6h0M102.3 713.0h0M100.4 712.2h0M99.3 712.4h0M96.2 706.3h0M99.6 712.6h0M101.5 711.9h0M99.6 712.2h0M96.1 713.2h0M97.3 712.5h0M99.3 712.8h0M97.4 707.6h0M101.3 713.2h0M103.3 708.7h0M103.2 711.7h0M101.5 712.7h0M102.0 709.8h0M104.0 706.8h0M96.9 707.0h0M103.7 709.4h0M98.7 712.3h0M97.7 711.8h0M98.8 712.1h0M100.2 712.7h0M100.3 712.2h0M96.3 702.9h0M96.4 704.6h0M101.3 711.5h0M100.6 713.3h0M99.5 712.1h0M99.3 713.4h0M98.9 712.2h0M96.4 711.3h0M99.5 713.6h0M98.5 713.6h0M97.5 708.8h0M96.3 707.7h0M97.9 710.5h0M97.8 710.4h0M102.4 711.2h0M98.1 713.5h0M102.0 710.9h0M98.0 713.3h0M96.2 703.2h0M101.8 712.3h0M101.3 712.4h0M103.4 710.3h0M97.1 711.6h0M102.1 713.7h0M101.0 712.3h0M98.4 711.6h0M101.5 713.7h0M98.1 713.0h0M98.9 712.1h0M98.0 709.4h0M97.8 712.8h0M103.9 707.0h0M103.4 706.2h0M99.0 712.1h0M103.6 706.7h0M96.9 712.6h0M101.0 712.9h0M100.8 713.5h0M96.9 712.9h0M100.8 711.7h0M102.1 710.0h0M100.1 712.6h0M100.1 713.6h0M97.8 710.0h0M103.9 704.4h0M98.1 711.0h0M96.8 710.6h0M96.5 704.1h0M97.2 711.1h0M103.9 709.6h0M97.3 710.3h0M99.8 713.4h0M102.1 713.0h0M96.4 709.4h0M98.3 710.2h0M99.3 711.8h0M99.3 712.6h0M102.7 710.8h0M98.2 710.1h0M103.0 708.3h0M103.9 708.6h0M102.5 713.4h0M96.6 707.1h0M102.1 713.4h0M100.3 713.4h0M97.1 709.4h0M100.9 711.8h0M97.2 708.3h0M98.1 710.2h0M99.8 712.9h0M96.8 704.6h0M99.9 712.8h0M98.5 712.1h0M97.5 710.8h0M98.5 712.7h0M101.9 713.6h0M100.7 713.6h0M100.4 712.9h0M103.3 707.4h0M99.8 713.5h0M100.3 713.2h0M99.9 712.0h0M100.5 712.8h0M96.4 710.4h0M96.9 711.8h0M100.9 712.6h0M100.5 713.4h0M97.1 707.0h0M98.8 713.7h0M99.7 713.0h0M98.1 710.8h0M102.2 710.0h0M102.9 708.9h0M102.3 709.5h0M96.0 709.2h0M101.5 710.9h0M101.7 712.0h0M96.6 705.7h0M98.3 711.8h0M98.9 711.5h0M101.1 711.6h0M102.4 709.5h0M100.4 712.8h0M97.4 712.8h0M104.0 711.3h0M98.8 711.0h0M96.0 707.6h0M104.0 702.8h0M96.4 711.5h0M103.3 708.6h0M96.4 708.4h0M96.7 707.7h0M97.8 708.9h0M103.2 706.7h0M99.9 712.5h0M99.1 713.4h0M103.2 707.2h0M102.7 710.6h0M102.6 713.1h0M100.7 713.2h0M99.1 711.4h0M99.5 713.1h0M96.5 705.6h0M99.6 712.1h0M102.7 713.0h0M103.1 712.9h0M98.1 710.8h0M96.3 707.8h0M104.0 710.4h0M96.1 703.7h0M102.5 712.8h0M97.1 710.3h0M100.6 712.8h0M97.3 713.4h0M96.5 707.5h0M103.1 713.6h0M99.4 712.7h0M100.4 713.4h0M101.1 713.2h0M97.2 713.2h0M98.1 712.7h0M99.9 712.0h0M101.8 712.5h0M100.6 712.6h0M103.2 705.7h0M96.7 713.3h0M103.5 706.6h0M97.8 712.2h0M100.1 712.3h0M99.0 711.6h0M101.3 713.2h0M99.5 712.8h0M100.6 713.5h0M98.8 713.6h0M96.2 710.2h0M100.2 712.4h0M97.0 711.0h0M99.2 711.8h0M101.6 711.1h0M99.8 713.3h0M97.2 711.5h0M96.5 704.5h0M100.1 713.5h0M97.8 711.6h0M98.8 713.6h0M104.0 708.8h0M103.9 706.5h0M102.5 708.9h0M99.9 712.9h0M97.4 712.8h0M101.0 713.1h0M98.6 712.7h0M103.0 706.9h0M98.9 712.4h0M97.9 710.1h0M101.0 713.6h0M103.3 710.4h0M97.5 712.0h0M103.4 708.0h0M98.3 711.5h0M102.6 711.0h0M101.6 713.1h0M103.9 703.4h0M96.5 710.7h0M103.2 711.1h0M103.6 710.3h0M96.9 706.0h0M98.8 710.9h0M102.0 710.8h0M103.1 711.3h0M98.8 711.8h0M97.2 712.2h0M96.5 710.3h0M98.3 710.1h0M97.4 709.5h0M98.5 711.8h0M98.5 711.9h0M96.6 708.9h0M102.0 709.9h0M99.9 712.5h0M102.0 712.9h0M102.3 709.8h0M101.4 712.2h0M103.1 705.9h0M102.6 708.5h0M99.0 713.5h0M102.7 709.0h0M102.9 712.3h0M103.1 711.4h0M100.9 713.4h0M99.9 712.8h0M99.4 711.8h0M97.3 709.0h0M103.1 706.8h0M97.9 712.7h0M96.1 706.5h0M96.4 712.8h0M103.3 713.1h0M103.5 710.4h0M96.4 711.0h0M102.5 710.5h0M96.4 708.4h0M100.2 713.1h0M97.0 713.0h0M103.3 707.0h0M101.8 710.8h0M100.9 712.3h0M102.7 709.0h0M98.1 710.3h0M102.0 712.5h0M99.6 712.8h0M103.2 707.9h0M102.5 712.1h0M103.8 704.2h0M101.2 711.8h0M103.0 709.2h0M99.5 712.6h0M96.7 711.8h0M100.6 712.4h0M104.0 707.9h0M103.0 708.4h0M101.3 711.2h0M102.5 712.0h0M103.6 710.9h0M97.5 711.3h0M99.6 712.0h0M98.5 711.1h0M102.8 712.7h0M103.0 710.8h0M98.5 713.2h0M101.9 713.7h0M102.4 709.3h0M96.5 711.6h0M102.1 711.9h0M96.7 705.0h0M103.9 709.4h0M97.0 713.4h0M101.7 710.6h0M96.0 707.5h0M98.9 712.8h0M96.9 706.3h0M100.1 712.4h0M104.1 709.8h0M104.1 704.7h0M102.6 709.2h0M99.9 712.8h0M101.8 712.7h0M99.0 711.5h0M97.2 710.2h0M99.0 713.2h0M103.0 712.1h0M101.9 712.3h0M98.0 711.8h0M96.9 710.3h0M98.2 712.5h0M103.3 710.2h0M97.4 709.4h0M101.2 711.6h0M103.6 709.1h0M101.5 711.0h0M101.6 711.6h0M100.2 712.7h0M101.1 713.6h0M102.5 708.1h0M96.4 709.4h0M102.0 711.1h0M100.2 712.0h0M103.1 706.0h0M103.0 707.1h0M97.8 711.9h0M104.1 704.3h0M96.0 711.5h0M101.7 712.4h0M100.9 712.3h0M100.0 712.1h0M97.1 709.7h0M97.7 710.3h0M98.3 712.7h0M102.4 712.5h0M97.4 710.7h0M97.7 713.6h0M101.5 713.6h0M99.7 713.0h0M97.2 711.0h0M96.4 713.3h0M97.7 711.7h0M102.6 711.4h0M99.2 711.5h0M102.3 712.4h0M100.1 713.2h0M101.5 711.4h0" stroke="#62d6ea" stroke-width="1.50" stroke-linecap="round" opacity="1" fill="none"/>
<path d="M79.7 713.4h0M57.1 713.9h0M97.3 713.2h0M89.0 713.7h0M132.4 713.2h0M69.4 713.3h0M139.6 713.0h0M147.0 713.4h0M71.3 713.4h0M58.1 713.3h0M146.9 713.5h0M94.3 713.1h0M91.7 713.1h0M70.4 713.4h0M105.1 713.9h0M69.9 713.7h0M112.0 713.8h0M75.3 713.6h0M105.8 713.4h0M69.8 713.3h0M139.5 713.2h0M89.9 713.7h0M94.4 713.9h0M87.3 713.1h0M97.2 713.7h0M90.4 713.7h0M96.1 713.3h0M91.2 713.1h0M57.3 713.9h0M93.6 713.7h0M134.0 713.7h0M144.0 713.7h0M120.8 713.7h0M132.6 713.8h0M110.0 713.7h0M121.3 713.8h0M99.9 713.9h0M131.1 713.6h0M133.8 713.8h0M81.9 713.8h0M139.1 713.8h0M90.6 713.6h0M134.8 713.5h0M90.3 713.3h0M92.9 713.8h0M88.8 713.8h0M106.8 713.6h0M141.9 713.0h0M118.1 713.6h0M77.9 713.3h0M131.8 713.8h0M102.5 713.3h0M76.8 713.4h0M106.7 713.9h0M148.5 713.4h0M92.5 713.2h0M147.5 713.2h0M95.5 713.5h0M108.5 713.3h0M118.1 713.3h0M109.2 713.2h0M109.8 713.2h0M98.4 713.1h0M145.2 713.6h0M86.4 713.7h0M135.9 713.3h0M145.1 713.8h0M96.5 713.6h0M101.4 713.6h0M138.7 713.8h0M114.1 713.1h0M133.7 713.1h0M90.1 713.2h0M71.6 713.1h0M137.8 713.5h0M93.9 713.6h0M63.2 713.3h0M67.4 713.4h0M77.5 713.5h0M134.4 713.5h0M85.6 713.6h0M117.8 713.7h0M145.8 713.9h0M102.3 713.7h0M128.2 713.8h0M62.8 713.1h0M131.4 713.6h0M93.2 713.7h0M147.7 713.7h0M109.7 713.1h0M109.7 713.5h0M57.4 713.8h0M89.5 713.2h0M61.9 713.3h0M64.1 713.9h0M79.8 713.9h0M86.9 713.4h0M59.1 713.2h0M151.0 713.3h0M136.8 713.7h0M78.3 713.3h0M103.2 713.2h0M122.5 713.7h0M125.0 713.8h0M150.7 713.7h0M125.1 713.7h0M77.4 713.8h0M98.9 713.5h0M139.2 713.2h0M140.1 713.6h0M126.6 713.2h0M65.5 713.1h0M148.3 713.8h0M122.5 713.7h0M85.0 713.9h0M118.1 713.4h0M122.4 713.8h0M115.6 713.3h0M84.1 713.1h0M92.6 713.9h0M147.6 713.7h0M57.0 713.6h0M62.7 713.7h0M102.5 713.3h0M95.0 713.9h0M60.6 713.5h0M71.1 713.5h0M111.5 713.3h0M149.2 713.5h0M151.0 713.8h0M59.4 713.4h0M127.4 713.2h0M58.1 713.7h0M96.0 713.1h0M113.7 713.5h0M65.1 713.7h0M113.9 713.5h0M142.4 713.9h0M67.9 713.0h0M107.6 713.7h0M113.2 713.4h0M60.6 713.7h0M115.9 713.1h0M85.7 713.7h0M148.3 713.8h0M134.0 713.5h0M106.2 713.3h0M85.3 713.1h0M87.0 713.9h0M105.8 713.4h0M121.3 713.6h0M69.1 713.5h0M92.1 713.5h0M68.3 713.1h0M80.8 713.1h0M123.4 713.4h0M102.7 713.9h0M87.7 713.6h0M138.4 713.2h0M116.2 713.5h0M145.0 713.9h0M102.0 713.3h0M93.2 713.5h0M128.6 713.8h0M100.6 713.4h0M109.9 713.2h0M151.4 713.6h0M107.3 713.4h0M141.6 713.8h0M63.5 713.1h0M135.0 713.8h0M142.4 713.6h0M105.7 713.5h0M87.6 713.6h0M66.5 713.9h0M118.4 713.1h0M128.8 713.4h0M99.8 713.7h0M142.2 713.9h0M107.3 713.3h0M89.6 713.7h0M128.4 713.9h0M128.6 713.9h0M67.3 713.8h0M78.3 713.3h0M75.1 713.1h0M85.5 713.9h0M110.4 713.5h0M108.6 713.7h0M78.4 713.2h0M123.0 713.7h0M131.4 713.3h0M67.5 713.1h0M96.9 713.2h0M120.2 713.1h0M64.4 713.1h0M115.9 713.6h0M143.9 713.3h0M116.3 713.9h0M123.7 713.6h0M94.4 713.3h0M122.2 713.2h0M75.5 713.2h0M98.7 713.9h0M139.5 713.7h0M110.0 713.5h0M64.9 713.7h0M59.9 713.4h0M62.1 713.7h0M144.8 713.6h0M98.8 713.9h0M144.6 713.4h0M85.0 713.4h0M96.8 713.3h0M95.5 713.6h0M85.4 713.2h0M130.7 713.3h0M143.7 713.6h0M134.9 713.4h0M87.4 713.9h0M126.0 713.8h0M101.4 713.5h0M64.9 713.1h0M93.1 713.1h0M143.5 713.9h0M89.7 713.4h0M102.3 713.2h0M89.6 713.8h0M137.8 713.6h0M73.4 713.9h0M60.2 713.6h0M130.8 713.8h0M80.2 713.6h0M145.8 713.1h0M131.4 713.7h0M115.0 713.8h0M132.9 713.5h0M59.8 713.7h0M100.9 713.6h0M85.4 713.1h0M111.6 713.1h0M88.4 713.2h0M79.4 713.2h0M144.9 713.6h0M60.2 713.3h0M127.9 713.1h0M72.5 713.1h0M72.9 713.4h0M58.4 713.4h0M138.3 713.6h0M62.7 713.6h0M113.9 713.2h0M83.5 713.3h0M147.7 713.4h0M97.4 713.2h0M93.2 713.6h0M103.6 713.6h0M90.4 713.2h0M128.9 713.3h0M93.0 713.2h0M129.2 713.6h0M88.1 713.4h0M114.8 713.0h0M68.7 713.8h0M149.4 713.7h0M125.0 713.7h0M102.1 713.9h0M113.8 713.3h0M70.7 713.6h0M108.4 713.9h0M78.7 713.7h0M65.6 713.7h0M66.4 713.8h0M83.9 713.4h0M77.3 713.4h0M86.9 713.8h0M108.1 713.8h0M73.7 713.1h0M116.6 713.6h0M115.9 713.4h0M133.4 713.8h0M143.1 713.2h0M110.4 713.5h0M148.1 713.4h0M79.4 713.1h0M142.8 713.8h0M62.2 713.7h0M74.2 713.6h0M145.2 713.1h0M75.2 713.8h0M110.1 713.7h0M149.9 713.2h0M102.4 713.4h0M59.0 713.7h0M102.9 713.4h0M117.6 713.1h0M85.5 713.4h0M80.8 713.9h0M93.7 713.8h0M148.2 713.6h0" stroke="#62d6ea" stroke-width="1.40" stroke-linecap="round" opacity="1" fill="none"/>
<line x1="96" y1="594.1" x2="96" y2="713.9" stroke="#555" stroke-width="0.7" stroke-dasharray="1.2 0.8"/>
<line x1="103.9" y1="594.1" x2="103.9" y2="713.9" stroke="#555" stroke-width="0.7" stroke-dasharray="1.2 0.8"/>
<rect x="39.90" y="594.10" width="120.10" height="119.80" fill="none" stroke="#999" stroke-width="0.9"/>
<line x1="38.10" y1="713.70" x2="39.90" y2="713.70" stroke="#333" stroke-width="0.6"/>
<text x="37.3" y="715.9" font-size="6.4" fill="#333" text-anchor="end">0</text>
<line x1="38.10" y1="669.60" x2="39.90" y2="669.60" stroke="#333" stroke-width="0.6"/>
<text x="37.3" y="671.8" font-size="6.4" fill="#333" text-anchor="end">100</text>
<line x1="38.10" y1="625.50" x2="39.90" y2="625.50" stroke="#333" stroke-width="0.6"/>
<text x="37.3" y="627.7" font-size="6.4" fill="#333" text-anchor="end">200</text>
<line x1="60.60" y1="713.90" x2="60.60" y2="715.70" stroke="#333" stroke-width="0.6"/>
<text x="60.6" y="721.5" font-size="6.4" fill="#333" text-anchor="middle">-10</text>
<line x1="100.10" y1="713.90" x2="100.10" y2="715.70" stroke="#333" stroke-width="0.6"/>
<text x="100.1" y="721.5" font-size="6.4" fill="#333" text-anchor="middle">0</text>
<line x1="139.60" y1="713.90" x2="139.60" y2="715.70" stroke="#333" stroke-width="0.6"/>
<text x="139.6" y="721.5" font-size="6.4" fill="#333" text-anchor="middle">10</text>
<text x="100.2" y="729.0" font-size="6.6" fill="#222" text-anchor="middle">log2(FC)</text>
<text x="25.2" y="655" font-size="6.6" fill="#222" text-anchor="middle" transform="rotate(-90 25.2 655)">-log10(FDR)</text>
<circle cx="167.9" cy="645.3" r="1.6" fill="#e8384a"/>
<text x="171.5" y="647.7" font-size="6.2" fill="#444" text-anchor="start">up</text>
<circle cx="167.9" cy="653.2" r="1.6" fill="#62d6ea"/>
<text x="171.5" y="655.6" font-size="6.2" fill="#444" text-anchor="start">nodiff</text>
<circle cx="167.9" cy="661.4" r="1.6" fill="#dba843"/>
<text x="171.5" y="663.8" font-size="6.2" fill="#444" text-anchor="start">down</text>
<text x="0.9" y="748.7" font-size="12.9" fill="#000" font-weight="bold" text-anchor="start">L</text>
<rect x="52.80" y="759.30" width="15.80" height="14.50" fill="#8fb0d0"/>
<rect x="68.60" y="759.30" width="15.90" height="14.50" fill="#8fb0d0"/>
<rect x="84.50" y="759.30" width="15.20" height="14.50" fill="#8eaed0"/>
<rect x="99.70" y="759.30" width="15.80" height="14.50" fill="#e26a62"/>
<rect x="115.50" y="759.30" width="15.20" height="14.50" fill="#e89a88"/>
<rect x="130.70" y="759.30" width="15.70" height="14.50" fill="#f3dcba"/>
<rect x="52.80" y="773.80" width="15.80" height="14.50" fill="#8aaccf"/>
<rect x="68.60" y="773.80" width="15.90" height="14.50" fill="#86a8cf"/>
<rect x="84.50" y="773.80" width="15.20" height="14.50" fill="#8eaed0"/>
<rect x="99.70" y="773.80" width="15.80" height="14.50" fill="#e8a08e"/>
<rect x="115.50" y="773.80" width="15.20" height="14.50" fill="#e5907f"/>
<rect x="130.70" y="773.80" width="15.70" height="14.50" fill="#e59888"/>
<rect x="52.80" y="788.30" width="15.80" height="14.50" fill="#92b2d2"/>
<rect x="68.60" y="788.30" width="15.90" height="14.50" fill="#92b2d2"/>
<rect x="84.50" y="788.30" width="15.20" height="14.50" fill="#7ea2d2"/>
<rect x="99.70" y="788.30" width="15.80" height="14.50" fill="#e8988a"/>
<rect x="115.50" y="788.30" width="15.20" height="14.50" fill="#eaa896"/>
<rect x="130.70" y="788.30" width="15.70" height="14.50" fill="#e59584"/>
<rect x="52.80" y="802.80" width="15.80" height="14.50" fill="#90b0d0"/>
<rect x="68.60" y="802.80" width="15.90" height="14.50" fill="#92b2d2"/>
<rect x="84.50" y="802.80" width="15.20" height="14.50" fill="#7ea2d2"/>
<rect x="99.70" y="802.80" width="15.80" height="14.50" fill="#e8998a"/>
<rect x="115.50" y="802.80" width="15.20" height="14.50" fill="#eaa694"/>
<rect x="130.70" y="802.80" width="15.70" height="14.50" fill="#e38a7c"/>
<rect x="52.80" y="817.30" width="15.80" height="14.50" fill="#8eaed0"/>
<rect x="68.60" y="817.30" width="15.90" height="14.50" fill="#8aacd0"/>
<rect x="84.50" y="817.30" width="15.20" height="14.50" fill="#86a8d0"/>
<rect x="99.70" y="817.30" width="15.80" height="14.50" fill="#e8a08e"/>
<rect x="115.50" y="817.30" width="15.20" height="14.50" fill="#e9a592"/>
<rect x="130.70" y="817.30" width="15.70" height="14.50" fill="#e28578"/>
<rect x="52.80" y="831.80" width="15.80" height="14.50" fill="#92b2d2"/>
<rect x="68.60" y="831.80" width="15.90" height="14.50" fill="#92b2d2"/>
<rect x="84.50" y="831.80" width="15.20" height="14.50" fill="#7ea2d2"/>
<rect x="99.70" y="831.80" width="15.80" height="14.50" fill="#e5907f"/>
<rect x="115.50" y="831.80" width="15.20" height="14.50" fill="#ebb09a"/>
<rect x="130.70" y="831.80" width="15.70" height="14.50" fill="#e7987f"/>
<rect x="52.80" y="846.30" width="15.80" height="14.50" fill="#8eaed0"/>
<rect x="68.60" y="846.30" width="15.90" height="14.50" fill="#92b2d2"/>
<rect x="84.50" y="846.30" width="15.20" height="14.50" fill="#7ea2d2"/>
<rect x="99.70" y="846.30" width="15.80" height="14.50" fill="#e68e80"/>
<rect x="115.50" y="846.30" width="15.20" height="14.50" fill="#e3807a"/>
<rect x="130.70" y="846.30" width="15.70" height="14.50" fill="#efc2a4"/>
<rect x="52.80" y="860.80" width="15.80" height="14.50" fill="#7ea2d2"/>
<rect x="68.60" y="860.80" width="15.90" height="14.50" fill="#92b2d2"/>
<rect x="84.50" y="860.80" width="15.20" height="14.50" fill="#8aacd0"/>
<rect x="99.70" y="860.80" width="15.80" height="14.50" fill="#e9a08e"/>
<rect x="115.50" y="860.80" width="15.20" height="14.50" fill="#ebb09c"/>
<rect x="130.70" y="860.80" width="15.70" height="14.50" fill="#e48d80"/>
<rect x="52.80" y="875.30" width="15.80" height="14.50" fill="#8eaed0"/>
<rect x="68.60" y="875.30" width="15.90" height="14.50" fill="#8eaed0"/>
<rect x="84.50" y="875.30" width="15.20" height="14.50" fill="#82a6d2"/>
<rect x="99.70" y="875.30" width="15.80" height="14.50" fill="#eaa896"/>
<rect x="115.50" y="875.30" width="15.20" height="14.50" fill="#e9a08e"/>
<rect x="130.70" y="875.30" width="15.70" height="14.50" fill="#e6907f"/>
<rect x="52.80" y="889.80" width="15.80" height="14.50" fill="#92b2d2"/>
<rect x="68.60" y="889.80" width="15.90" height="14.50" fill="#8eaed0"/>
<rect x="84.50" y="889.80" width="15.20" height="14.50" fill="#7ea2d2"/>
<rect x="99.70" y="889.80" width="15.80" height="14.50" fill="#e5907f"/>
<rect x="115.50" y="889.80" width="15.20" height="14.50" fill="#ebae98"/>
<rect x="130.70" y="889.80" width="15.70" height="14.50" fill="#e9a08e"/>
<line x1="52.80" y1="759.30" x2="52.80" y2="904.30" stroke="#111" stroke-width="0.8"/>
<line x1="68.60" y1="759.30" x2="68.60" y2="904.30" stroke="#111" stroke-width="0.8"/>
<line x1="84.50" y1="759.30" x2="84.50" y2="904.30" stroke="#111" stroke-width="0.8"/>
<line x1="99.70" y1="759.30" x2="99.70" y2="904.30" stroke="#111" stroke-width="0.8"/>
<line x1="115.50" y1="759.30" x2="115.50" y2="904.30" stroke="#111" stroke-width="0.8"/>
<line x1="130.70" y1="759.30" x2="130.70" y2="904.30" stroke="#111" stroke-width="0.8"/>
<line x1="146.40" y1="759.30" x2="146.40" y2="904.30" stroke="#111" stroke-width="0.8"/>
<line x1="52.80" y1="759.30" x2="146.40" y2="759.30" stroke="#111" stroke-width="0.8"/>
<line x1="52.80" y1="773.80" x2="146.40" y2="773.80" stroke="#111" stroke-width="0.8"/>
<line x1="52.80" y1="788.30" x2="146.40" y2="788.30" stroke="#111" stroke-width="0.8"/>
<line x1="52.80" y1="802.80" x2="146.40" y2="802.80" stroke="#111" stroke-width="0.8"/>
<line x1="52.80" y1="817.30" x2="146.40" y2="817.30" stroke="#111" stroke-width="0.8"/>
<line x1="52.80" y1="831.80" x2="146.40" y2="831.80" stroke="#111" stroke-width="0.8"/>
<line x1="52.80" y1="846.30" x2="146.40" y2="846.30" stroke="#111" stroke-width="0.8"/>
<line x1="52.80" y1="860.80" x2="146.40" y2="860.80" stroke="#111" stroke-width="0.8"/>
<line x1="52.80" y1="875.30" x2="146.40" y2="875.30" stroke="#111" stroke-width="0.8"/>
<line x1="52.80" y1="889.80" x2="146.40" y2="889.80" stroke="#111" stroke-width="0.8"/>
<line x1="52.80" y1="904.30" x2="146.40" y2="904.30" stroke="#111" stroke-width="0.8"/>
<text x="148.9" y="769.3" font-size="8" fill="#222" text-anchor="start">Il10</text>
<text x="148.9" y="783.8" font-size="8" fill="#222" text-anchor="start">Nfkbia</text>
<text x="148.9" y="798.3" font-size="8" fill="#222" text-anchor="start">Nfkbie</text>
<text x="148.9" y="812.8" font-size="8" fill="#222" text-anchor="start">Sod2</text>
<text x="148.9" y="827.3" font-size="8" fill="#222" text-anchor="start">Il1rn</text>
<text x="148.9" y="841.8" font-size="8" fill="#222" text-anchor="start">Foxo3</text>
<text x="148.9" y="856.3" font-size="8" fill="#222" text-anchor="start">Kras</text>
<text x="148.9" y="870.8" font-size="8" fill="#222" text-anchor="start">Nras</text>
<text x="148.9" y="885.3" font-size="8" fill="#222" text-anchor="start">Braf</text>
<text x="148.9" y="899.8" font-size="8" fill="#222" text-anchor="start">Pik3ca</text>
<rect x="52.80" y="750.80" width="46.90" height="8.00" fill="#ee8c3c"/>
<rect x="99.70" y="750.80" width="46.70" height="8.00" fill="#f5cfa0"/>
<polyline points="60.7,750.8 60.7,745.8 76.5,745.8 76.5,750.8" fill="none" stroke="#444" stroke-width="0.6"/>
<polyline points="68.6,745.8 68.6,742.2 92.1,742.2 92.1,750.8" fill="none" stroke="#444" stroke-width="0.6"/>
<polyline points="107.6,750.8 107.6,745.2 123.1,745.2 123.1,750.8" fill="none" stroke="#444" stroke-width="0.6"/>
<polyline points="115.3,745.2 115.3,742.2 138.6,742.2 138.6,750.8" fill="none" stroke="#444" stroke-width="0.6"/>
<polyline points="80.4,742.2 80.4,738.4 127.0,738.4 127.0,742.2" fill="none" stroke="#444" stroke-width="0.6"/>
<defs><linearGradient id="hm" x1="0" y1="0" x2="0" y2="1"><stop offset="0" stop-color="#dc3328"/><stop offset="0.25" stop-color="#e8805c"/><stop offset="0.42" stop-color="#f2d090"/><stop offset="0.52" stop-color="#f6f8c4"/><stop offset="0.68" stop-color="#b4c8a8"/><stop offset="0.85" stop-color="#7d9cc0"/><stop offset="1" stop-color="#4a76c0"/></linearGradient><linearGradient id="qv" x1="0" y1="0" x2="0" y2="1"><stop offset="0" stop-color="#d24a50"/><stop offset="0.5" stop-color="#a07080"/><stop offset="1" stop-color="#5a9ae6"/></linearGradient></defs>
<rect x="40.90" y="792.20" width="9.00" height="62.20" fill="url(#hm)"/>
<line x1="40.90" y1="799.50" x2="42.30" y2="799.50" stroke="#fff" stroke-width="0.6"/>
<line x1="48.50" y1="799.50" x2="49.90" y2="799.50" stroke="#fff" stroke-width="0.6"/>
<text x="39.4" y="802.1" font-size="8.6" fill="#333" text-anchor="end">1</text>
<line x1="40.90" y1="812.10" x2="42.30" y2="812.10" stroke="#fff" stroke-width="0.6"/>
<line x1="48.50" y1="812.10" x2="49.90" y2="812.10" stroke="#fff" stroke-width="0.6"/>
<text x="39.4" y="814.7" font-size="8.6" fill="#333" text-anchor="end">0.5</text>
<line x1="40.90" y1="825.00" x2="42.30" y2="825.00" stroke="#fff" stroke-width="0.6"/>
<line x1="48.50" y1="825.00" x2="49.90" y2="825.00" stroke="#fff" stroke-width="0.6"/>
<text x="39.4" y="827.6" font-size="8.6" fill="#333" text-anchor="end">0</text>
<line x1="40.90" y1="838.40" x2="42.30" y2="838.40" stroke="#fff" stroke-width="0.6"/>
<line x1="48.50" y1="838.40" x2="49.90" y2="838.40" stroke="#fff" stroke-width="0.6"/>
<text x="39.4" y="841.0" font-size="8.6" fill="#333" text-anchor="end">-0.5</text>
<line x1="40.90" y1="851.50" x2="42.30" y2="851.50" stroke="#fff" stroke-width="0.6"/>
<line x1="48.50" y1="851.50" x2="49.90" y2="851.50" stroke="#fff" stroke-width="0.6"/>
<text x="39.4" y="854.1" font-size="8.6" fill="#333" text-anchor="end">-1</text>
<text x="26.0" y="833.7" font-size="9.6" fill="#000" text-anchor="middle" transform="rotate(-90 26.0 833.7)">heatmap</text>
<rect x="34.50" y="911.00" width="19.50" height="11.10" fill="#ee8c3c"/>
<text x="56.4" y="920.4" font-size="9.5" fill="#111" font-weight="bold" text-anchor="start">LPS</text>
<rect x="106.60" y="911.00" width="19.50" height="11.10" fill="#f5cfa0"/>
<text x="128.5" y="920.4" font-size="9.5" fill="#111" font-weight="bold" text-anchor="start">LPS+HAPP@H-EXO</text>
<text x="186.0" y="580.9" font-size="12.9" fill="#000" font-weight="bold" text-anchor="start">M</text>
<line x1="325.4" y1="587.9" x2="325.4" y2="837.9" stroke="#cfcfcf" stroke-width="0.5" stroke-dasharray="1.6 1.2"/>
<line x1="345.2" y1="587.9" x2="345.2" y2="837.9" stroke="#cfcfcf" stroke-width="0.5" stroke-dasharray="1.6 1.2"/>
<line x1="365.0" y1="587.9" x2="365.0" y2="837.9" stroke="#cfcfcf" stroke-width="0.5" stroke-dasharray="1.6 1.2"/>
<line x1="384.8" y1="587.9" x2="384.8" y2="837.9" stroke="#cfcfcf" stroke-width="0.5" stroke-dasharray="1.6 1.2"/>
<line x1="404.6" y1="587.9" x2="404.6" y2="837.9" stroke="#cfcfcf" stroke-width="0.5" stroke-dasharray="1.6 1.2"/>
<line x1="319.3" y1="596.1" x2="417.4" y2="596.1" stroke="#cfcfcf" stroke-width="0.5" stroke-dasharray="1.6 1.2"/>
<line x1="317.30" y1="596.10" x2="319.30" y2="596.10" stroke="#333" stroke-width="0.5"/>
<text x="315.8" y="599.4" font-size="9.8" font-weight="bold" fill="#f02020" text-anchor="end" textLength="92.1" lengthAdjust="spacingAndGlyphs">Inflammatory response</text>
<circle cx="380.4" cy="596.1" r="2.2" fill="#c84444"/>
<line x1="319.3" y1="611.8" x2="417.4" y2="611.8" stroke="#cfcfcf" stroke-width="0.5" stroke-dasharray="1.6 1.2"/>
<line x1="317.30" y1="611.77" x2="319.30" y2="611.77" stroke="#333" stroke-width="0.5"/>
<text x="316.0" y="613.9" font-size="5.95" fill="#111" text-anchor="end">Regulation of inflammatory response</text>
<circle cx="377.7" cy="611.8" r="1.3" fill="#4e66b0"/>
<line x1="319.3" y1="627.4" x2="417.4" y2="627.4" stroke="#cfcfcf" stroke-width="0.5" stroke-dasharray="1.6 1.2"/>
<line x1="317.30" y1="627.44" x2="319.30" y2="627.44" stroke="#333" stroke-width="0.5"/>
<text x="316.0" y="629.5" font-size="5.95" fill="#111" text-anchor="end">Negative regulation of inflammatory response</text>
<circle cx="382.0" cy="627.4" r="0.8" fill="#4a78d0"/>
<line x1="319.3" y1="643.1" x2="417.4" y2="643.1" stroke="#cfcfcf" stroke-width="0.5" stroke-dasharray="1.6 1.2"/>
<line x1="317.30" y1="643.11" x2="319.30" y2="643.11" stroke="#333" stroke-width="0.5"/>
<text x="316.0" y="645.2" font-size="5.95" fill="#111" text-anchor="end">Lymphocyte differentiation</text>
<circle cx="371.3" cy="643.1" r="1.4" fill="#4f5ea8"/>
<line x1="319.3" y1="658.8" x2="417.4" y2="658.8" stroke="#cfcfcf" stroke-width="0.5" stroke-dasharray="1.6 1.2"/>
<line x1="317.30" y1="658.78" x2="319.30" y2="658.78" stroke="#333" stroke-width="0.5"/>
<text x="315.8" y="662.1" font-size="9.8" font-weight="bold" fill="#f02020" text-anchor="end" textLength="105" lengthAdjust="spacingAndGlyphs">Response to oxidative stress</text>
<circle cx="389.2" cy="658.8" r="1.6" fill="#b04a55"/>
<line x1="319.3" y1="674.5" x2="417.4" y2="674.5" stroke="#cfcfcf" stroke-width="0.5" stroke-dasharray="1.6 1.2"/>
<line x1="317.30" y1="674.45" x2="319.30" y2="674.45" stroke="#333" stroke-width="0.5"/>
<text x="316.0" y="676.6" font-size="5.95" fill="#111" text-anchor="end">Cellular response to oxidative stress</text>
<circle cx="389.6" cy="674.5" r="1.1" fill="#7a5a78"/>
<line x1="319.3" y1="690.1" x2="417.4" y2="690.1" stroke="#cfcfcf" stroke-width="0.5" stroke-dasharray="1.6 1.2"/>
<line x1="317.30" y1="690.12" x2="319.30" y2="690.12" stroke="#333" stroke-width="0.5"/>
<text x="316.0" y="692.2" font-size="5.95" fill="#111" text-anchor="end">Response to reactive oxygen species</text>
<circle cx="386.0" cy="690.1" r="1.0" fill="#4a72c4"/>
<line x1="319.3" y1="705.8" x2="417.4" y2="705.8" stroke="#cfcfcf" stroke-width="0.5" stroke-dasharray="1.6 1.2"/>
<line x1="317.30" y1="705.79" x2="319.30" y2="705.79" stroke="#333" stroke-width="0.5"/>
<text x="315.8" y="709.1" font-size="9.8" font-weight="bold" fill="#f02020" text-anchor="end" textLength="108.4" lengthAdjust="spacingAndGlyphs">Positive regulation of cell cycle</text>
<circle cx="400.6" cy="705.8" r="1.5" fill="#b03a44"/>
<line x1="319.3" y1="721.5" x2="417.4" y2="721.5" stroke="#cfcfcf" stroke-width="0.5" stroke-dasharray="1.6 1.2"/>
<line x1="317.30" y1="721.46" x2="319.30" y2="721.46" stroke="#333" stroke-width="0.5"/>
<text x="316.0" y="723.6" font-size="5.95" fill="#111" text-anchor="end">Regulation of cell differentiation</text>
<circle cx="356.7" cy="721.5" r="3.9" fill="#a46464"/>
<line x1="319.3" y1="737.1" x2="417.4" y2="737.1" stroke="#cfcfcf" stroke-width="0.5" stroke-dasharray="1.6 1.2"/>
<line x1="317.30" y1="737.13" x2="319.30" y2="737.13" stroke="#333" stroke-width="0.5"/>
<text x="316.0" y="739.2" font-size="5.95" fill="#111" text-anchor="end">Mitochondrial membrane</text>
<circle cx="342.4" cy="737.1" r="1.9" fill="#4a90e2"/>
<line x1="319.3" y1="752.8" x2="417.4" y2="752.8" stroke="#cfcfcf" stroke-width="0.5" stroke-dasharray="1.6 1.2"/>
<line x1="317.30" y1="752.80" x2="319.30" y2="752.80" stroke="#333" stroke-width="0.5"/>
<text x="316.0" y="754.9" font-size="5.95" fill="#111" text-anchor="end">Polymeric cytoskeletal fiber</text>
<circle cx="342.0" cy="752.8" r="1.9" fill="#4a90e2"/>
<line x1="319.3" y1="768.5" x2="417.4" y2="768.5" stroke="#cfcfcf" stroke-width="0.5" stroke-dasharray="1.6 1.2"/>
<line x1="317.30" y1="768.47" x2="319.30" y2="768.47" stroke="#333" stroke-width="0.5"/>
<text x="316.0" y="770.6" font-size="5.95" fill="#111" text-anchor="end">Mitochondrial envelope</text>
<circle cx="343.2" cy="768.5" r="2.0" fill="#4a90e2"/>
<line x1="319.3" y1="784.1" x2="417.4" y2="784.1" stroke="#cfcfcf" stroke-width="0.5" stroke-dasharray="1.6 1.2"/>
<line x1="317.30" y1="784.14" x2="319.30" y2="784.14" stroke="#333" stroke-width="0.5"/>
<text x="316.0" y="786.2" font-size="5.95" fill="#111" text-anchor="end">Signal release</text>
<circle cx="344.4" cy="784.1" r="1.4" fill="#4a90e2"/>
<line x1="319.3" y1="799.8" x2="417.4" y2="799.8" stroke="#cfcfcf" stroke-width="0.5" stroke-dasharray="1.6 1.2"/>
<line x1="317.30" y1="799.81" x2="319.30" y2="799.81" stroke="#333" stroke-width="0.5"/>
<text x="316.0" y="801.9" font-size="5.95" fill="#111" text-anchor="end">Alcohol metabolic process</text>
<circle cx="348.8" cy="799.8" r="1.0" fill="#4a90e2"/>
<line x1="319.3" y1="815.5" x2="417.4" y2="815.5" stroke="#cfcfcf" stroke-width="0.5" stroke-dasharray="1.6 1.2"/>
<line x1="317.30" y1="815.48" x2="319.30" y2="815.48" stroke="#333" stroke-width="0.5"/>
<text x="316.0" y="817.6" font-size="5.95" fill="#111" text-anchor="end">Regulation of anatomical structure size</text>
<circle cx="347.6" cy="815.5" r="1.2" fill="#4a90e2"/>
<line x1="319.3" y1="831.2" x2="417.4" y2="831.2" stroke="#cfcfcf" stroke-width="0.5" stroke-dasharray="1.6 1.2"/>
<line x1="317.30" y1="831.15" x2="319.30" y2="831.15" stroke="#333" stroke-width="0.5"/>
<text x="316.0" y="833.3" font-size="5.95" fill="#111" text-anchor="end">Embryonic organ development</text>
<circle cx="346.4" cy="831.2" r="1.2" fill="#4a90e2"/>
<rect x="319.30" y="587.90" width="98.10" height="250.00" fill="none" stroke="#555" stroke-width="0.8"/>
<line x1="325.40" y1="837.90" x2="325.40" y2="839.70" stroke="#333" stroke-width="0.5"/>
<text x="325.4" y="846.3" font-size="6.6" fill="#333" text-anchor="middle">0.25</text>
<line x1="345.20" y1="837.90" x2="345.20" y2="839.70" stroke="#333" stroke-width="0.5"/>
<text x="345.2" y="846.3" font-size="6.6" fill="#333" text-anchor="middle">0.3</text>
<line x1="365.00" y1="837.90" x2="365.00" y2="839.70" stroke="#333" stroke-width="0.5"/>
<text x="365.0" y="846.3" font-size="6.6" fill="#333" text-anchor="middle">0.35</text>
<line x1="384.80" y1="837.90" x2="384.80" y2="839.70" stroke="#333" stroke-width="0.5"/>
<text x="384.8" y="846.3" font-size="6.6" fill="#333" text-anchor="middle">0.4</text>
<line x1="404.60" y1="837.90" x2="404.60" y2="839.70" stroke="#333" stroke-width="0.5"/>
<text x="404.6" y="846.3" font-size="6.6" fill="#333" text-anchor="middle">0.45</text>
<text x="368.7" y="858.4" font-size="8.3" fill="#111" text-anchor="middle">Gene Ratio</text>
<text x="204.7" y="713" font-size="9.4" fill="#111" text-anchor="middle" textLength="31.6" lengthAdjust="spacingAndGlyphs" transform="rotate(-90 204.7 713)">GO Term</text>
<text x="327.0" y="865.3" font-size="5.9" fill="#333" text-anchor="start">Gene number</text>
<circle cx="330.8" cy="874.7" r="0.7" fill="#606060"/>
<text x="340.3" y="875.7" font-size="5.9" fill="#333" text-anchor="start">59</text>
<circle cx="330.8" cy="886.1" r="1.4" fill="#606060"/>
<text x="340.3" y="887.1" font-size="5.9" fill="#333" text-anchor="start">183</text>
<circle cx="330.8" cy="896.7" r="2.1" fill="#606060"/>
<text x="340.3" y="897.7" font-size="5.9" fill="#333" text-anchor="start">307</text>
<circle cx="330.8" cy="908.1" r="2.8" fill="#606060"/>
<text x="340.3" y="909.1" font-size="5.9" fill="#333" text-anchor="start">431</text>
<circle cx="330.8" cy="919.1" r="3.5" fill="#606060"/>
<text x="340.3" y="920.1" font-size="5.9" fill="#333" text-anchor="start">555</text>
<text x="379.4" y="871.5" font-size="5.6" fill="#333" text-anchor="start">-log<tspan font-size="3.8" dy="1.2">10</tspan><tspan dy="-1.2">(Qvalue)</tspan></text>
<rect x="378.20" y="878.50" width="5.80" height="39.10" fill="url(#qv)"/>
<line x1="378.20" y1="883.50" x2="379.40" y2="883.50" stroke="#fff" stroke-width="0.5"/>
<line x1="382.80" y1="883.50" x2="384.00" y2="883.50" stroke="#fff" stroke-width="0.5"/>
<text x="386.5" y="885.5" font-size="5.6" fill="#333" text-anchor="start">10</text>
<line x1="378.20" y1="891.80" x2="379.40" y2="891.80" stroke="#fff" stroke-width="0.5"/>
<line x1="382.80" y1="891.80" x2="384.00" y2="891.80" stroke="#fff" stroke-width="0.5"/>
<text x="386.5" y="893.8" font-size="5.6" fill="#333" text-anchor="start">7.5</text>
<line x1="378.20" y1="901.30" x2="379.40" y2="901.30" stroke="#fff" stroke-width="0.5"/>
<line x1="382.80" y1="901.30" x2="384.00" y2="901.30" stroke="#fff" stroke-width="0.5"/>
<text x="386.5" y="903.3" font-size="5.6" fill="#333" text-anchor="start">5</text>
<line x1="378.20" y1="909.60" x2="379.40" y2="909.60" stroke="#fff" stroke-width="0.5"/>
<line x1="382.80" y1="909.60" x2="384.00" y2="909.60" stroke="#fff" stroke-width="0.5"/>
<text x="386.5" y="911.6" font-size="5.6" fill="#333" text-anchor="start">2.5</text>
<text x="431.0" y="580.7" font-size="12.9" fill="#000" font-weight="bold" text-anchor="start">N</text>
<line x1="590.2" y1="588.4" x2="590.2" y2="842.2" stroke="#cfcfcf" stroke-width="0.5" stroke-dasharray="1.6 1.2"/>
<line x1="615.3" y1="588.4" x2="615.3" y2="842.2" stroke="#cfcfcf" stroke-width="0.5" stroke-dasharray="1.6 1.2"/>
<line x1="640.4" y1="588.4" x2="640.4" y2="842.2" stroke="#cfcfcf" stroke-width="0.5" stroke-dasharray="1.6 1.2"/>
<line x1="665.5" y1="588.4" x2="665.5" y2="842.2" stroke="#cfcfcf" stroke-width="0.5" stroke-dasharray="1.6 1.2"/>
<line x1="580.5" y1="596.0" x2="680.7" y2="596.0" stroke="#cfcfcf" stroke-width="0.5" stroke-dasharray="1.6 1.2"/>
<line x1="578.50" y1="596.00" x2="580.50" y2="596.00" stroke="#333" stroke-width="0.5"/>
<text x="577.4" y="598.1" font-size="5.95" fill="#111" text-anchor="end">Pathways in cancer</text>
<circle cx="608.4" cy="596.0" r="3.9" fill="#7a7082" stroke="#2a3a6a" stroke-width="0.35"/>
<line x1="580.5" y1="611.9" x2="680.7" y2="611.9" stroke="#cfcfcf" stroke-width="0.5" stroke-dasharray="1.6 1.2"/>
<line x1="578.50" y1="611.89" x2="580.50" y2="611.89" stroke="#333" stroke-width="0.5"/>
<text x="577.4" y="614.0" font-size="5.95" fill="#111" text-anchor="end">PI3K-Akt signaling pathway</text>
<circle cx="605.7" cy="611.9" r="2.7" fill="#4a84d0" stroke="#2a3a6a" stroke-width="0.35"/>
<line x1="580.5" y1="627.8" x2="680.7" y2="627.8" stroke="#cfcfcf" stroke-width="0.5" stroke-dasharray="1.6 1.2"/>
<line x1="578.50" y1="627.78" x2="580.50" y2="627.78" stroke="#333" stroke-width="0.5"/>
<text x="577.4" y="629.9" font-size="5.95" fill="#111" text-anchor="end">Pathways of neurodegeneration - multiple diseases</text>
<circle cx="601.0" cy="627.8" r="3.2" fill="#4a8ad6" stroke="#2a3a6a" stroke-width="0.35"/>
<line x1="580.5" y1="643.7" x2="680.7" y2="643.7" stroke="#cfcfcf" stroke-width="0.5" stroke-dasharray="1.6 1.2"/>
<line x1="578.50" y1="643.67" x2="580.50" y2="643.67" stroke="#333" stroke-width="0.5"/>
<text x="577.4" y="645.8" font-size="5.95" fill="#111" text-anchor="end">Ras signaling pathway</text>
<circle cx="607.6" cy="643.7" r="1.9" fill="#4a84d0" stroke="#2a3a6a" stroke-width="0.35"/>
<line x1="580.5" y1="659.6" x2="680.7" y2="659.6" stroke="#cfcfcf" stroke-width="0.5" stroke-dasharray="1.6 1.2"/>
<line x1="578.50" y1="659.56" x2="580.50" y2="659.56" stroke="#333" stroke-width="0.5"/>
<text x="577.4" y="661.7" font-size="5.95" fill="#111" text-anchor="end">Human immunodeficiency virus 1 infection</text>
<circle cx="607.6" cy="659.6" r="1.9" fill="#4a84d0" stroke="#2a3a6a" stroke-width="0.35"/>
<line x1="580.5" y1="675.5" x2="680.7" y2="675.5" stroke="#cfcfcf" stroke-width="0.5" stroke-dasharray="1.6 1.2"/>
<line x1="578.50" y1="675.45" x2="580.50" y2="675.45" stroke="#333" stroke-width="0.5"/>
<text x="577.4" y="677.6" font-size="5.95" fill="#111" text-anchor="end">Alzheimer disease</text>
<circle cx="601.0" cy="675.5" r="2.7" fill="#4a8ad6" stroke="#2a3a6a" stroke-width="0.35"/>
<line x1="580.5" y1="691.3" x2="680.7" y2="691.3" stroke="#cfcfcf" stroke-width="0.5" stroke-dasharray="1.6 1.2"/>
<line x1="578.50" y1="691.34" x2="580.50" y2="691.34" stroke="#333" stroke-width="0.5"/>
<text x="577.4" y="693.4" font-size="5.95" fill="#111" text-anchor="end">Phospholipase D signaling pathway</text>
<circle cx="608.8" cy="691.3" r="1.3" fill="#4a7ec8" stroke="#2a3a6a" stroke-width="0.35"/>
<line x1="580.5" y1="707.2" x2="680.7" y2="707.2" stroke="#cfcfcf" stroke-width="0.5" stroke-dasharray="1.6 1.2"/>
<line x1="578.50" y1="707.23" x2="580.50" y2="707.23" stroke="#333" stroke-width="0.5"/>
<text x="577.4" y="709.3" font-size="5.95" fill="#111" text-anchor="end">Fc gamma R-mediated phagocytosis</text>
<circle cx="614.2" cy="707.2" r="0.9" fill="#6a6a98" stroke="#2a3a6a" stroke-width="0.35"/>
<line x1="580.5" y1="723.1" x2="680.7" y2="723.1" stroke="#cfcfcf" stroke-width="0.5" stroke-dasharray="1.6 1.2"/>
<line x1="578.50" y1="723.12" x2="580.50" y2="723.12" stroke="#333" stroke-width="0.5"/>
<text x="577.4" y="725.2" font-size="5.95" fill="#111" text-anchor="end">Chemokine signaling pathway</text>
<circle cx="605.0" cy="723.1" r="1.5" fill="#4a84d0" stroke="#2a3a6a" stroke-width="0.35"/>
<line x1="580.5" y1="739.0" x2="680.7" y2="739.0" stroke="#cfcfcf" stroke-width="0.5" stroke-dasharray="1.6 1.2"/>
<line x1="578.50" y1="739.01" x2="580.50" y2="739.01" stroke="#333" stroke-width="0.5"/>
<text x="577.4" y="741.1" font-size="5.95" fill="#111" text-anchor="end">Proteoglycans in cancer</text>
<circle cx="604.1" cy="739.0" r="1.5" fill="#4a84d0" stroke="#2a3a6a" stroke-width="0.35"/>
<line x1="580.5" y1="754.9" x2="680.7" y2="754.9" stroke="#cfcfcf" stroke-width="0.5" stroke-dasharray="1.6 1.2"/>
<line x1="578.50" y1="754.90" x2="580.50" y2="754.90" stroke="#333" stroke-width="0.5"/>
<text x="577.4" y="757.0" font-size="5.95" fill="#111" text-anchor="end">Signaling pathways regulating pluripotency of stem cells</text>
<circle cx="607.6" cy="754.9" r="1.3" fill="#4a7ec8" stroke="#2a3a6a" stroke-width="0.35"/>
<line x1="580.5" y1="770.8" x2="680.7" y2="770.8" stroke="#cfcfcf" stroke-width="0.5" stroke-dasharray="1.6 1.2"/>
<line x1="578.50" y1="770.79" x2="580.50" y2="770.79" stroke="#333" stroke-width="0.5"/>
<text x="577.2" y="774.2" font-size="9.8" font-weight="bold" fill="#f02020" text-anchor="end" textLength="125" lengthAdjust="spacingAndGlyphs">NF-kappa B signaling pathway</text>
<circle cx="664.9" cy="770.8" r="1.5" fill="#c04050" stroke="#2a3a6a" stroke-width="0.35"/>
<line x1="580.5" y1="786.7" x2="680.7" y2="786.7" stroke="#cfcfcf" stroke-width="0.5" stroke-dasharray="1.6 1.2"/>
<line x1="578.50" y1="786.68" x2="580.50" y2="786.68" stroke="#333" stroke-width="0.5"/>
<text x="577.2" y="790.1" font-size="9.8" font-weight="bold" fill="#f02020" text-anchor="end" textLength="139" lengthAdjust="spacingAndGlyphs">Toll-like receptor signaling pathway</text>
<circle cx="649.0" cy="786.7" r="1.3" fill="#a04a5a" stroke="#2a3a6a" stroke-width="0.35"/>
<line x1="580.5" y1="802.6" x2="680.7" y2="802.6" stroke="#cfcfcf" stroke-width="0.5" stroke-dasharray="1.6 1.2"/>
<line x1="578.50" y1="802.57" x2="580.50" y2="802.57" stroke="#333" stroke-width="0.5"/>
<text x="577.4" y="804.7" font-size="5.95" fill="#111" text-anchor="end">NOD-like receptor signaling pathway</text>
<circle cx="612.6" cy="802.6" r="2.0" fill="#4a88d6" stroke="#2a3a6a" stroke-width="0.35"/>
<line x1="580.5" y1="818.5" x2="680.7" y2="818.5" stroke="#cfcfcf" stroke-width="0.5" stroke-dasharray="1.6 1.2"/>
<line x1="578.50" y1="818.46" x2="580.50" y2="818.46" stroke="#333" stroke-width="0.5"/>
<text x="577.4" y="820.6" font-size="5.95" fill="#111" text-anchor="end">JAK-STAT signaling pathway</text>
<circle cx="611.1" cy="818.5" r="1.7" fill="#4a88d6" stroke="#2a3a6a" stroke-width="0.35"/>
<line x1="580.5" y1="834.4" x2="680.7" y2="834.4" stroke="#cfcfcf" stroke-width="0.5" stroke-dasharray="1.6 1.2"/>
<line x1="578.50" y1="834.35" x2="580.50" y2="834.35" stroke="#333" stroke-width="0.5"/>
<text x="577.4" y="836.5" font-size="5.95" fill="#111" text-anchor="end">MTOR signaling pathway</text>
<circle cx="618.5" cy="834.4" r="1.7" fill="#4a88d6" stroke="#2a3a6a" stroke-width="0.35"/>
<rect x="580.50" y="588.40" width="100.20" height="253.80" fill="none" stroke="#555" stroke-width="0.8"/>
<line x1="590.20" y1="842.20" x2="590.20" y2="844.00" stroke="#333" stroke-width="0.5"/>
<text x="590.2" y="850.0" font-size="6.4" fill="#333" text-anchor="middle">0.3</text>
<line x1="615.30" y1="842.20" x2="615.30" y2="844.00" stroke="#333" stroke-width="0.5"/>
<text x="615.3" y="850.0" font-size="6.4" fill="#333" text-anchor="middle">0.4</text>
<line x1="640.40" y1="842.20" x2="640.40" y2="844.00" stroke="#333" stroke-width="0.5"/>
<text x="640.4" y="850.0" font-size="6.4" fill="#333" text-anchor="middle">0.5</text>
<line x1="665.50" y1="842.20" x2="665.50" y2="844.00" stroke="#333" stroke-width="0.5"/>
<text x="665.5" y="850.0" font-size="6.4" fill="#333" text-anchor="middle">0.6</text>
<text x="630.5" y="858.8" font-size="6.8" fill="#111" font-weight="bold" text-anchor="middle">Gene Ratio</text>
<text x="430.6" y="711" font-size="8.6" fill="#111" text-anchor="middle" transform="rotate(-90 430.6 711)">Pathway</text>
<text x="590.2" y="868.0" font-size="5.9" fill="#333" text-anchor="start">Gene number</text>
<circle cx="593.7" cy="875" r="0.6" fill="#606060"/>
<text x="603.8" y="875.6" font-size="5.9" fill="#333" text-anchor="start">37</text>
<circle cx="593.7" cy="885.9" r="1.4" fill="#606060"/>
<text x="603.8" y="886.5" font-size="5.9" fill="#333" text-anchor="start">78.5</text>
<circle cx="593.7" cy="897.5" r="2.1" fill="#606060"/>
<text x="603.8" y="898.1" font-size="5.9" fill="#333" text-anchor="start">120</text>
<circle cx="593.7" cy="908.7" r="2.8" fill="#606060"/>
<text x="603.8" y="909.3" font-size="5.9" fill="#333" text-anchor="start">161.5</text>
<circle cx="593.7" cy="919.6" r="3.5" fill="#606060"/>
<text x="603.8" y="920.2" font-size="5.9" fill="#333" text-anchor="start">203</text>
<text x="643.0" y="870.5" font-size="5.6" fill="#333" text-anchor="start">-log<tspan font-size="3.8" dy="1.2">10</tspan><tspan dy="-1.2">(Qvalue)</tspan></text>
<rect x="643.60" y="876.20" width="5.40" height="40.30" fill="url(#qv)"/>
<line x1="643.60" y1="880.10" x2="644.80" y2="880.10" stroke="#fff" stroke-width="0.5"/>
<line x1="647.80" y1="880.10" x2="649.00" y2="880.10" stroke="#fff" stroke-width="0.5"/>
<text x="650.5" y="882.1" font-size="5.6" fill="#333" text-anchor="start">8</text>
<line x1="643.60" y1="890.50" x2="644.80" y2="890.50" stroke="#fff" stroke-width="0.5"/>
<line x1="647.80" y1="890.50" x2="649.00" y2="890.50" stroke="#fff" stroke-width="0.5"/>
<text x="650.5" y="892.5" font-size="5.6" fill="#333" text-anchor="start">6</text>
<line x1="643.60" y1="901.00" x2="644.80" y2="901.00" stroke="#fff" stroke-width="0.5"/>
<line x1="647.80" y1="901.00" x2="649.00" y2="901.00" stroke="#fff" stroke-width="0.5"/>
<text x="650.5" y="903.0" font-size="5.6" fill="#333" text-anchor="start">4</text>
<line x1="643.60" y1="911.80" x2="644.80" y2="911.80" stroke="#fff" stroke-width="0.5"/>
<line x1="647.80" y1="911.80" x2="649.00" y2="911.80" stroke="#fff" stroke-width="0.5"/>
<text x="650.5" y="913.8" font-size="5.6" fill="#333" text-anchor="start">2</text>
</svg></body></html>
